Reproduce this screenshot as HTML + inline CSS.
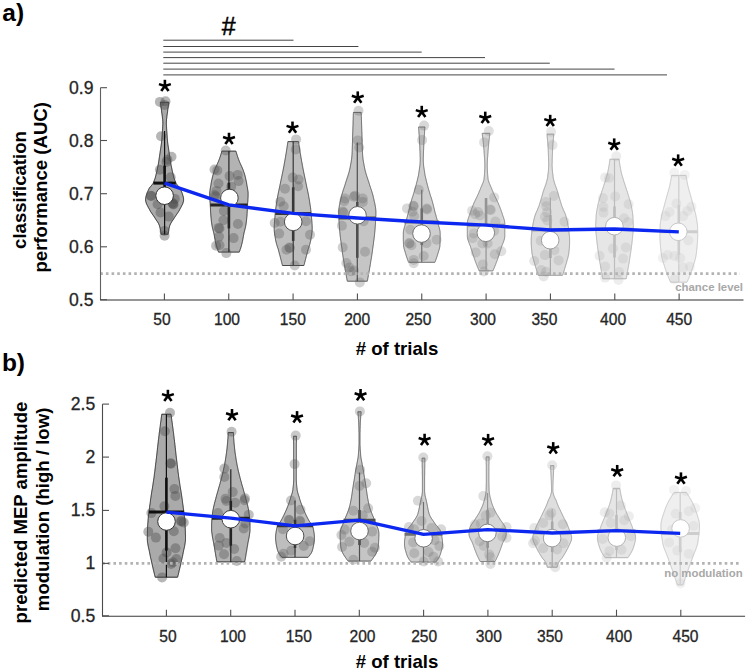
<!DOCTYPE html>
<html><head><meta charset="utf-8"><style>
html,body{margin:0;padding:0;background:#fff;width:749px;height:671px;overflow:hidden;}
svg text{font-family:"Liberation Sans", sans-serif;}
</style></head><body>
<svg width="749" height="671" viewBox="0 0 749 671" style="position:absolute;left:0;top:0">
<line x1="163.3" y1="40.2" x2="293.5" y2="40.2" stroke="#454545" stroke-width="1.0"/>
<line x1="163.3" y1="46.5" x2="358.4" y2="46.5" stroke="#454545" stroke-width="1.0"/>
<line x1="163.3" y1="52.1" x2="421.7" y2="52.1" stroke="#454545" stroke-width="1.0"/>
<line x1="163.3" y1="57.6" x2="485" y2="57.6" stroke="#454545" stroke-width="1.0"/>
<line x1="163.3" y1="63.2" x2="549.8" y2="63.2" stroke="#454545" stroke-width="1.0"/>
<line x1="163.3" y1="69.1" x2="614.5" y2="69.1" stroke="#454545" stroke-width="1.0"/>
<line x1="163.3" y1="74.9" x2="667" y2="74.9" stroke="#454545" stroke-width="1.0"/>
<text x="228.7" y="34.5" font-size="25" font-weight="normal" text-anchor="middle" fill="#000" stroke="#000" stroke-width="0.45">#</text>
<path d="M168.9,102.3 L168.8,103.0 L168.7,103.6 L168.6,104.3 L168.5,105.0 L168.4,105.6 L168.3,106.3 L168.2,107.0 L168.1,107.6 L168.0,108.3 L167.9,109.0 L167.8,109.6 L167.7,110.3 L167.6,111.0 L167.6,111.6 L167.5,112.3 L167.4,113.0 L167.3,113.6 L167.2,114.3 L167.1,115.0 L167.0,115.6 L166.9,116.3 L166.8,117.0 L166.8,117.6 L166.7,118.3 L166.6,119.0 L166.5,119.6 L166.5,120.3 L166.4,121.0 L166.4,121.6 L166.4,122.3 L166.4,123.0 L166.4,123.6 L166.4,124.3 L166.4,124.9 L166.5,125.6 L166.5,126.3 L166.5,126.9 L166.6,127.6 L166.6,128.3 L166.6,128.9 L166.7,129.6 L166.7,130.3 L166.8,130.9 L166.8,131.6 L166.9,132.3 L166.9,132.9 L167.0,133.6 L167.0,134.3 L167.1,134.9 L167.1,135.6 L167.2,136.3 L167.2,136.9 L167.2,137.6 L167.3,138.3 L167.3,138.9 L167.4,139.6 L167.5,140.3 L167.5,140.9 L167.6,141.6 L167.6,142.3 L167.7,142.9 L167.8,143.6 L167.9,144.3 L168.0,144.9 L168.1,145.6 L168.2,146.3 L168.3,146.9 L168.4,147.6 L168.5,148.3 L168.6,148.9 L168.7,149.6 L168.8,150.3 L168.9,150.9 L169.0,151.6 L169.1,152.3 L169.2,152.9 L169.3,153.6 L169.4,154.3 L169.5,154.9 L169.6,155.6 L169.7,156.3 L169.7,156.9 L169.9,157.6 L170.0,158.3 L170.1,158.9 L170.2,159.6 L170.3,160.3 L170.4,160.9 L170.5,161.6 L170.6,162.3 L170.7,162.9 L170.8,163.6 L170.9,164.3 L171.1,164.9 L171.2,165.6 L171.3,166.3 L171.5,166.9 L171.6,167.6 L171.7,168.2 L171.9,168.9 L172.0,169.6 L172.1,170.2 L172.3,170.9 L172.4,171.6 L172.6,172.2 L172.7,172.9 L172.9,173.6 L173.1,174.2 L173.2,174.9 L173.4,175.6 L173.6,176.2 L173.7,176.9 L173.9,177.6 L174.1,178.2 L174.3,178.9 L174.6,179.6 L174.8,180.2 L175.0,180.9 L175.3,181.6 L175.6,182.2 L175.8,182.9 L176.2,183.6 L176.7,184.2 L177.2,184.9 L177.8,185.6 L178.3,186.2 L178.9,186.9 L179.5,187.6 L179.9,188.2 L180.3,188.9 L180.6,189.6 L180.9,190.2 L181.2,190.9 L181.5,191.6 L181.8,192.2 L182.0,192.9 L182.3,193.6 L182.5,194.2 L182.7,194.9 L182.9,195.6 L183.1,196.2 L183.3,196.9 L183.4,197.6 L183.5,198.2 L183.6,198.9 L183.6,199.6 L183.6,200.2 L183.5,200.9 L183.4,201.6 L183.2,202.2 L183.0,202.9 L182.8,203.6 L182.5,204.2 L182.2,204.9 L181.8,205.6 L181.5,206.2 L181.1,206.9 L180.8,207.6 L180.4,208.2 L180.1,208.9 L179.7,209.6 L179.4,210.2 L179.0,210.9 L178.6,211.6 L178.2,212.2 L177.7,212.9 L177.3,213.5 L176.8,214.2 L176.3,214.9 L175.9,215.5 L175.4,216.2 L175.0,216.9 L174.6,217.5 L174.1,218.2 L173.7,218.9 L173.3,219.5 L172.8,220.2 L172.4,220.9 L171.9,221.5 L171.5,222.2 L171.1,222.9 L170.7,223.5 L170.4,224.2 L170.1,224.9 L169.8,225.5 L169.6,226.2 L169.5,226.9 L169.3,227.5 L169.1,228.2 L169.0,228.9 L168.8,229.5 L168.7,230.2 L168.6,230.9 L168.5,231.5 L168.4,232.2 L168.3,232.9 L168.2,233.5 L168.2,234.2 L161.0,234.2 L161.0,233.5 L160.9,232.9 L160.8,232.2 L160.7,231.5 L160.6,230.9 L160.5,230.2 L160.4,229.5 L160.2,228.9 L160.1,228.2 L159.9,227.5 L159.7,226.9 L159.6,226.2 L159.4,225.5 L159.1,224.9 L158.8,224.2 L158.5,223.5 L158.1,222.9 L157.7,222.2 L157.3,221.5 L156.8,220.9 L156.4,220.2 L155.9,219.5 L155.5,218.9 L155.1,218.2 L154.6,217.5 L154.2,216.9 L153.8,216.2 L153.3,215.5 L152.9,214.9 L152.4,214.2 L151.9,213.5 L151.5,212.9 L151.0,212.2 L150.6,211.6 L150.2,210.9 L149.8,210.2 L149.5,209.6 L149.1,208.9 L148.8,208.2 L148.4,207.6 L148.1,206.9 L147.7,206.2 L147.4,205.6 L147.0,204.9 L146.7,204.2 L146.4,203.6 L146.2,202.9 L146.0,202.2 L145.8,201.6 L145.7,200.9 L145.6,200.2 L145.6,199.6 L145.6,198.9 L145.7,198.2 L145.8,197.6 L145.9,196.9 L146.1,196.2 L146.3,195.6 L146.5,194.9 L146.7,194.2 L146.9,193.6 L147.2,192.9 L147.4,192.2 L147.7,191.6 L148.0,190.9 L148.3,190.2 L148.6,189.6 L148.9,188.9 L149.3,188.2 L149.7,187.6 L150.3,186.9 L150.9,186.2 L151.4,185.6 L152.0,184.9 L152.5,184.2 L153.0,183.6 L153.4,182.9 L153.6,182.2 L153.9,181.6 L154.2,180.9 L154.4,180.2 L154.6,179.6 L154.9,178.9 L155.1,178.2 L155.3,177.6 L155.5,176.9 L155.6,176.2 L155.8,175.6 L156.0,174.9 L156.1,174.2 L156.3,173.6 L156.5,172.9 L156.6,172.2 L156.8,171.6 L156.9,170.9 L157.1,170.2 L157.2,169.6 L157.3,168.9 L157.5,168.2 L157.6,167.6 L157.7,166.9 L157.9,166.3 L158.0,165.6 L158.1,164.9 L158.3,164.3 L158.4,163.6 L158.5,162.9 L158.6,162.3 L158.7,161.6 L158.8,160.9 L158.9,160.3 L159.0,159.6 L159.1,158.9 L159.2,158.3 L159.3,157.6 L159.5,156.9 L159.5,156.3 L159.6,155.6 L159.7,154.9 L159.8,154.3 L159.9,153.6 L160.0,152.9 L160.1,152.3 L160.2,151.6 L160.3,150.9 L160.4,150.3 L160.5,149.6 L160.6,148.9 L160.7,148.3 L160.8,147.6 L160.9,146.9 L161.0,146.3 L161.1,145.6 L161.2,144.9 L161.3,144.3 L161.4,143.6 L161.5,142.9 L161.6,142.3 L161.6,141.6 L161.7,140.9 L161.7,140.3 L161.8,139.6 L161.9,138.9 L161.9,138.3 L162.0,137.6 L162.0,136.9 L162.0,136.3 L162.1,135.6 L162.1,134.9 L162.2,134.3 L162.2,133.6 L162.3,132.9 L162.3,132.3 L162.4,131.6 L162.4,130.9 L162.5,130.3 L162.5,129.6 L162.6,128.9 L162.6,128.3 L162.6,127.6 L162.7,126.9 L162.7,126.3 L162.7,125.6 L162.8,124.9 L162.8,124.3 L162.8,123.6 L162.8,123.0 L162.8,122.3 L162.8,121.6 L162.8,121.0 L162.7,120.3 L162.7,119.6 L162.6,119.0 L162.5,118.3 L162.4,117.6 L162.4,117.0 L162.3,116.3 L162.2,115.6 L162.1,115.0 L162.0,114.3 L161.9,113.6 L161.8,113.0 L161.7,112.3 L161.6,111.6 L161.6,111.0 L161.5,110.3 L161.4,109.6 L161.3,109.0 L161.2,108.3 L161.1,107.6 L161.0,107.0 L160.9,106.3 L160.8,105.6 L160.7,105.0 L160.6,104.3 L160.5,103.6 L160.4,103.0 L160.3,102.3 Z" fill="rgb(170,170,170)" stroke="rgb(40,40,40)" stroke-width="1.0" stroke-linejoin="round"/>
<circle cx="159.9" cy="101.9" r="5.0" fill="rgb(78,78,78)" fill-opacity="0.41"/>
<circle cx="165.5" cy="101.2" r="5.0" fill="rgb(78,78,78)" fill-opacity="0.41"/>
<circle cx="164.5" cy="105" r="5.0" fill="rgb(78,78,78)" fill-opacity="0.41"/>
<circle cx="161" cy="136.2" r="5.0" fill="rgb(78,78,78)" fill-opacity="0.41"/>
<circle cx="171.5" cy="156.8" r="5.0" fill="rgb(78,78,78)" fill-opacity="0.41"/>
<circle cx="167.4" cy="159.7" r="5.0" fill="rgb(78,78,78)" fill-opacity="0.41"/>
<circle cx="166.5" cy="162" r="5.0" fill="rgb(78,78,78)" fill-opacity="0.41"/>
<circle cx="159.9" cy="169.8" r="5.0" fill="rgb(78,78,78)" fill-opacity="0.41"/>
<circle cx="170.7" cy="177.3" r="5.0" fill="rgb(78,78,78)" fill-opacity="0.41"/>
<circle cx="150.7" cy="195.7" r="5.0" fill="rgb(78,78,78)" fill-opacity="0.41"/>
<circle cx="151.5" cy="196" r="5.0" fill="rgb(78,78,78)" fill-opacity="0.41"/>
<circle cx="174.8" cy="198.9" r="5.0" fill="rgb(78,78,78)" fill-opacity="0.41"/>
<circle cx="173.2" cy="203.9" r="5.0" fill="rgb(78,78,78)" fill-opacity="0.41"/>
<circle cx="173.5" cy="204.5" r="5.0" fill="rgb(78,78,78)" fill-opacity="0.41"/>
<circle cx="172.5" cy="203" r="5.0" fill="rgb(78,78,78)" fill-opacity="0.41"/>
<circle cx="157.6" cy="204.3" r="5.0" fill="rgb(78,78,78)" fill-opacity="0.41"/>
<circle cx="160.5" cy="212.5" r="5.0" fill="rgb(78,78,78)" fill-opacity="0.41"/>
<circle cx="168.7" cy="216.6" r="5.0" fill="rgb(78,78,78)" fill-opacity="0.41"/>
<circle cx="164.5" cy="230.9" r="5.0" fill="rgb(78,78,78)" fill-opacity="0.41"/>
<circle cx="164.6" cy="235.8" r="5.0" fill="rgb(78,78,78)" fill-opacity="0.41"/>
<line x1="164.6" y1="131" x2="164.6" y2="234.2" stroke="rgb(15,15,15)" stroke-width="1.2"/>
<line x1="164.6" y1="165.7" x2="164.6" y2="200" stroke="rgb(15,15,15)" stroke-width="2.6"/>
<line x1="153.4" y1="183.1" x2="175.79999999999998" y2="183.1" stroke="rgb(15,15,15)" stroke-width="3.0"/>
<circle cx="164.6" cy="195.7" r="8.8" fill="#fff" stroke="rgb(50,50,50)" stroke-width="1.0"/>
<path d="M235.9,151.1 L236.1,151.8 L236.3,152.4 L236.5,153.1 L236.7,153.8 L236.9,154.4 L237.1,155.1 L237.3,155.8 L237.5,156.4 L237.8,157.1 L238.0,157.7 L238.2,158.4 L238.5,159.1 L238.7,159.7 L239.0,160.4 L239.2,161.1 L239.5,161.7 L239.8,162.4 L240.0,163.1 L240.4,163.7 L240.7,164.4 L241.0,165.1 L241.3,165.7 L241.6,166.4 L241.9,167.0 L242.2,167.7 L242.5,168.4 L242.8,169.0 L243.0,169.7 L243.3,170.4 L243.5,171.0 L243.7,171.7 L244.0,172.4 L244.2,173.0 L244.4,173.7 L244.6,174.4 L244.8,175.0 L245.0,175.7 L245.1,176.3 L245.3,177.0 L245.5,177.7 L245.6,178.3 L245.8,179.0 L245.9,179.7 L246.1,180.3 L246.2,181.0 L246.3,181.7 L246.5,182.3 L246.6,183.0 L246.7,183.7 L246.8,184.3 L246.9,185.0 L247.0,185.7 L247.1,186.3 L247.3,187.0 L247.4,187.6 L247.5,188.3 L247.6,189.0 L247.7,189.6 L247.8,190.3 L247.9,191.0 L248.0,191.6 L248.1,192.3 L248.1,193.0 L248.1,193.6 L248.1,194.3 L248.1,195.0 L248.1,195.6 L248.1,196.3 L248.1,196.9 L248.0,197.6 L248.0,198.3 L248.0,198.9 L247.9,199.6 L247.9,200.3 L247.8,200.9 L247.8,201.6 L247.7,202.3 L247.7,202.9 L247.6,203.6 L247.6,204.3 L247.5,204.9 L247.5,205.6 L247.5,206.3 L247.4,206.9 L247.4,207.6 L247.4,208.2 L247.3,208.9 L247.3,209.6 L247.3,210.2 L247.3,210.9 L247.2,211.6 L247.2,212.2 L247.1,212.9 L247.1,213.6 L247.1,214.2 L247.0,214.9 L247.0,215.6 L246.9,216.2 L246.9,216.9 L246.8,217.5 L246.7,218.2 L246.7,218.9 L246.6,219.5 L246.5,220.2 L246.5,220.9 L246.4,221.5 L246.3,222.2 L246.2,222.9 L246.1,223.5 L246.0,224.2 L245.9,224.9 L245.8,225.5 L245.7,226.2 L245.5,226.8 L245.4,227.5 L245.2,228.2 L245.1,228.8 L244.9,229.5 L244.7,230.2 L244.6,230.8 L244.4,231.5 L244.2,232.2 L244.1,232.8 L243.9,233.5 L243.8,234.2 L243.7,234.8 L243.5,235.5 L243.4,236.2 L243.3,236.8 L243.2,237.5 L243.1,238.1 L242.9,238.8 L242.8,239.5 L242.7,240.1 L242.6,240.8 L242.4,241.5 L242.3,242.1 L242.1,242.8 L242.0,243.5 L241.8,244.1 L241.6,244.8 L241.5,245.5 L241.3,246.1 L241.1,246.8 L240.9,247.4 L240.7,248.1 L240.5,248.8 L240.2,249.4 L240.0,250.1 L239.8,250.8 L239.5,251.4 L239.3,252.1 L218.5,252.1 L218.3,251.4 L218.0,250.8 L217.8,250.1 L217.6,249.4 L217.3,248.8 L217.1,248.1 L216.9,247.4 L216.7,246.8 L216.5,246.1 L216.3,245.5 L216.2,244.8 L216.0,244.1 L215.8,243.5 L215.7,242.8 L215.5,242.1 L215.4,241.5 L215.2,240.8 L215.1,240.1 L215.0,239.5 L214.9,238.8 L214.7,238.1 L214.6,237.5 L214.5,236.8 L214.4,236.2 L214.3,235.5 L214.1,234.8 L214.0,234.2 L213.9,233.5 L213.7,232.8 L213.6,232.2 L213.4,231.5 L213.2,230.8 L213.1,230.2 L212.9,229.5 L212.7,228.8 L212.6,228.2 L212.4,227.5 L212.3,226.8 L212.1,226.2 L212.0,225.5 L211.9,224.9 L211.8,224.2 L211.7,223.5 L211.6,222.9 L211.5,222.2 L211.4,221.5 L211.3,220.9 L211.3,220.2 L211.2,219.5 L211.1,218.9 L211.1,218.2 L211.0,217.5 L210.9,216.9 L210.9,216.2 L210.8,215.6 L210.8,214.9 L210.7,214.2 L210.7,213.6 L210.7,212.9 L210.6,212.2 L210.6,211.6 L210.5,210.9 L210.5,210.2 L210.5,209.6 L210.5,208.9 L210.4,208.2 L210.4,207.6 L210.4,206.9 L210.3,206.3 L210.3,205.6 L210.3,204.9 L210.2,204.3 L210.2,203.6 L210.1,202.9 L210.1,202.3 L210.0,201.6 L210.0,200.9 L209.9,200.3 L209.9,199.6 L209.8,198.9 L209.8,198.3 L209.8,197.6 L209.7,196.9 L209.7,196.3 L209.7,195.6 L209.7,195.0 L209.7,194.3 L209.7,193.6 L209.7,193.0 L209.7,192.3 L209.8,191.6 L209.9,191.0 L210.0,190.3 L210.1,189.6 L210.2,189.0 L210.3,188.3 L210.4,187.6 L210.5,187.0 L210.7,186.3 L210.8,185.7 L210.9,185.0 L211.0,184.3 L211.1,183.7 L211.2,183.0 L211.3,182.3 L211.5,181.7 L211.6,181.0 L211.7,180.3 L211.9,179.7 L212.0,179.0 L212.2,178.3 L212.3,177.7 L212.5,177.0 L212.7,176.3 L212.8,175.7 L213.0,175.0 L213.2,174.4 L213.4,173.7 L213.6,173.0 L213.8,172.4 L214.1,171.7 L214.3,171.0 L214.5,170.4 L214.8,169.7 L215.0,169.0 L215.3,168.4 L215.6,167.7 L215.9,167.0 L216.2,166.4 L216.5,165.7 L216.8,165.1 L217.1,164.4 L217.4,163.7 L217.8,163.1 L218.0,162.4 L218.3,161.7 L218.6,161.1 L218.8,160.4 L219.1,159.7 L219.3,159.1 L219.6,158.4 L219.8,157.7 L220.0,157.1 L220.3,156.4 L220.5,155.8 L220.7,155.1 L220.9,154.4 L221.1,153.8 L221.3,153.1 L221.5,152.4 L221.7,151.8 L221.9,151.1 Z" fill="rgb(179,179,179)" stroke="rgb(55,55,55)" stroke-width="1.0" stroke-linejoin="round"/>
<circle cx="225.7" cy="150.5" r="5.0" fill="rgb(82,82,82)" fill-opacity="0.37"/>
<circle cx="217.3" cy="170.4" r="5.0" fill="rgb(82,82,82)" fill-opacity="0.37"/>
<circle cx="214.5" cy="169.5" r="5.0" fill="rgb(82,82,82)" fill-opacity="0.37"/>
<circle cx="229.6" cy="176.1" r="5.0" fill="rgb(82,82,82)" fill-opacity="0.37"/>
<circle cx="237.8" cy="174.9" r="5.0" fill="rgb(82,82,82)" fill-opacity="0.37"/>
<circle cx="238.6" cy="181.1" r="5.0" fill="rgb(82,82,82)" fill-opacity="0.37"/>
<circle cx="218.5" cy="183.5" r="5.0" fill="rgb(82,82,82)" fill-opacity="0.37"/>
<circle cx="231.2" cy="186.8" r="5.0" fill="rgb(82,82,82)" fill-opacity="0.37"/>
<circle cx="216.5" cy="190.9" r="5.0" fill="rgb(82,82,82)" fill-opacity="0.37"/>
<circle cx="214.8" cy="195" r="5.0" fill="rgb(82,82,82)" fill-opacity="0.37"/>
<circle cx="215.6" cy="196.5" r="5.0" fill="rgb(82,82,82)" fill-opacity="0.37"/>
<circle cx="223.9" cy="211" r="5.0" fill="rgb(82,82,82)" fill-opacity="0.37"/>
<circle cx="223.4" cy="220.2" r="5.0" fill="rgb(82,82,82)" fill-opacity="0.37"/>
<circle cx="218.6" cy="227.9" r="5.0" fill="rgb(82,82,82)" fill-opacity="0.37"/>
<circle cx="219.5" cy="228.5" r="5.0" fill="rgb(82,82,82)" fill-opacity="0.37"/>
<circle cx="237.9" cy="224" r="5.0" fill="rgb(82,82,82)" fill-opacity="0.37"/>
<circle cx="219" cy="236.6" r="5.0" fill="rgb(82,82,82)" fill-opacity="0.37"/>
<circle cx="233.6" cy="238.1" r="5.0" fill="rgb(82,82,82)" fill-opacity="0.37"/>
<circle cx="219.5" cy="245.3" r="5.0" fill="rgb(82,82,82)" fill-opacity="0.37"/>
<circle cx="216.1" cy="245.8" r="5.0" fill="rgb(82,82,82)" fill-opacity="0.37"/>
<circle cx="226.3" cy="253.1" r="5.0" fill="rgb(82,82,82)" fill-opacity="0.37"/>
<line x1="228.9" y1="151.1" x2="228.9" y2="252.1" stroke="rgb(35,35,35)" stroke-width="1.2"/>
<line x1="228.9" y1="182.7" x2="228.9" y2="228.4" stroke="rgb(35,35,35)" stroke-width="2.6"/>
<line x1="210.25" y1="204.9" x2="247.55" y2="204.9" stroke="rgb(35,35,35)" stroke-width="3.0"/>
<circle cx="229.4" cy="198.0" r="8.8" fill="#fff" stroke="rgb(65,65,65)" stroke-width="1.0"/>
<path d="M298.5,141.6 L298.6,142.3 L298.7,142.9 L298.8,143.6 L298.9,144.3 L299.0,144.9 L299.1,145.6 L299.2,146.3 L299.3,146.9 L299.4,147.6 L299.5,148.3 L299.6,148.9 L299.7,149.6 L299.8,150.3 L299.9,150.9 L300.0,151.6 L300.1,152.3 L300.2,152.9 L300.3,153.6 L300.5,154.3 L300.6,154.9 L300.7,155.6 L300.8,156.3 L300.9,156.9 L301.0,157.6 L301.1,158.3 L301.3,158.9 L301.4,159.6 L301.5,160.3 L301.6,160.9 L301.7,161.6 L301.8,162.2 L302.0,162.9 L302.1,163.6 L302.2,164.2 L302.3,164.9 L302.4,165.6 L302.6,166.2 L302.7,166.9 L302.8,167.6 L302.9,168.2 L303.1,168.9 L303.2,169.6 L303.3,170.2 L303.5,170.9 L303.6,171.6 L303.7,172.2 L303.9,172.9 L304.0,173.6 L304.2,174.2 L304.3,174.9 L304.4,175.6 L304.6,176.2 L304.7,176.9 L304.8,177.6 L305.0,178.2 L305.1,178.9 L305.3,179.6 L305.4,180.2 L305.5,180.9 L305.7,181.6 L305.8,182.2 L305.9,182.9 L306.1,183.6 L306.2,184.2 L306.4,184.9 L306.5,185.6 L306.6,186.2 L306.8,186.9 L306.9,187.6 L307.1,188.2 L307.2,188.9 L307.4,189.6 L307.5,190.2 L307.6,190.9 L307.8,191.6 L307.9,192.2 L308.1,192.9 L308.2,193.6 L308.3,194.2 L308.5,194.9 L308.6,195.6 L308.7,196.2 L308.8,196.9 L308.9,197.6 L309.1,198.2 L309.2,198.9 L309.3,199.6 L309.4,200.2 L309.5,200.9 L309.6,201.6 L309.7,202.2 L309.8,202.9 L309.9,203.6 L310.0,204.2 L310.1,204.9 L310.2,205.5 L310.3,206.2 L310.4,206.9 L310.5,207.5 L310.6,208.2 L310.7,208.9 L310.7,209.5 L310.8,210.2 L310.9,210.9 L311.0,211.5 L311.0,212.2 L311.1,212.9 L311.2,213.5 L311.2,214.2 L311.3,214.9 L311.4,215.5 L311.4,216.2 L311.5,216.9 L311.5,217.5 L311.6,218.2 L311.7,218.9 L311.7,219.5 L311.8,220.2 L311.8,220.9 L311.9,221.5 L311.9,222.2 L312.0,222.9 L312.0,223.5 L312.1,224.2 L312.1,224.9 L312.1,225.5 L312.2,226.2 L312.2,226.9 L312.2,227.5 L312.2,228.2 L312.2,228.9 L312.2,229.5 L312.2,230.2 L312.1,230.9 L312.1,231.5 L312.0,232.2 L311.9,232.9 L311.8,233.5 L311.8,234.2 L311.7,234.9 L311.6,235.5 L311.4,236.2 L311.3,236.9 L311.2,237.5 L311.1,238.2 L311.0,238.9 L310.9,239.5 L310.8,240.2 L310.6,240.9 L310.5,241.5 L310.3,242.2 L310.1,242.9 L310.0,243.5 L309.8,244.2 L309.6,244.8 L309.4,245.5 L309.2,246.2 L309.0,246.8 L308.8,247.5 L308.5,248.2 L308.3,248.8 L308.1,249.5 L307.9,250.2 L307.8,250.8 L307.6,251.5 L307.4,252.2 L307.2,252.8 L307.1,253.5 L306.9,254.2 L306.7,254.8 L306.5,255.5 L306.3,256.2 L306.2,256.8 L306.0,257.5 L305.8,258.2 L305.7,258.8 L305.5,259.5 L305.3,260.2 L305.1,260.8 L305.0,261.5 L304.8,262.2 L304.6,262.8 L304.5,263.5 L304.3,264.2 L304.1,264.8 L303.9,265.5 L282.4,265.5 L282.3,264.8 L282.1,264.2 L281.9,263.5 L281.8,262.8 L281.6,262.2 L281.4,261.5 L281.3,260.8 L281.1,260.2 L280.9,259.5 L280.7,258.8 L280.6,258.2 L280.4,257.5 L280.2,256.8 L280.1,256.2 L279.9,255.5 L279.7,254.8 L279.5,254.2 L279.3,253.5 L279.2,252.8 L279.0,252.2 L278.8,251.5 L278.6,250.8 L278.5,250.2 L278.3,249.5 L278.1,248.8 L277.9,248.2 L277.6,247.5 L277.4,246.8 L277.2,246.2 L277.0,245.5 L276.8,244.8 L276.6,244.2 L276.4,243.5 L276.3,242.9 L276.1,242.2 L275.9,241.5 L275.8,240.9 L275.6,240.2 L275.5,239.5 L275.4,238.9 L275.3,238.2 L275.2,237.5 L275.1,236.9 L275.0,236.2 L274.8,235.5 L274.7,234.9 L274.6,234.2 L274.6,233.5 L274.5,232.9 L274.4,232.2 L274.3,231.5 L274.3,230.9 L274.2,230.2 L274.2,229.5 L274.2,228.9 L274.2,228.2 L274.2,227.5 L274.2,226.9 L274.2,226.2 L274.3,225.5 L274.3,224.9 L274.3,224.2 L274.4,223.5 L274.4,222.9 L274.5,222.2 L274.5,221.5 L274.6,220.9 L274.6,220.2 L274.7,219.5 L274.7,218.9 L274.8,218.2 L274.9,217.5 L274.9,216.9 L275.0,216.2 L275.0,215.5 L275.1,214.9 L275.2,214.2 L275.2,213.5 L275.3,212.9 L275.4,212.2 L275.4,211.5 L275.5,210.9 L275.6,210.2 L275.7,209.5 L275.7,208.9 L275.8,208.2 L275.9,207.5 L276.0,206.9 L276.1,206.2 L276.2,205.5 L276.3,204.9 L276.4,204.2 L276.5,203.6 L276.6,202.9 L276.7,202.2 L276.8,201.6 L276.9,200.9 L277.0,200.2 L277.1,199.6 L277.2,198.9 L277.3,198.2 L277.5,197.6 L277.6,196.9 L277.7,196.2 L277.8,195.6 L277.9,194.9 L278.1,194.2 L278.2,193.6 L278.3,192.9 L278.5,192.2 L278.6,191.6 L278.8,190.9 L278.9,190.2 L279.0,189.6 L279.2,188.9 L279.3,188.2 L279.5,187.6 L279.6,186.9 L279.8,186.2 L279.9,185.6 L280.0,184.9 L280.2,184.2 L280.3,183.6 L280.5,182.9 L280.6,182.2 L280.7,181.6 L280.9,180.9 L281.0,180.2 L281.1,179.6 L281.3,178.9 L281.4,178.2 L281.6,177.6 L281.7,176.9 L281.8,176.2 L282.0,175.6 L282.1,174.9 L282.2,174.2 L282.4,173.6 L282.5,172.9 L282.7,172.2 L282.8,171.6 L282.9,170.9 L283.1,170.2 L283.2,169.6 L283.3,168.9 L283.5,168.2 L283.6,167.6 L283.7,166.9 L283.8,166.2 L284.0,165.6 L284.1,164.9 L284.2,164.2 L284.3,163.6 L284.4,162.9 L284.6,162.2 L284.7,161.6 L284.8,160.9 L284.9,160.3 L285.0,159.6 L285.1,158.9 L285.3,158.3 L285.4,157.6 L285.5,156.9 L285.6,156.3 L285.7,155.6 L285.8,154.9 L285.9,154.3 L286.1,153.6 L286.2,152.9 L286.3,152.3 L286.4,151.6 L286.5,150.9 L286.6,150.3 L286.7,149.6 L286.8,148.9 L286.9,148.3 L287.0,147.6 L287.1,146.9 L287.2,146.3 L287.3,145.6 L287.4,144.9 L287.5,144.3 L287.6,143.6 L287.7,142.9 L287.8,142.3 L287.9,141.6 Z" fill="rgb(190,190,190)" stroke="rgb(72,72,72)" stroke-width="1.0" stroke-linejoin="round"/>
<circle cx="296.1" cy="139.4" r="5.0" fill="rgb(88,88,88)" fill-opacity="0.32"/>
<circle cx="295.7" cy="149.5" r="5.0" fill="rgb(88,88,88)" fill-opacity="0.32"/>
<circle cx="292.7" cy="177.6" r="5.0" fill="rgb(88,88,88)" fill-opacity="0.32"/>
<circle cx="298.6" cy="179.5" r="5.0" fill="rgb(88,88,88)" fill-opacity="0.32"/>
<circle cx="298.1" cy="186.3" r="5.0" fill="rgb(88,88,88)" fill-opacity="0.32"/>
<circle cx="285" cy="188.7" r="5.0" fill="rgb(88,88,88)" fill-opacity="0.32"/>
<circle cx="283.7" cy="206.2" r="5.0" fill="rgb(88,88,88)" fill-opacity="0.32"/>
<circle cx="280.3" cy="201.7" r="5.0" fill="rgb(88,88,88)" fill-opacity="0.32"/>
<circle cx="274.7" cy="223" r="5.0" fill="rgb(88,88,88)" fill-opacity="0.32"/>
<circle cx="280.3" cy="221.8" r="5.0" fill="rgb(88,88,88)" fill-opacity="0.32"/>
<circle cx="306" cy="221.3" r="5.0" fill="rgb(88,88,88)" fill-opacity="0.32"/>
<circle cx="279.2" cy="233.6" r="5.0" fill="rgb(88,88,88)" fill-opacity="0.32"/>
<circle cx="310" cy="234.7" r="5.0" fill="rgb(88,88,88)" fill-opacity="0.32"/>
<circle cx="289.3" cy="247.6" r="5.0" fill="rgb(88,88,88)" fill-opacity="0.32"/>
<circle cx="290" cy="248" r="5.0" fill="rgb(88,88,88)" fill-opacity="0.32"/>
<circle cx="286.5" cy="249.8" r="5.0" fill="rgb(88,88,88)" fill-opacity="0.32"/>
<circle cx="306" cy="249.8" r="5.0" fill="rgb(88,88,88)" fill-opacity="0.32"/>
<circle cx="294.8" cy="265.5" r="5.0" fill="rgb(88,88,88)" fill-opacity="0.32"/>
<line x1="293.2" y1="141.6" x2="293.2" y2="265.5" stroke="rgb(55,55,55)" stroke-width="1.2"/>
<line x1="293.2" y1="187.3" x2="293.2" y2="240.9" stroke="rgb(55,55,55)" stroke-width="2.6"/>
<line x1="275.3" y1="213.4" x2="311.09999999999997" y2="213.4" stroke="rgb(55,55,55)" stroke-width="3.0"/>
<circle cx="293.2" cy="221.9" r="8.8" fill="#fff" stroke="rgb(80,80,80)" stroke-width="1.0"/>
<path d="M361.2,112.4 L361.2,113.1 L361.2,113.7 L361.3,114.4 L361.3,115.1 L361.3,115.7 L361.3,116.4 L361.4,117.1 L361.4,117.7 L361.4,118.4 L361.4,119.0 L361.4,119.7 L361.5,120.4 L361.5,121.0 L361.5,121.7 L361.5,122.4 L361.6,123.0 L361.6,123.7 L361.6,124.4 L361.6,125.0 L361.6,125.7 L361.7,126.4 L361.7,127.0 L361.7,127.7 L361.7,128.3 L361.8,129.0 L361.8,129.7 L361.8,130.3 L361.8,131.0 L361.8,131.7 L361.9,132.3 L361.9,133.0 L361.9,133.7 L361.9,134.3 L362.0,135.0 L362.0,135.7 L362.0,136.3 L362.0,137.0 L362.0,137.7 L362.0,138.3 L362.1,139.0 L362.1,139.6 L362.1,140.3 L362.1,141.0 L362.1,141.6 L362.1,142.3 L362.2,143.0 L362.2,143.6 L362.2,144.3 L362.2,145.0 L362.2,145.6 L362.3,146.3 L362.3,147.0 L362.3,147.6 L362.3,148.3 L362.3,149.0 L362.4,149.6 L362.4,150.3 L362.4,150.9 L362.4,151.6 L362.5,152.3 L362.5,152.9 L362.5,153.6 L362.6,154.3 L362.6,154.9 L362.7,155.6 L362.7,156.3 L362.8,156.9 L362.9,157.6 L362.9,158.3 L363.0,158.9 L363.1,159.6 L363.2,160.2 L363.3,160.9 L363.4,161.6 L363.5,162.2 L363.6,162.9 L363.8,163.6 L363.9,164.2 L364.0,164.9 L364.1,165.6 L364.3,166.2 L364.4,166.9 L364.5,167.6 L364.7,168.2 L364.8,168.9 L364.9,169.6 L365.1,170.2 L365.3,170.9 L365.4,171.5 L365.6,172.2 L365.8,172.9 L366.0,173.5 L366.2,174.2 L366.4,174.9 L366.6,175.5 L366.8,176.2 L367.0,176.9 L367.3,177.5 L367.5,178.2 L367.7,178.9 L367.9,179.5 L368.1,180.2 L368.4,180.9 L368.6,181.5 L368.8,182.2 L369.0,182.8 L369.2,183.5 L369.4,184.2 L369.6,184.8 L369.8,185.5 L370.0,186.2 L370.3,186.8 L370.5,187.5 L370.7,188.2 L370.9,188.8 L371.2,189.5 L371.4,190.2 L371.6,190.8 L371.8,191.5 L372.0,192.1 L372.2,192.8 L372.4,193.5 L372.6,194.1 L372.8,194.8 L373.0,195.5 L373.1,196.1 L373.3,196.8 L373.4,197.5 L373.6,198.1 L373.7,198.8 L373.9,199.5 L374.0,200.1 L374.2,200.8 L374.3,201.5 L374.5,202.1 L374.6,202.8 L374.8,203.4 L374.9,204.1 L375.0,204.8 L375.2,205.4 L375.3,206.1 L375.4,206.8 L375.5,207.4 L375.6,208.1 L375.7,208.8 L375.7,209.4 L375.8,210.1 L375.9,210.8 L375.9,211.4 L375.9,212.1 L375.9,212.7 L375.9,213.4 L375.9,214.1 L375.9,214.7 L375.9,215.4 L375.8,216.1 L375.8,216.7 L375.8,217.4 L375.8,218.1 L375.7,218.7 L375.7,219.4 L375.7,220.1 L375.6,220.7 L375.6,221.4 L375.5,222.1 L375.5,222.7 L375.5,223.4 L375.4,224.0 L375.4,224.7 L375.3,225.4 L375.3,226.0 L375.2,226.7 L375.2,227.4 L375.2,228.0 L375.1,228.7 L375.0,229.4 L375.0,230.0 L374.9,230.7 L374.9,231.4 L374.8,232.0 L374.7,232.7 L374.7,233.4 L374.6,234.0 L374.5,234.7 L374.5,235.3 L374.4,236.0 L374.3,236.7 L374.2,237.3 L374.1,238.0 L374.1,238.7 L374.0,239.3 L373.9,240.0 L373.8,240.7 L373.7,241.3 L373.6,242.0 L373.5,242.7 L373.5,243.3 L373.4,244.0 L373.3,244.6 L373.2,245.3 L373.1,246.0 L373.0,246.6 L372.9,247.3 L372.8,248.0 L372.7,248.6 L372.6,249.3 L372.6,250.0 L372.5,250.6 L372.4,251.3 L372.3,252.0 L372.2,252.6 L372.1,253.3 L372.0,254.0 L371.9,254.6 L371.8,255.3 L371.7,255.9 L371.6,256.6 L371.5,257.3 L371.4,257.9 L371.3,258.6 L371.2,259.3 L371.0,259.9 L370.9,260.6 L370.8,261.3 L370.7,261.9 L370.6,262.6 L370.5,263.3 L370.4,263.9 L370.3,264.6 L370.2,265.3 L370.1,265.9 L370.0,266.6 L369.8,267.2 L369.7,267.9 L369.6,268.6 L369.5,269.2 L369.4,269.9 L369.3,270.6 L369.1,271.2 L369.0,271.9 L368.9,272.6 L368.8,273.2 L368.7,273.9 L368.5,274.6 L368.4,275.2 L368.3,275.9 L368.2,276.5 L368.1,277.2 L367.9,277.9 L367.8,278.5 L367.7,279.2 L367.6,279.9 L367.4,280.5 L367.3,281.2 L347.3,281.2 L347.2,280.5 L347.0,279.9 L346.9,279.2 L346.8,278.5 L346.7,277.9 L346.5,277.2 L346.4,276.5 L346.3,275.9 L346.2,275.2 L346.1,274.6 L345.9,273.9 L345.8,273.2 L345.7,272.6 L345.6,271.9 L345.5,271.2 L345.3,270.6 L345.2,269.9 L345.1,269.2 L345.0,268.6 L344.9,267.9 L344.8,267.2 L344.6,266.6 L344.5,265.9 L344.4,265.3 L344.3,264.6 L344.2,263.9 L344.1,263.3 L344.0,262.6 L343.9,261.9 L343.8,261.3 L343.7,260.6 L343.6,259.9 L343.4,259.3 L343.3,258.6 L343.2,257.9 L343.1,257.3 L343.0,256.6 L342.9,255.9 L342.8,255.3 L342.7,254.6 L342.6,254.0 L342.5,253.3 L342.4,252.6 L342.3,252.0 L342.2,251.3 L342.1,250.6 L342.0,250.0 L342.0,249.3 L341.9,248.6 L341.8,248.0 L341.7,247.3 L341.6,246.6 L341.5,246.0 L341.4,245.3 L341.3,244.6 L341.2,244.0 L341.1,243.3 L341.1,242.7 L341.0,242.0 L340.9,241.3 L340.8,240.7 L340.7,240.0 L340.6,239.3 L340.5,238.7 L340.5,238.0 L340.4,237.3 L340.3,236.7 L340.2,236.0 L340.1,235.3 L340.1,234.7 L340.0,234.0 L339.9,233.4 L339.9,232.7 L339.8,232.0 L339.7,231.4 L339.7,230.7 L339.6,230.0 L339.6,229.4 L339.5,228.7 L339.4,228.0 L339.4,227.4 L339.4,226.7 L339.3,226.0 L339.3,225.4 L339.2,224.7 L339.2,224.0 L339.1,223.4 L339.1,222.7 L339.1,222.1 L339.0,221.4 L339.0,220.7 L338.9,220.1 L338.9,219.4 L338.9,218.7 L338.8,218.1 L338.8,217.4 L338.8,216.7 L338.8,216.1 L338.7,215.4 L338.7,214.7 L338.7,214.1 L338.7,213.4 L338.7,212.7 L338.7,212.1 L338.7,211.4 L338.7,210.8 L338.8,210.1 L338.9,209.4 L338.9,208.8 L339.0,208.1 L339.1,207.4 L339.2,206.8 L339.3,206.1 L339.4,205.4 L339.6,204.8 L339.7,204.1 L339.8,203.4 L340.0,202.8 L340.1,202.1 L340.3,201.5 L340.4,200.8 L340.6,200.1 L340.7,199.5 L340.9,198.8 L341.0,198.1 L341.2,197.5 L341.3,196.8 L341.5,196.1 L341.6,195.5 L341.8,194.8 L342.0,194.1 L342.2,193.5 L342.4,192.8 L342.6,192.1 L342.8,191.5 L343.0,190.8 L343.2,190.2 L343.4,189.5 L343.7,188.8 L343.9,188.2 L344.1,187.5 L344.3,186.8 L344.6,186.2 L344.8,185.5 L345.0,184.8 L345.2,184.2 L345.4,183.5 L345.6,182.8 L345.8,182.2 L346.0,181.5 L346.2,180.9 L346.5,180.2 L346.7,179.5 L346.9,178.9 L347.1,178.2 L347.3,177.5 L347.6,176.9 L347.8,176.2 L348.0,175.5 L348.2,174.9 L348.4,174.2 L348.6,173.5 L348.8,172.9 L349.0,172.2 L349.2,171.5 L349.3,170.9 L349.5,170.2 L349.7,169.6 L349.8,168.9 L349.9,168.2 L350.1,167.6 L350.2,166.9 L350.3,166.2 L350.5,165.6 L350.6,164.9 L350.7,164.2 L350.8,163.6 L351.0,162.9 L351.1,162.2 L351.2,161.6 L351.3,160.9 L351.4,160.2 L351.5,159.6 L351.6,158.9 L351.7,158.3 L351.7,157.6 L351.8,156.9 L351.9,156.3 L351.9,155.6 L352.0,154.9 L352.0,154.3 L352.1,153.6 L352.1,152.9 L352.1,152.3 L352.2,151.6 L352.2,150.9 L352.2,150.3 L352.2,149.6 L352.3,149.0 L352.3,148.3 L352.3,147.6 L352.3,147.0 L352.3,146.3 L352.4,145.6 L352.4,145.0 L352.4,144.3 L352.4,143.6 L352.4,143.0 L352.5,142.3 L352.5,141.6 L352.5,141.0 L352.5,140.3 L352.5,139.6 L352.5,139.0 L352.6,138.3 L352.6,137.7 L352.6,137.0 L352.6,136.3 L352.6,135.7 L352.6,135.0 L352.7,134.3 L352.7,133.7 L352.7,133.0 L352.7,132.3 L352.8,131.7 L352.8,131.0 L352.8,130.3 L352.8,129.7 L352.8,129.0 L352.9,128.3 L352.9,127.7 L352.9,127.0 L352.9,126.4 L353.0,125.7 L353.0,125.0 L353.0,124.4 L353.0,123.7 L353.0,123.0 L353.1,122.4 L353.1,121.7 L353.1,121.0 L353.1,120.4 L353.2,119.7 L353.2,119.0 L353.2,118.4 L353.2,117.7 L353.2,117.1 L353.3,116.4 L353.3,115.7 L353.3,115.1 L353.3,114.4 L353.4,113.7 L353.4,113.1 L353.4,112.4 Z" fill="rgb(197,197,197)" stroke="rgb(92,92,92)" stroke-width="1.0" stroke-linejoin="round"/>
<circle cx="358.5" cy="110.7" r="5.0" fill="rgb(96,96,96)" fill-opacity="0.29"/>
<circle cx="357.8" cy="140.4" r="5.0" fill="rgb(96,96,96)" fill-opacity="0.29"/>
<circle cx="359.2" cy="147.5" r="5.0" fill="rgb(96,96,96)" fill-opacity="0.29"/>
<circle cx="355" cy="195.7" r="5.0" fill="rgb(96,96,96)" fill-opacity="0.29"/>
<circle cx="345" cy="198.5" r="5.0" fill="rgb(96,96,96)" fill-opacity="0.29"/>
<circle cx="362.7" cy="198.5" r="5.0" fill="rgb(96,96,96)" fill-opacity="0.29"/>
<circle cx="353.9" cy="196.7" r="5.0" fill="rgb(96,96,96)" fill-opacity="0.29"/>
<circle cx="344.2" cy="201.2" r="5.0" fill="rgb(96,96,96)" fill-opacity="0.29"/>
<circle cx="362.8" cy="201.9" r="5.0" fill="rgb(96,96,96)" fill-opacity="0.29"/>
<circle cx="342.7" cy="211.6" r="5.0" fill="rgb(96,96,96)" fill-opacity="0.29"/>
<circle cx="343.5" cy="212.5" r="5.0" fill="rgb(96,96,96)" fill-opacity="0.29"/>
<circle cx="341.9" cy="225.8" r="5.0" fill="rgb(96,96,96)" fill-opacity="0.29"/>
<circle cx="363.6" cy="221.3" r="5.0" fill="rgb(96,96,96)" fill-opacity="0.29"/>
<circle cx="342.7" cy="247.4" r="5.0" fill="rgb(96,96,96)" fill-opacity="0.29"/>
<circle cx="365" cy="251.8" r="5.0" fill="rgb(96,96,96)" fill-opacity="0.29"/>
<circle cx="346.4" cy="263" r="5.0" fill="rgb(96,96,96)" fill-opacity="0.29"/>
<circle cx="349.4" cy="267.5" r="5.0" fill="rgb(96,96,96)" fill-opacity="0.29"/>
<circle cx="353.9" cy="270.5" r="5.0" fill="rgb(96,96,96)" fill-opacity="0.29"/>
<circle cx="350.9" cy="271.2" r="5.0" fill="rgb(96,96,96)" fill-opacity="0.29"/>
<circle cx="359.8" cy="282.4" r="5.0" fill="rgb(96,96,96)" fill-opacity="0.29"/>
<line x1="357.3" y1="142.5" x2="357.3" y2="281.2" stroke="rgb(78,78,78)" stroke-width="1.2"/>
<line x1="357.3" y1="201.9" x2="357.3" y2="257.8" stroke="rgb(78,78,78)" stroke-width="2.6"/>
<line x1="338.7" y1="218.0" x2="375.90000000000003" y2="218.0" stroke="rgb(78,78,78)" stroke-width="3.0"/>
<circle cx="357.5" cy="215.3" r="8.8" fill="#fff" stroke="rgb(100,100,100)" stroke-width="1.0"/>
<path d="M425.0,127.0 L424.9,127.7 L424.8,128.3 L424.8,129.0 L424.7,129.7 L424.7,130.3 L424.6,131.0 L424.6,131.7 L424.6,132.3 L424.5,133.0 L424.5,133.7 L424.4,134.3 L424.4,135.0 L424.3,135.7 L424.3,136.3 L424.2,137.0 L424.2,137.7 L424.2,138.3 L424.1,139.0 L424.1,139.7 L424.0,140.3 L424.0,141.0 L424.0,141.7 L423.9,142.3 L423.9,143.0 L423.9,143.7 L423.8,144.3 L423.8,145.0 L423.8,145.7 L423.7,146.3 L423.7,147.0 L423.7,147.7 L423.7,148.3 L423.6,149.0 L423.6,149.7 L423.6,150.3 L423.5,151.0 L423.5,151.7 L423.5,152.3 L423.5,153.0 L423.4,153.7 L423.4,154.3 L423.4,155.0 L423.4,155.7 L423.4,156.3 L423.3,157.0 L423.3,157.7 L423.3,158.3 L423.3,159.0 L423.3,159.7 L423.3,160.3 L423.3,161.0 L423.3,161.7 L423.4,162.3 L423.4,163.0 L423.4,163.7 L423.5,164.3 L423.6,165.0 L423.6,165.7 L423.7,166.3 L423.8,167.0 L423.9,167.7 L424.0,168.3 L424.1,169.0 L424.2,169.7 L424.3,170.3 L424.4,171.0 L424.5,171.7 L424.6,172.3 L424.7,173.0 L424.8,173.7 L424.9,174.3 L425.0,175.0 L425.1,175.7 L425.3,176.3 L425.4,177.0 L425.6,177.7 L425.8,178.3 L425.9,179.0 L426.1,179.7 L426.2,180.3 L426.4,181.0 L426.6,181.7 L426.7,182.3 L426.9,183.0 L427.1,183.7 L427.2,184.3 L427.4,185.0 L427.6,185.7 L427.8,186.3 L427.9,187.0 L428.1,187.7 L428.3,188.3 L428.5,189.0 L428.7,189.7 L428.9,190.3 L429.1,191.0 L429.3,191.7 L429.5,192.3 L429.7,193.0 L429.9,193.7 L430.1,194.3 L430.3,195.0 L430.5,195.6 L430.7,196.3 L430.9,197.0 L431.2,197.6 L431.4,198.3 L431.6,199.0 L431.8,199.6 L432.0,200.3 L432.2,201.0 L432.4,201.6 L432.6,202.3 L432.7,203.0 L432.9,203.6 L433.1,204.3 L433.3,205.0 L433.4,205.6 L433.6,206.3 L433.7,207.0 L433.9,207.6 L434.1,208.3 L434.2,209.0 L434.4,209.6 L434.5,210.3 L434.7,211.0 L434.9,211.6 L435.0,212.3 L435.2,213.0 L435.4,213.6 L435.6,214.3 L435.8,215.0 L436.0,215.6 L436.1,216.3 L436.3,217.0 L436.5,217.6 L436.7,218.3 L436.9,219.0 L437.1,219.6 L437.3,220.3 L437.4,221.0 L437.6,221.6 L437.8,222.3 L437.9,223.0 L438.1,223.6 L438.3,224.3 L438.5,225.0 L438.6,225.6 L438.8,226.3 L439.0,227.0 L439.2,227.6 L439.4,228.3 L439.5,229.0 L439.7,229.6 L439.8,230.3 L440.0,231.0 L440.1,231.6 L440.1,232.3 L440.2,233.0 L440.2,233.6 L440.2,234.3 L440.2,235.0 L440.2,235.6 L440.2,236.3 L440.2,237.0 L440.2,237.6 L440.2,238.3 L440.2,239.0 L440.2,239.6 L440.2,240.3 L440.1,241.0 L440.1,241.6 L440.1,242.3 L440.1,243.0 L440.0,243.6 L440.0,244.3 L440.0,245.0 L439.9,245.6 L439.9,246.3 L439.8,247.0 L439.6,247.6 L439.5,248.3 L439.3,249.0 L439.1,249.6 L438.9,250.3 L438.7,251.0 L438.5,251.6 L438.3,252.3 L438.1,253.0 L437.9,253.6 L437.7,254.3 L437.5,255.0 L437.3,255.6 L437.1,256.3 L436.9,257.0 L436.6,257.6 L436.4,258.3 L436.2,259.0 L435.9,259.6 L435.7,260.3 L435.4,261.0 L435.2,261.6 L434.9,262.3 L408.6,262.3 L408.3,261.6 L408.1,261.0 L407.8,260.3 L407.6,259.6 L407.3,259.0 L407.1,258.3 L406.9,257.6 L406.6,257.0 L406.4,256.3 L406.2,255.6 L406.0,255.0 L405.8,254.3 L405.6,253.6 L405.4,253.0 L405.2,252.3 L405.0,251.6 L404.8,251.0 L404.6,250.3 L404.4,249.6 L404.2,249.0 L404.0,248.3 L403.9,247.6 L403.7,247.0 L403.6,246.3 L403.6,245.6 L403.5,245.0 L403.5,244.3 L403.5,243.6 L403.4,243.0 L403.4,242.3 L403.4,241.6 L403.4,241.0 L403.3,240.3 L403.3,239.6 L403.3,239.0 L403.3,238.3 L403.3,237.6 L403.3,237.0 L403.3,236.3 L403.3,235.6 L403.3,235.0 L403.3,234.3 L403.3,233.6 L403.3,233.0 L403.4,232.3 L403.4,231.6 L403.5,231.0 L403.7,230.3 L403.8,229.6 L404.0,229.0 L404.1,228.3 L404.3,227.6 L404.5,227.0 L404.7,226.3 L404.9,225.6 L405.0,225.0 L405.2,224.3 L405.4,223.6 L405.6,223.0 L405.7,222.3 L405.9,221.6 L406.1,221.0 L406.2,220.3 L406.4,219.6 L406.6,219.0 L406.8,218.3 L407.0,217.6 L407.2,217.0 L407.4,216.3 L407.5,215.6 L407.7,215.0 L407.9,214.3 L408.1,213.6 L408.3,213.0 L408.5,212.3 L408.6,211.6 L408.8,211.0 L409.0,210.3 L409.1,209.6 L409.3,209.0 L409.4,208.3 L409.6,207.6 L409.8,207.0 L409.9,206.3 L410.1,205.6 L410.2,205.0 L410.4,204.3 L410.6,203.6 L410.8,203.0 L410.9,202.3 L411.1,201.6 L411.3,201.0 L411.5,200.3 L411.7,199.6 L411.9,199.0 L412.1,198.3 L412.3,197.6 L412.6,197.0 L412.8,196.3 L413.0,195.6 L413.2,195.0 L413.4,194.3 L413.6,193.7 L413.8,193.0 L414.0,192.3 L414.2,191.7 L414.4,191.0 L414.6,190.3 L414.8,189.7 L415.0,189.0 L415.2,188.3 L415.4,187.7 L415.6,187.0 L415.7,186.3 L415.9,185.7 L416.1,185.0 L416.3,184.3 L416.4,183.7 L416.6,183.0 L416.8,182.3 L416.9,181.7 L417.1,181.0 L417.3,180.3 L417.4,179.7 L417.6,179.0 L417.7,178.3 L417.9,177.7 L418.1,177.0 L418.2,176.3 L418.4,175.7 L418.5,175.0 L418.6,174.3 L418.7,173.7 L418.8,173.0 L418.9,172.3 L419.0,171.7 L419.1,171.0 L419.2,170.3 L419.3,169.7 L419.4,169.0 L419.5,168.3 L419.6,167.7 L419.7,167.0 L419.8,166.3 L419.9,165.7 L419.9,165.0 L420.0,164.3 L420.1,163.7 L420.1,163.0 L420.1,162.3 L420.2,161.7 L420.2,161.0 L420.2,160.3 L420.2,159.7 L420.2,159.0 L420.2,158.3 L420.2,157.7 L420.2,157.0 L420.1,156.3 L420.1,155.7 L420.1,155.0 L420.1,154.3 L420.1,153.7 L420.0,153.0 L420.0,152.3 L420.0,151.7 L420.0,151.0 L419.9,150.3 L419.9,149.7 L419.9,149.0 L419.8,148.3 L419.8,147.7 L419.8,147.0 L419.8,146.3 L419.7,145.7 L419.7,145.0 L419.7,144.3 L419.6,143.7 L419.6,143.0 L419.6,142.3 L419.5,141.7 L419.5,141.0 L419.5,140.3 L419.4,139.7 L419.4,139.0 L419.3,138.3 L419.3,137.7 L419.3,137.0 L419.2,136.3 L419.2,135.7 L419.1,135.0 L419.1,134.3 L419.0,133.7 L419.0,133.0 L418.9,132.3 L418.9,131.7 L418.9,131.0 L418.8,130.3 L418.8,129.7 L418.7,129.0 L418.7,128.3 L418.6,127.7 L418.5,127.0 Z" fill="rgb(207,207,207)" stroke="rgb(112,112,112)" stroke-width="1.0" stroke-linejoin="round"/>
<circle cx="424.1" cy="125.6" r="5.0" fill="rgb(105,105,105)" fill-opacity="0.26"/>
<circle cx="422.1" cy="140.1" r="5.0" fill="rgb(105,105,105)" fill-opacity="0.26"/>
<circle cx="418.8" cy="189.7" r="5.0" fill="rgb(105,105,105)" fill-opacity="0.26"/>
<circle cx="413.4" cy="205.8" r="5.0" fill="rgb(105,105,105)" fill-opacity="0.26"/>
<circle cx="426.8" cy="208.5" r="5.0" fill="rgb(105,105,105)" fill-opacity="0.26"/>
<circle cx="407" cy="208.4" r="5.0" fill="rgb(105,105,105)" fill-opacity="0.26"/>
<circle cx="413.7" cy="206.2" r="5.0" fill="rgb(105,105,105)" fill-opacity="0.26"/>
<circle cx="412.5" cy="211.8" r="5.0" fill="rgb(105,105,105)" fill-opacity="0.26"/>
<circle cx="414.2" cy="216.3" r="5.0" fill="rgb(105,105,105)" fill-opacity="0.26"/>
<circle cx="427.1" cy="209.5" r="5.0" fill="rgb(105,105,105)" fill-opacity="0.26"/>
<circle cx="410.3" cy="229.7" r="5.0" fill="rgb(105,105,105)" fill-opacity="0.26"/>
<circle cx="409.2" cy="243.1" r="5.0" fill="rgb(105,105,105)" fill-opacity="0.26"/>
<circle cx="409.5" cy="243.5" r="5.0" fill="rgb(105,105,105)" fill-opacity="0.26"/>
<circle cx="411.4" cy="245.3" r="5.0" fill="rgb(105,105,105)" fill-opacity="0.26"/>
<circle cx="436.6" cy="239.7" r="5.0" fill="rgb(105,105,105)" fill-opacity="0.26"/>
<circle cx="426.5" cy="243.1" r="5.0" fill="rgb(105,105,105)" fill-opacity="0.26"/>
<circle cx="423.7" cy="256" r="5.0" fill="rgb(105,105,105)" fill-opacity="0.26"/>
<circle cx="413.7" cy="259.9" r="5.0" fill="rgb(105,105,105)" fill-opacity="0.26"/>
<circle cx="413.7" cy="263.2" r="5.0" fill="rgb(105,105,105)" fill-opacity="0.26"/>
<line x1="421.75" y1="189.7" x2="421.75" y2="262.3" stroke="rgb(110,110,110)" stroke-width="1.2"/>
<line x1="421.75" y1="208.4" x2="421.75" y2="245" stroke="rgb(110,110,110)" stroke-width="2.6"/>
<line x1="404.25" y1="222.0" x2="439.25" y2="222.0" stroke="rgb(110,110,110)" stroke-width="3.0"/>
<circle cx="421.5" cy="233.6" r="8.8" fill="#fff" stroke="rgb(115,115,115)" stroke-width="1.0"/>
<path d="M489.9,133.3 L489.8,134.0 L489.8,134.6 L489.7,135.3 L489.6,136.0 L489.5,136.6 L489.4,137.3 L489.4,138.0 L489.3,138.6 L489.2,139.3 L489.1,139.9 L489.1,140.6 L489.0,141.3 L488.9,141.9 L488.8,142.6 L488.8,143.3 L488.7,143.9 L488.6,144.6 L488.6,145.3 L488.5,145.9 L488.5,146.6 L488.4,147.3 L488.3,147.9 L488.3,148.6 L488.2,149.3 L488.2,149.9 L488.1,150.6 L488.1,151.2 L488.0,151.9 L488.0,152.6 L487.9,153.2 L487.9,153.9 L487.8,154.6 L487.8,155.2 L487.7,155.9 L487.7,156.6 L487.6,157.2 L487.6,157.9 L487.5,158.6 L487.5,159.2 L487.4,159.9 L487.4,160.6 L487.4,161.2 L487.4,161.9 L487.3,162.5 L487.3,163.2 L487.3,163.9 L487.3,164.5 L487.3,165.2 L487.3,165.9 L487.3,166.5 L487.3,167.2 L487.3,167.9 L487.3,168.5 L487.4,169.2 L487.4,169.9 L487.4,170.5 L487.4,171.2 L487.5,171.9 L487.5,172.5 L487.6,173.2 L487.6,173.8 L487.6,174.5 L487.7,175.2 L487.8,175.8 L487.8,176.5 L487.9,177.2 L488.0,177.8 L488.0,178.5 L488.1,179.2 L488.2,179.8 L488.4,180.5 L488.6,181.2 L488.8,181.8 L489.0,182.5 L489.3,183.2 L489.6,183.8 L489.9,184.5 L490.1,185.1 L490.4,185.8 L490.7,186.5 L491.0,187.1 L491.3,187.8 L491.6,188.5 L491.8,189.1 L492.1,189.8 L492.4,190.5 L492.7,191.1 L493.0,191.8 L493.2,192.5 L493.5,193.1 L493.8,193.8 L494.1,194.5 L494.4,195.1 L494.7,195.8 L495.0,196.4 L495.3,197.1 L495.6,197.8 L496.0,198.4 L496.3,199.1 L496.6,199.8 L496.9,200.4 L497.2,201.1 L497.6,201.8 L497.9,202.4 L498.2,203.1 L498.5,203.8 L498.7,204.4 L499.0,205.1 L499.3,205.8 L499.6,206.4 L499.8,207.1 L500.1,207.8 L500.3,208.4 L500.6,209.1 L500.8,209.7 L501.1,210.4 L501.3,211.1 L501.5,211.7 L501.8,212.4 L502.0,213.1 L502.2,213.7 L502.4,214.4 L502.6,215.1 L502.9,215.7 L503.1,216.4 L503.3,217.1 L503.6,217.7 L503.8,218.4 L504.0,219.1 L504.2,219.7 L504.4,220.4 L504.5,221.0 L504.6,221.7 L504.7,222.4 L504.8,223.0 L504.8,223.7 L504.8,224.4 L504.8,225.0 L504.8,225.7 L504.8,226.4 L504.8,227.0 L504.8,227.7 L504.8,228.4 L504.8,229.0 L504.8,229.7 L504.8,230.4 L504.8,231.0 L504.8,231.7 L504.8,232.3 L504.8,233.0 L504.8,233.7 L504.8,234.3 L504.8,235.0 L504.8,235.7 L504.8,236.3 L504.7,237.0 L504.6,237.7 L504.5,238.3 L504.4,239.0 L504.2,239.7 L504.0,240.3 L503.8,241.0 L503.5,241.7 L503.3,242.3 L503.0,243.0 L502.8,243.6 L502.5,244.3 L502.2,245.0 L502.0,245.6 L501.7,246.3 L501.5,247.0 L501.3,247.6 L501.1,248.3 L500.9,249.0 L500.7,249.6 L500.4,250.3 L500.2,251.0 L500.0,251.6 L499.8,252.3 L499.6,253.0 L499.4,253.6 L499.2,254.3 L499.0,254.9 L498.8,255.6 L498.5,256.3 L498.3,256.9 L498.1,257.6 L497.9,258.3 L497.6,258.9 L497.4,259.6 L497.2,260.3 L496.9,260.9 L496.7,261.6 L496.4,262.3 L496.2,262.9 L495.9,263.6 L495.7,264.3 L495.4,264.9 L495.1,265.6 L494.9,266.2 L494.6,266.9 L494.3,267.6 L494.0,268.2 L493.8,268.9 L493.5,269.6 L493.2,270.2 L492.9,270.9 L479.2,270.9 L478.9,270.2 L478.6,269.6 L478.3,268.9 L478.1,268.2 L477.8,267.6 L477.5,266.9 L477.2,266.2 L477.0,265.6 L476.7,264.9 L476.4,264.3 L476.2,263.6 L475.9,262.9 L475.7,262.3 L475.4,261.6 L475.2,260.9 L474.9,260.3 L474.7,259.6 L474.5,258.9 L474.2,258.3 L474.0,257.6 L473.8,256.9 L473.6,256.3 L473.3,255.6 L473.1,254.9 L472.9,254.3 L472.7,253.6 L472.5,253.0 L472.3,252.3 L472.1,251.6 L471.9,251.0 L471.7,250.3 L471.4,249.6 L471.2,249.0 L471.0,248.3 L470.8,247.6 L470.6,247.0 L470.4,246.3 L470.1,245.6 L469.9,245.0 L469.6,244.3 L469.3,243.6 L469.1,243.0 L468.8,242.3 L468.6,241.7 L468.3,241.0 L468.1,240.3 L467.9,239.7 L467.7,239.0 L467.6,238.3 L467.5,237.7 L467.4,237.0 L467.3,236.3 L467.3,235.7 L467.3,235.0 L467.3,234.3 L467.3,233.7 L467.3,233.0 L467.3,232.3 L467.3,231.7 L467.3,231.0 L467.3,230.4 L467.3,229.7 L467.3,229.0 L467.3,228.4 L467.3,227.7 L467.3,227.0 L467.3,226.4 L467.3,225.7 L467.3,225.0 L467.3,224.4 L467.3,223.7 L467.3,223.0 L467.4,222.4 L467.5,221.7 L467.6,221.0 L467.7,220.4 L467.9,219.7 L468.1,219.1 L468.3,218.4 L468.5,217.7 L468.8,217.1 L469.0,216.4 L469.2,215.7 L469.5,215.1 L469.7,214.4 L469.9,213.7 L470.1,213.1 L470.3,212.4 L470.6,211.7 L470.8,211.1 L471.0,210.4 L471.3,209.7 L471.5,209.1 L471.8,208.4 L472.0,207.8 L472.3,207.1 L472.5,206.4 L472.8,205.8 L473.1,205.1 L473.4,204.4 L473.6,203.8 L473.9,203.1 L474.2,202.4 L474.5,201.8 L474.9,201.1 L475.2,200.4 L475.5,199.8 L475.8,199.1 L476.1,198.4 L476.5,197.8 L476.8,197.1 L477.1,196.4 L477.4,195.8 L477.7,195.1 L478.0,194.5 L478.3,193.8 L478.6,193.1 L478.9,192.5 L479.1,191.8 L479.4,191.1 L479.7,190.5 L480.0,189.8 L480.3,189.1 L480.5,188.5 L480.8,187.8 L481.1,187.1 L481.4,186.5 L481.7,185.8 L482.0,185.1 L482.2,184.5 L482.5,183.8 L482.8,183.2 L483.1,182.5 L483.3,181.8 L483.5,181.2 L483.7,180.5 L483.9,179.8 L484.0,179.2 L484.1,178.5 L484.1,177.8 L484.2,177.2 L484.3,176.5 L484.3,175.8 L484.4,175.2 L484.5,174.5 L484.5,173.8 L484.5,173.2 L484.6,172.5 L484.6,171.9 L484.7,171.2 L484.7,170.5 L484.7,169.9 L484.7,169.2 L484.8,168.5 L484.8,167.9 L484.8,167.2 L484.8,166.5 L484.8,165.9 L484.8,165.2 L484.8,164.5 L484.8,163.9 L484.8,163.2 L484.8,162.5 L484.7,161.9 L484.7,161.2 L484.7,160.6 L484.7,159.9 L484.6,159.2 L484.6,158.6 L484.5,157.9 L484.5,157.2 L484.4,156.6 L484.4,155.9 L484.3,155.2 L484.3,154.6 L484.2,153.9 L484.2,153.2 L484.1,152.6 L484.1,151.9 L484.0,151.2 L484.0,150.6 L483.9,149.9 L483.9,149.3 L483.8,148.6 L483.8,147.9 L483.7,147.3 L483.6,146.6 L483.6,145.9 L483.5,145.3 L483.5,144.6 L483.4,143.9 L483.3,143.3 L483.3,142.6 L483.2,141.9 L483.1,141.3 L483.0,140.6 L483.0,139.9 L482.9,139.3 L482.8,138.6 L482.7,138.0 L482.7,137.3 L482.6,136.6 L482.5,136.0 L482.4,135.3 L482.3,134.6 L482.3,134.0 L482.2,133.3 Z" fill="rgb(214,214,214)" stroke="rgb(135,135,135)" stroke-width="1.0" stroke-linejoin="round"/>
<circle cx="488.8" cy="131" r="5.0" fill="rgb(120,120,120)" fill-opacity="0.24"/>
<circle cx="484.1" cy="142.4" r="5.0" fill="rgb(120,120,120)" fill-opacity="0.24"/>
<circle cx="494.2" cy="197.4" r="5.0" fill="rgb(120,120,120)" fill-opacity="0.24"/>
<circle cx="490.8" cy="210.1" r="5.0" fill="rgb(120,120,120)" fill-opacity="0.24"/>
<circle cx="478.1" cy="212.1" r="5.0" fill="rgb(120,120,120)" fill-opacity="0.24"/>
<circle cx="472.1" cy="210.8" r="5.0" fill="rgb(120,120,120)" fill-opacity="0.24"/>
<circle cx="475.1" cy="214.3" r="5.0" fill="rgb(120,120,120)" fill-opacity="0.24"/>
<circle cx="479.9" cy="215.5" r="5.0" fill="rgb(120,120,120)" fill-opacity="0.24"/>
<circle cx="490" cy="209.5" r="5.0" fill="rgb(120,120,120)" fill-opacity="0.24"/>
<circle cx="495.4" cy="221.5" r="5.0" fill="rgb(120,120,120)" fill-opacity="0.24"/>
<circle cx="473.9" cy="233.4" r="5.0" fill="rgb(120,120,120)" fill-opacity="0.24"/>
<circle cx="472.7" cy="238.1" r="5.0" fill="rgb(120,120,120)" fill-opacity="0.24"/>
<circle cx="494.2" cy="231" r="5.0" fill="rgb(120,120,120)" fill-opacity="0.24"/>
<circle cx="482.3" cy="243.5" r="5.0" fill="rgb(120,120,120)" fill-opacity="0.24"/>
<circle cx="487.6" cy="243.5" r="5.0" fill="rgb(120,120,120)" fill-opacity="0.24"/>
<circle cx="475.7" cy="252.4" r="5.0" fill="rgb(120,120,120)" fill-opacity="0.24"/>
<circle cx="494.8" cy="254.2" r="5.0" fill="rgb(120,120,120)" fill-opacity="0.24"/>
<circle cx="501.3" cy="251.3" r="5.0" fill="rgb(120,120,120)" fill-opacity="0.24"/>
<circle cx="482.9" cy="264.4" r="5.0" fill="rgb(120,120,120)" fill-opacity="0.24"/>
<circle cx="484" cy="271.5" r="5.0" fill="rgb(120,120,120)" fill-opacity="0.24"/>
<line x1="486.05" y1="198.1" x2="486.05" y2="270.9" stroke="rgb(148,148,148)" stroke-width="1.2"/>
<line x1="486.05" y1="198.1" x2="486.05" y2="246.5" stroke="rgb(148,148,148)" stroke-width="2.6"/>
<line x1="467.35" y1="225.2" x2="504.75" y2="225.2" stroke="rgb(148,148,148)" stroke-width="3.0"/>
<circle cx="485.8" cy="232.8" r="8.8" fill="#fff" stroke="rgb(135,135,135)" stroke-width="1.0"/>
<path d="M553.8,134.1 L553.8,134.8 L553.7,135.4 L553.6,136.1 L553.6,136.8 L553.5,137.4 L553.5,138.1 L553.4,138.8 L553.3,139.4 L553.3,140.1 L553.2,140.8 L553.2,141.4 L553.1,142.1 L553.0,142.8 L553.0,143.4 L552.9,144.1 L552.9,144.8 L552.9,145.4 L552.8,146.1 L552.8,146.8 L552.7,147.4 L552.7,148.1 L552.6,148.8 L552.6,149.4 L552.6,150.1 L552.5,150.8 L552.5,151.4 L552.5,152.1 L552.5,152.7 L552.4,153.4 L552.4,154.1 L552.4,154.7 L552.4,155.4 L552.3,156.1 L552.3,156.7 L552.3,157.4 L552.3,158.1 L552.2,158.7 L552.2,159.4 L552.2,160.1 L552.2,160.7 L552.2,161.4 L552.2,162.1 L552.2,162.7 L552.1,163.4 L552.1,164.1 L552.1,164.7 L552.1,165.4 L552.1,166.1 L552.2,166.7 L552.2,167.4 L552.2,168.1 L552.3,168.7 L552.3,169.4 L552.3,170.1 L552.4,170.7 L552.5,171.4 L552.5,172.1 L552.6,172.7 L552.7,173.4 L552.8,174.1 L552.9,174.7 L553.0,175.4 L553.0,176.1 L553.1,176.7 L553.2,177.4 L553.3,178.1 L553.4,178.7 L553.6,179.4 L553.7,180.1 L553.9,180.7 L554.1,181.4 L554.3,182.1 L554.5,182.7 L554.7,183.4 L554.9,184.1 L555.1,184.7 L555.4,185.4 L555.6,186.1 L555.8,186.7 L556.1,187.4 L556.3,188.0 L556.6,188.7 L556.8,189.4 L557.0,190.0 L557.2,190.7 L557.5,191.4 L557.7,192.0 L557.9,192.7 L558.1,193.4 L558.3,194.0 L558.4,194.7 L558.6,195.4 L558.8,196.0 L559.0,196.7 L559.2,197.4 L559.4,198.0 L559.6,198.7 L559.8,199.4 L560.0,200.0 L560.2,200.7 L560.4,201.4 L560.6,202.0 L560.8,202.7 L561.0,203.4 L561.2,204.0 L561.4,204.7 L561.6,205.4 L561.9,206.0 L562.1,206.7 L562.4,207.4 L562.7,208.0 L563.0,208.7 L563.2,209.4 L563.5,210.0 L563.8,210.7 L564.1,211.4 L564.4,212.0 L564.7,212.7 L565.0,213.4 L565.2,214.0 L565.5,214.7 L565.7,215.4 L565.9,216.0 L566.1,216.7 L566.3,217.4 L566.5,218.0 L566.7,218.7 L566.8,219.4 L567.0,220.0 L567.1,220.7 L567.3,221.4 L567.4,222.0 L567.5,222.7 L567.7,223.3 L567.8,224.0 L567.9,224.7 L568.0,225.3 L568.2,226.0 L568.3,226.7 L568.4,227.3 L568.4,228.0 L568.5,228.7 L568.6,229.3 L568.7,230.0 L568.8,230.7 L568.9,231.3 L569.0,232.0 L569.0,232.7 L569.1,233.3 L569.2,234.0 L569.3,234.7 L569.3,235.3 L569.4,236.0 L569.5,236.7 L569.5,237.3 L569.6,238.0 L569.6,238.7 L569.6,239.3 L569.6,240.0 L569.6,240.7 L569.6,241.3 L569.6,242.0 L569.6,242.7 L569.6,243.3 L569.6,244.0 L569.5,244.7 L569.5,245.3 L569.5,246.0 L569.4,246.7 L569.4,247.3 L569.3,248.0 L569.3,248.7 L569.2,249.3 L569.1,250.0 L569.1,250.7 L569.0,251.3 L568.9,252.0 L568.9,252.7 L568.8,253.3 L568.7,254.0 L568.6,254.7 L568.4,255.3 L568.3,256.0 L568.1,256.7 L568.0,257.3 L567.8,258.0 L567.6,258.6 L567.4,259.3 L567.2,260.0 L567.0,260.6 L566.9,261.3 L566.7,262.0 L566.5,262.6 L566.3,263.3 L566.1,264.0 L565.9,264.6 L565.7,265.3 L565.5,266.0 L565.3,266.6 L565.1,267.3 L564.9,268.0 L564.7,268.6 L564.5,269.3 L564.3,270.0 L564.1,270.6 L563.9,271.3 L563.7,272.0 L563.5,272.6 L563.3,273.3 L563.1,274.0 L562.9,274.6 L562.6,275.3 L538.1,275.3 L537.9,274.6 L537.7,274.0 L537.5,273.3 L537.3,272.6 L537.1,272.0 L536.9,271.3 L536.7,270.6 L536.5,270.0 L536.3,269.3 L536.1,268.6 L535.9,268.0 L535.7,267.3 L535.5,266.6 L535.3,266.0 L535.1,265.3 L534.9,264.6 L534.7,264.0 L534.5,263.3 L534.3,262.6 L534.1,262.0 L533.9,261.3 L533.8,260.6 L533.6,260.0 L533.4,259.3 L533.2,258.6 L533.0,258.0 L532.8,257.3 L532.7,256.7 L532.5,256.0 L532.4,255.3 L532.2,254.7 L532.1,254.0 L532.0,253.3 L531.9,252.7 L531.9,252.0 L531.8,251.3 L531.7,250.7 L531.7,250.0 L531.6,249.3 L531.5,248.7 L531.5,248.0 L531.4,247.3 L531.4,246.7 L531.3,246.0 L531.3,245.3 L531.3,244.7 L531.2,244.0 L531.2,243.3 L531.2,242.7 L531.2,242.0 L531.2,241.3 L531.2,240.7 L531.2,240.0 L531.2,239.3 L531.2,238.7 L531.2,238.0 L531.3,237.3 L531.3,236.7 L531.4,236.0 L531.5,235.3 L531.5,234.7 L531.6,234.0 L531.7,233.3 L531.8,232.7 L531.8,232.0 L531.9,231.3 L532.0,230.7 L532.1,230.0 L532.2,229.3 L532.3,228.7 L532.4,228.0 L532.4,227.3 L532.5,226.7 L532.6,226.0 L532.8,225.3 L532.9,224.7 L533.0,224.0 L533.1,223.3 L533.3,222.7 L533.4,222.0 L533.5,221.4 L533.7,220.7 L533.8,220.0 L534.0,219.4 L534.1,218.7 L534.3,218.0 L534.5,217.4 L534.7,216.7 L534.9,216.0 L535.1,215.4 L535.3,214.7 L535.6,214.0 L535.8,213.4 L536.1,212.7 L536.4,212.0 L536.7,211.4 L537.0,210.7 L537.3,210.0 L537.6,209.4 L537.8,208.7 L538.1,208.0 L538.4,207.4 L538.7,206.7 L538.9,206.0 L539.2,205.4 L539.4,204.7 L539.6,204.0 L539.8,203.4 L540.0,202.7 L540.2,202.0 L540.4,201.4 L540.6,200.7 L540.8,200.0 L541.0,199.4 L541.2,198.7 L541.4,198.0 L541.6,197.4 L541.8,196.7 L542.0,196.0 L542.2,195.4 L542.4,194.7 L542.5,194.0 L542.7,193.4 L542.9,192.7 L543.1,192.0 L543.3,191.4 L543.6,190.7 L543.8,190.0 L544.0,189.4 L544.2,188.7 L544.5,188.0 L544.7,187.4 L545.0,186.7 L545.2,186.1 L545.4,185.4 L545.7,184.7 L545.9,184.1 L546.1,183.4 L546.3,182.7 L546.5,182.1 L546.7,181.4 L546.9,180.7 L547.1,180.1 L547.2,179.4 L547.4,178.7 L547.5,178.1 L547.6,177.4 L547.7,176.7 L547.8,176.1 L547.8,175.4 L547.9,174.7 L548.0,174.1 L548.1,173.4 L548.2,172.7 L548.3,172.1 L548.3,171.4 L548.4,170.7 L548.5,170.1 L548.5,169.4 L548.5,168.7 L548.6,168.1 L548.6,167.4 L548.6,166.7 L548.7,166.1 L548.7,165.4 L548.7,164.7 L548.7,164.1 L548.7,163.4 L548.6,162.7 L548.6,162.1 L548.6,161.4 L548.6,160.7 L548.6,160.1 L548.6,159.4 L548.6,158.7 L548.5,158.1 L548.5,157.4 L548.5,156.7 L548.5,156.1 L548.4,155.4 L548.4,154.7 L548.4,154.1 L548.4,153.4 L548.3,152.7 L548.3,152.1 L548.3,151.4 L548.3,150.8 L548.2,150.1 L548.2,149.4 L548.2,148.8 L548.1,148.1 L548.1,147.4 L548.0,146.8 L548.0,146.1 L547.9,145.4 L547.9,144.8 L547.9,144.1 L547.8,143.4 L547.8,142.8 L547.7,142.1 L547.6,141.4 L547.6,140.8 L547.5,140.1 L547.5,139.4 L547.4,138.8 L547.3,138.1 L547.3,137.4 L547.2,136.8 L547.2,136.1 L547.1,135.4 L547.0,134.8 L547.0,134.1 Z" fill="rgb(222,222,222)" stroke="rgb(158,158,158)" stroke-width="1.0" stroke-linejoin="round"/>
<circle cx="551.1" cy="131.7" r="5.0" fill="rgb(138,138,138)" fill-opacity="0.21"/>
<circle cx="552.5" cy="145.1" r="5.0" fill="rgb(138,138,138)" fill-opacity="0.21"/>
<circle cx="553.8" cy="196" r="5.0" fill="rgb(138,138,138)" fill-opacity="0.21"/>
<circle cx="545.8" cy="202.1" r="5.0" fill="rgb(138,138,138)" fill-opacity="0.21"/>
<circle cx="547.1" cy="212.1" r="5.0" fill="rgb(138,138,138)" fill-opacity="0.21"/>
<circle cx="546.1" cy="206.2" r="5.0" fill="rgb(138,138,138)" fill-opacity="0.21"/>
<circle cx="544.9" cy="216.9" r="5.0" fill="rgb(138,138,138)" fill-opacity="0.21"/>
<circle cx="547.3" cy="220.5" r="5.0" fill="rgb(138,138,138)" fill-opacity="0.21"/>
<circle cx="564.5" cy="221.7" r="5.0" fill="rgb(138,138,138)" fill-opacity="0.21"/>
<circle cx="540.7" cy="240.8" r="5.0" fill="rgb(138,138,138)" fill-opacity="0.21"/>
<circle cx="554.4" cy="250.3" r="5.0" fill="rgb(138,138,138)" fill-opacity="0.21"/>
<circle cx="544.9" cy="255.1" r="5.0" fill="rgb(138,138,138)" fill-opacity="0.21"/>
<circle cx="558.6" cy="260.4" r="5.0" fill="rgb(138,138,138)" fill-opacity="0.21"/>
<circle cx="534.2" cy="261" r="5.0" fill="rgb(138,138,138)" fill-opacity="0.21"/>
<circle cx="541.3" cy="270" r="5.0" fill="rgb(138,138,138)" fill-opacity="0.21"/>
<circle cx="546.1" cy="271.7" r="5.0" fill="rgb(138,138,138)" fill-opacity="0.21"/>
<circle cx="543.7" cy="276.5" r="5.0" fill="rgb(138,138,138)" fill-opacity="0.21"/>
<line x1="550.4" y1="197.4" x2="550.4" y2="275.3" stroke="rgb(168,168,168)" stroke-width="1.2"/>
<line x1="550.4" y1="215" x2="550.4" y2="258" stroke="rgb(168,168,168)" stroke-width="2.6"/>
<line x1="531.4" y1="230.0" x2="569.4" y2="230.0" stroke="rgb(168,168,168)" stroke-width="3.0"/>
<circle cx="550.2" cy="240.2" r="8.8" fill="#fff" stroke="rgb(158,158,158)" stroke-width="1.0"/>
<path d="M619.1,159.2 L619.2,159.9 L619.2,160.5 L619.3,161.2 L619.4,161.9 L619.5,162.5 L619.6,163.2 L619.7,163.9 L619.8,164.5 L619.9,165.2 L620.0,165.8 L620.1,166.5 L620.3,167.2 L620.4,167.8 L620.5,168.5 L620.6,169.2 L620.8,169.8 L620.9,170.5 L621.0,171.2 L621.2,171.8 L621.3,172.5 L621.5,173.2 L621.6,173.8 L621.8,174.5 L622.0,175.1 L622.2,175.8 L622.4,176.5 L622.6,177.1 L622.8,177.8 L623.0,178.5 L623.2,179.1 L623.4,179.8 L623.6,180.5 L623.8,181.1 L624.0,181.8 L624.2,182.5 L624.5,183.1 L624.7,183.8 L624.9,184.4 L625.1,185.1 L625.3,185.8 L625.5,186.4 L625.7,187.1 L626.0,187.8 L626.2,188.4 L626.4,189.1 L626.6,189.8 L626.8,190.4 L627.1,191.1 L627.3,191.8 L627.5,192.4 L627.7,193.1 L627.9,193.8 L628.1,194.4 L628.3,195.1 L628.5,195.7 L628.7,196.4 L628.9,197.1 L629.1,197.7 L629.3,198.4 L629.5,199.1 L629.7,199.7 L629.9,200.4 L630.1,201.1 L630.3,201.7 L630.5,202.4 L630.7,203.1 L630.8,203.7 L631.0,204.4 L631.1,205.0 L631.3,205.7 L631.4,206.4 L631.5,207.0 L631.6,207.7 L631.8,208.4 L631.9,209.0 L632.0,209.7 L632.1,210.4 L632.2,211.0 L632.4,211.7 L632.5,212.4 L632.5,213.0 L632.6,213.7 L632.7,214.3 L632.8,215.0 L632.9,215.7 L632.9,216.3 L632.9,217.0 L633.0,217.7 L633.0,218.3 L633.0,219.0 L633.1,219.7 L633.1,220.3 L633.1,221.0 L633.2,221.7 L633.2,222.3 L633.2,223.0 L633.2,223.7 L633.3,224.3 L633.3,225.0 L633.3,225.6 L633.3,226.3 L633.3,227.0 L633.3,227.6 L633.3,228.3 L633.3,229.0 L633.3,229.6 L633.2,230.3 L633.2,231.0 L633.1,231.6 L633.1,232.3 L633.0,233.0 L632.9,233.6 L632.9,234.3 L632.8,234.9 L632.7,235.6 L632.7,236.3 L632.6,236.9 L632.5,237.6 L632.5,238.3 L632.4,238.9 L632.3,239.6 L632.3,240.3 L632.2,240.9 L632.1,241.6 L632.0,242.3 L632.0,242.9 L631.9,243.6 L631.8,244.2 L631.7,244.9 L631.6,245.6 L631.5,246.2 L631.4,246.9 L631.4,247.6 L631.3,248.2 L631.2,248.9 L631.1,249.6 L631.0,250.2 L630.9,250.9 L630.8,251.6 L630.7,252.2 L630.6,252.9 L630.5,253.6 L630.4,254.2 L630.3,254.9 L630.2,255.5 L630.1,256.2 L630.0,256.9 L629.9,257.5 L629.8,258.2 L629.7,258.9 L629.6,259.5 L629.5,260.2 L629.4,260.9 L629.3,261.5 L629.2,262.2 L629.1,262.9 L629.0,263.5 L628.8,264.2 L628.7,264.8 L628.6,265.5 L628.5,266.2 L628.4,266.8 L628.3,267.5 L628.2,268.2 L628.0,268.8 L627.9,269.5 L627.8,270.2 L627.7,270.8 L627.6,271.5 L627.5,272.2 L627.3,272.8 L627.2,273.5 L627.1,274.1 L627.0,274.8 L626.9,275.5 L626.7,276.1 L626.6,276.8 L626.5,277.5 L626.4,278.1 L626.2,278.8 L602.8,278.8 L602.6,278.1 L602.5,277.5 L602.4,276.8 L602.3,276.1 L602.1,275.5 L602.0,274.8 L601.9,274.1 L601.8,273.5 L601.7,272.8 L601.5,272.2 L601.4,271.5 L601.3,270.8 L601.2,270.2 L601.1,269.5 L601.0,268.8 L600.8,268.2 L600.7,267.5 L600.6,266.8 L600.5,266.2 L600.4,265.5 L600.3,264.8 L600.2,264.2 L600.0,263.5 L599.9,262.9 L599.8,262.2 L599.7,261.5 L599.6,260.9 L599.5,260.2 L599.4,259.5 L599.3,258.9 L599.2,258.2 L599.1,257.5 L599.0,256.9 L598.9,256.2 L598.8,255.5 L598.7,254.9 L598.6,254.2 L598.5,253.6 L598.4,252.9 L598.3,252.2 L598.2,251.6 L598.1,250.9 L598.0,250.2 L597.9,249.6 L597.8,248.9 L597.7,248.2 L597.6,247.6 L597.6,246.9 L597.5,246.2 L597.4,245.6 L597.3,244.9 L597.2,244.2 L597.1,243.6 L597.0,242.9 L597.0,242.3 L596.9,241.6 L596.8,240.9 L596.7,240.3 L596.7,239.6 L596.6,238.9 L596.5,238.3 L596.5,237.6 L596.4,236.9 L596.3,236.3 L596.3,235.6 L596.2,234.9 L596.1,234.3 L596.1,233.6 L596.0,233.0 L595.9,232.3 L595.9,231.6 L595.8,231.0 L595.8,230.3 L595.7,229.6 L595.7,229.0 L595.7,228.3 L595.7,227.6 L595.7,227.0 L595.7,226.3 L595.7,225.6 L595.7,225.0 L595.7,224.3 L595.8,223.7 L595.8,223.0 L595.8,222.3 L595.8,221.7 L595.9,221.0 L595.9,220.3 L595.9,219.7 L596.0,219.0 L596.0,218.3 L596.0,217.7 L596.1,217.0 L596.1,216.3 L596.1,215.7 L596.2,215.0 L596.3,214.3 L596.4,213.7 L596.5,213.0 L596.5,212.4 L596.6,211.7 L596.8,211.0 L596.9,210.4 L597.0,209.7 L597.1,209.0 L597.2,208.4 L597.4,207.7 L597.5,207.0 L597.6,206.4 L597.7,205.7 L597.9,205.0 L598.0,204.4 L598.2,203.7 L598.3,203.1 L598.5,202.4 L598.7,201.7 L598.9,201.1 L599.1,200.4 L599.3,199.7 L599.5,199.1 L599.7,198.4 L599.9,197.7 L600.1,197.1 L600.3,196.4 L600.5,195.7 L600.7,195.1 L600.9,194.4 L601.1,193.8 L601.3,193.1 L601.5,192.4 L601.7,191.8 L601.9,191.1 L602.2,190.4 L602.4,189.8 L602.6,189.1 L602.8,188.4 L603.0,187.8 L603.3,187.1 L603.5,186.4 L603.7,185.8 L603.9,185.1 L604.1,184.4 L604.3,183.8 L604.5,183.1 L604.8,182.5 L605.0,181.8 L605.2,181.1 L605.4,180.5 L605.6,179.8 L605.8,179.1 L606.0,178.5 L606.2,177.8 L606.4,177.1 L606.6,176.5 L606.8,175.8 L607.0,175.1 L607.2,174.5 L607.4,173.8 L607.5,173.2 L607.7,172.5 L607.8,171.8 L608.0,171.2 L608.1,170.5 L608.2,169.8 L608.4,169.2 L608.5,168.5 L608.6,167.8 L608.7,167.2 L608.9,166.5 L609.0,165.8 L609.1,165.2 L609.2,164.5 L609.3,163.9 L609.4,163.2 L609.5,162.5 L609.6,161.9 L609.7,161.2 L609.8,160.5 L609.8,159.9 L609.9,159.2 Z" fill="rgb(230,230,230)" stroke="rgb(180,180,180)" stroke-width="1.0" stroke-linejoin="round"/>
<circle cx="616.3" cy="156.2" r="5.0" fill="rgb(158,158,158)" fill-opacity="0.19"/>
<circle cx="609" cy="178" r="5.0" fill="rgb(158,158,158)" fill-opacity="0.19"/>
<circle cx="605.1" cy="177.4" r="5.0" fill="rgb(158,158,158)" fill-opacity="0.19"/>
<circle cx="615.2" cy="196.4" r="5.0" fill="rgb(158,158,158)" fill-opacity="0.19"/>
<circle cx="602.9" cy="198.1" r="5.0" fill="rgb(158,158,158)" fill-opacity="0.19"/>
<circle cx="628.6" cy="204.3" r="5.0" fill="rgb(158,158,158)" fill-opacity="0.19"/>
<circle cx="603.4" cy="207" r="5.0" fill="rgb(158,158,158)" fill-opacity="0.19"/>
<circle cx="603.4" cy="212.6" r="5.0" fill="rgb(158,158,158)" fill-opacity="0.19"/>
<circle cx="624.1" cy="218.2" r="5.0" fill="rgb(158,158,158)" fill-opacity="0.19"/>
<circle cx="612.9" cy="248.6" r="5.0" fill="rgb(158,158,158)" fill-opacity="0.19"/>
<circle cx="625.8" cy="247.4" r="5.0" fill="rgb(158,158,158)" fill-opacity="0.19"/>
<circle cx="599.5" cy="255.8" r="5.0" fill="rgb(158,158,158)" fill-opacity="0.19"/>
<circle cx="623" cy="258.6" r="5.0" fill="rgb(158,158,158)" fill-opacity="0.19"/>
<circle cx="605.1" cy="266.5" r="5.0" fill="rgb(158,158,158)" fill-opacity="0.19"/>
<circle cx="619.1" cy="272" r="5.0" fill="rgb(158,158,158)" fill-opacity="0.19"/>
<circle cx="605.1" cy="277.6" r="5.0" fill="rgb(158,158,158)" fill-opacity="0.19"/>
<circle cx="618.5" cy="279.9" r="5.0" fill="rgb(158,158,158)" fill-opacity="0.19"/>
<circle cx="628" cy="222" r="5.0" fill="rgb(158,158,158)" fill-opacity="0.19"/>
<line x1="614.5" y1="159.2" x2="614.5" y2="278.8" stroke="rgb(188,188,188)" stroke-width="1.2"/>
<line x1="614.5" y1="206.5" x2="614.5" y2="257.5" stroke="rgb(188,188,188)" stroke-width="2.6"/>
<line x1="595.7" y1="229.0" x2="633.3" y2="229.0" stroke="rgb(188,188,188)" stroke-width="3.0"/>
<circle cx="614.4" cy="226.2" r="8.8" fill="#fff" stroke="rgb(180,180,180)" stroke-width="1.0"/>
<path d="M686.0,175.4 L686.1,176.1 L686.2,176.7 L686.3,177.4 L686.4,178.1 L686.5,178.7 L686.6,179.4 L686.8,180.0 L686.9,180.7 L687.0,181.4 L687.1,182.0 L687.3,182.7 L687.4,183.4 L687.5,184.0 L687.7,184.7 L687.8,185.4 L688.0,186.0 L688.1,186.7 L688.3,187.3 L688.5,188.0 L688.6,188.7 L688.8,189.3 L689.0,190.0 L689.2,190.7 L689.4,191.3 L689.6,192.0 L689.8,192.6 L690.0,193.3 L690.1,194.0 L690.3,194.6 L690.5,195.3 L690.7,196.0 L690.9,196.6 L691.1,197.3 L691.3,198.0 L691.4,198.6 L691.6,199.3 L691.8,199.9 L692.0,200.6 L692.2,201.3 L692.3,201.9 L692.5,202.6 L692.7,203.3 L692.9,203.9 L693.1,204.6 L693.2,205.3 L693.4,205.9 L693.6,206.6 L693.8,207.2 L693.9,207.9 L694.1,208.6 L694.3,209.2 L694.5,209.9 L694.7,210.6 L694.9,211.2 L695.0,211.9 L695.2,212.5 L695.4,213.2 L695.5,213.9 L695.7,214.5 L695.9,215.2 L696.0,215.9 L696.1,216.5 L696.2,217.2 L696.4,217.9 L696.5,218.5 L696.6,219.2 L696.7,219.8 L696.8,220.5 L696.9,221.2 L697.0,221.8 L697.1,222.5 L697.2,223.2 L697.3,223.8 L697.4,224.5 L697.5,225.2 L697.5,225.8 L697.6,226.5 L697.6,227.1 L697.6,227.8 L697.6,228.5 L697.6,229.1 L697.6,229.8 L697.7,230.5 L697.7,231.1 L697.7,231.8 L697.7,232.4 L697.7,233.1 L697.7,233.8 L697.7,234.4 L697.7,235.1 L697.7,235.8 L697.7,236.4 L697.7,237.1 L697.7,237.8 L697.6,238.4 L697.6,239.1 L697.6,239.7 L697.5,240.4 L697.5,241.1 L697.5,241.7 L697.4,242.4 L697.4,243.1 L697.3,243.7 L697.3,244.4 L697.2,245.1 L697.2,245.7 L697.1,246.4 L697.0,247.0 L697.0,247.7 L696.9,248.4 L696.8,249.0 L696.8,249.7 L696.7,250.4 L696.6,251.0 L696.5,251.7 L696.5,252.3 L696.4,253.0 L696.3,253.7 L696.2,254.3 L696.1,255.0 L696.0,255.7 L695.9,256.3 L695.8,257.0 L695.6,257.7 L695.5,258.3 L695.3,259.0 L695.1,259.6 L695.0,260.3 L694.8,261.0 L694.6,261.6 L694.4,262.3 L694.2,263.0 L694.0,263.6 L693.7,264.3 L693.5,265.0 L693.3,265.6 L693.1,266.3 L692.9,266.9 L692.7,267.6 L692.5,268.3 L692.2,268.9 L692.0,269.6 L691.8,270.3 L691.6,270.9 L691.3,271.6 L691.1,272.2 L690.9,272.9 L690.6,273.6 L690.4,274.2 L690.1,274.9 L689.9,275.6 L689.6,276.2 L689.3,276.9 L689.1,277.6 L688.8,278.2 L688.5,278.9 L688.2,279.5 L687.9,280.2 L687.6,280.9 L687.3,281.5 L687.0,282.2 L670.5,282.2 L670.3,281.5 L670.0,280.9 L669.7,280.2 L669.4,279.5 L669.1,278.9 L668.8,278.2 L668.5,277.6 L668.3,276.9 L668.0,276.2 L667.7,275.6 L667.5,274.9 L667.2,274.2 L667.0,273.6 L666.7,272.9 L666.5,272.2 L666.3,271.6 L666.0,270.9 L665.8,270.3 L665.6,269.6 L665.4,268.9 L665.1,268.3 L664.9,267.6 L664.7,266.9 L664.5,266.3 L664.3,265.6 L664.1,265.0 L663.9,264.3 L663.6,263.6 L663.4,263.0 L663.2,262.3 L663.0,261.6 L662.8,261.0 L662.6,260.3 L662.5,259.6 L662.3,259.0 L662.1,258.3 L662.0,257.7 L661.8,257.0 L661.7,256.3 L661.6,255.7 L661.5,255.0 L661.4,254.3 L661.3,253.7 L661.2,253.0 L661.1,252.3 L661.1,251.7 L661.0,251.0 L660.9,250.4 L660.8,249.7 L660.8,249.0 L660.7,248.4 L660.6,247.7 L660.6,247.0 L660.5,246.4 L660.4,245.7 L660.4,245.1 L660.3,244.4 L660.3,243.7 L660.2,243.1 L660.2,242.4 L660.1,241.7 L660.1,241.1 L660.1,240.4 L660.0,239.7 L660.0,239.1 L660.0,238.4 L659.9,237.8 L659.9,237.1 L659.9,236.4 L659.9,235.8 L659.9,235.1 L659.9,234.4 L659.9,233.8 L659.9,233.1 L659.9,232.4 L659.9,231.8 L659.9,231.1 L659.9,230.5 L660.0,229.8 L660.0,229.1 L660.0,228.5 L660.0,227.8 L660.0,227.1 L660.0,226.5 L660.1,225.8 L660.1,225.2 L660.2,224.5 L660.3,223.8 L660.4,223.2 L660.5,222.5 L660.6,221.8 L660.7,221.2 L660.8,220.5 L660.9,219.8 L661.0,219.2 L661.1,218.5 L661.2,217.9 L661.4,217.2 L661.5,216.5 L661.6,215.9 L661.7,215.2 L661.9,214.5 L662.1,213.9 L662.2,213.2 L662.4,212.5 L662.6,211.9 L662.7,211.2 L662.9,210.6 L663.1,209.9 L663.3,209.2 L663.5,208.6 L663.7,207.9 L663.8,207.2 L664.0,206.6 L664.2,205.9 L664.4,205.3 L664.5,204.6 L664.7,203.9 L664.9,203.3 L665.1,202.6 L665.3,201.9 L665.4,201.3 L665.6,200.6 L665.8,199.9 L666.0,199.3 L666.2,198.6 L666.3,198.0 L666.5,197.3 L666.7,196.6 L666.9,196.0 L667.1,195.3 L667.3,194.6 L667.5,194.0 L667.6,193.3 L667.8,192.6 L668.0,192.0 L668.2,191.3 L668.4,190.7 L668.6,190.0 L668.8,189.3 L669.0,188.7 L669.1,188.0 L669.3,187.3 L669.5,186.7 L669.6,186.0 L669.8,185.4 L669.9,184.7 L670.1,184.0 L670.2,183.4 L670.3,182.7 L670.5,182.0 L670.6,181.4 L670.7,180.7 L670.8,180.0 L671.0,179.4 L671.1,178.7 L671.2,178.1 L671.3,177.4 L671.4,176.7 L671.5,176.1 L671.6,175.4 Z" fill="rgb(239,239,239)" stroke="rgb(200,200,200)" stroke-width="1.0" stroke-linejoin="round"/>
<circle cx="674.3" cy="172.8" r="5.0" fill="rgb(180,180,180)" fill-opacity="0.17"/>
<circle cx="684.7" cy="174.9" r="5.0" fill="rgb(180,180,180)" fill-opacity="0.17"/>
<circle cx="676.4" cy="203.6" r="5.0" fill="rgb(180,180,180)" fill-opacity="0.17"/>
<circle cx="669.6" cy="212" r="5.0" fill="rgb(180,180,180)" fill-opacity="0.17"/>
<circle cx="687.4" cy="210.9" r="5.0" fill="rgb(180,180,180)" fill-opacity="0.17"/>
<circle cx="691.5" cy="206.8" r="5.0" fill="rgb(180,180,180)" fill-opacity="0.17"/>
<circle cx="683.2" cy="216.1" r="5.0" fill="rgb(180,180,180)" fill-opacity="0.17"/>
<circle cx="665.4" cy="216.1" r="5.0" fill="rgb(180,180,180)" fill-opacity="0.17"/>
<circle cx="667.6" cy="255" r="5.0" fill="rgb(180,180,180)" fill-opacity="0.17"/>
<circle cx="662.8" cy="258" r="5.0" fill="rgb(180,180,180)" fill-opacity="0.17"/>
<circle cx="674.4" cy="256" r="5.0" fill="rgb(180,180,180)" fill-opacity="0.17"/>
<circle cx="680.2" cy="258" r="5.0" fill="rgb(180,180,180)" fill-opacity="0.17"/>
<circle cx="688.4" cy="240.5" r="5.0" fill="rgb(180,180,180)" fill-opacity="0.17"/>
<circle cx="689.9" cy="266.7" r="5.0" fill="rgb(180,180,180)" fill-opacity="0.17"/>
<circle cx="674.4" cy="279.3" r="5.0" fill="rgb(180,180,180)" fill-opacity="0.17"/>
<circle cx="683.1" cy="267.6" r="5.0" fill="rgb(180,180,180)" fill-opacity="0.17"/>
<line x1="678.8" y1="175.4" x2="678.8" y2="282.2" stroke="rgb(205,205,205)" stroke-width="1.2"/>
<line x1="678.8" y1="205" x2="678.8" y2="255" stroke="rgb(205,205,205)" stroke-width="2.6"/>
<line x1="660.0" y1="231.8" x2="697.5999999999999" y2="231.8" stroke="rgb(205,205,205)" stroke-width="3.0"/>
<circle cx="678.3" cy="231.8" r="8.8" fill="#fff" stroke="rgb(200,200,200)" stroke-width="1.0"/>
<polyline points="164.6,183.1 228.9,204.9 293.2,213.4 357.3,218.0 421.75,222.0 486.05,225.2 550.4,230.0 614.5,229.0 678.8,231.8" fill="none" stroke="#0c28f0" stroke-width="3.3" stroke-linejoin="round"/>
<line x1="100.24" y1="273.6" x2="740" y2="273.6" stroke="#b3b3b3" stroke-width="2.6" stroke-dasharray="2.6,3.06"/>
<text x="743" y="290.6" font-size="11.4" font-weight="bold" text-anchor="end" fill="#a8a8a8" >chance level</text>
<line x1="164.90" y1="86.05" x2="164.90" y2="79.80" stroke="#000" stroke-width="2.6" stroke-linecap="butt"/>
<line x1="164.90" y1="86.05" x2="170.84" y2="84.12" stroke="#000" stroke-width="2.6" stroke-linecap="butt"/>
<line x1="164.90" y1="86.05" x2="168.57" y2="91.11" stroke="#000" stroke-width="2.6" stroke-linecap="butt"/>
<line x1="164.90" y1="86.05" x2="161.23" y2="91.11" stroke="#000" stroke-width="2.6" stroke-linecap="butt"/>
<line x1="164.90" y1="86.05" x2="158.96" y2="84.12" stroke="#000" stroke-width="2.6" stroke-linecap="butt"/>
<circle cx="164.90" cy="86.05" r="1.95" fill="#000"/>
<line x1="229.00" y1="139.00" x2="229.00" y2="132.75" stroke="#000" stroke-width="2.6" stroke-linecap="butt"/>
<line x1="229.00" y1="139.00" x2="234.94" y2="137.07" stroke="#000" stroke-width="2.6" stroke-linecap="butt"/>
<line x1="229.00" y1="139.00" x2="232.67" y2="144.06" stroke="#000" stroke-width="2.6" stroke-linecap="butt"/>
<line x1="229.00" y1="139.00" x2="225.33" y2="144.06" stroke="#000" stroke-width="2.6" stroke-linecap="butt"/>
<line x1="229.00" y1="139.00" x2="223.06" y2="137.07" stroke="#000" stroke-width="2.6" stroke-linecap="butt"/>
<circle cx="229.00" cy="139.00" r="1.95" fill="#000"/>
<line x1="292.50" y1="127.80" x2="292.50" y2="121.55" stroke="#000" stroke-width="2.6" stroke-linecap="butt"/>
<line x1="292.50" y1="127.80" x2="298.44" y2="125.87" stroke="#000" stroke-width="2.6" stroke-linecap="butt"/>
<line x1="292.50" y1="127.80" x2="296.17" y2="132.86" stroke="#000" stroke-width="2.6" stroke-linecap="butt"/>
<line x1="292.50" y1="127.80" x2="288.83" y2="132.86" stroke="#000" stroke-width="2.6" stroke-linecap="butt"/>
<line x1="292.50" y1="127.80" x2="286.56" y2="125.87" stroke="#000" stroke-width="2.6" stroke-linecap="butt"/>
<circle cx="292.50" cy="127.80" r="1.95" fill="#000"/>
<line x1="357.75" y1="97.65" x2="357.75" y2="91.40" stroke="#000" stroke-width="2.6" stroke-linecap="butt"/>
<line x1="357.75" y1="97.65" x2="363.69" y2="95.72" stroke="#000" stroke-width="2.6" stroke-linecap="butt"/>
<line x1="357.75" y1="97.65" x2="361.42" y2="102.71" stroke="#000" stroke-width="2.6" stroke-linecap="butt"/>
<line x1="357.75" y1="97.65" x2="354.08" y2="102.71" stroke="#000" stroke-width="2.6" stroke-linecap="butt"/>
<line x1="357.75" y1="97.65" x2="351.81" y2="95.72" stroke="#000" stroke-width="2.6" stroke-linecap="butt"/>
<circle cx="357.75" cy="97.65" r="1.95" fill="#000"/>
<line x1="421.75" y1="112.05" x2="421.75" y2="105.80" stroke="#000" stroke-width="2.6" stroke-linecap="butt"/>
<line x1="421.75" y1="112.05" x2="427.69" y2="110.12" stroke="#000" stroke-width="2.6" stroke-linecap="butt"/>
<line x1="421.75" y1="112.05" x2="425.42" y2="117.11" stroke="#000" stroke-width="2.6" stroke-linecap="butt"/>
<line x1="421.75" y1="112.05" x2="418.08" y2="117.11" stroke="#000" stroke-width="2.6" stroke-linecap="butt"/>
<line x1="421.75" y1="112.05" x2="415.81" y2="110.12" stroke="#000" stroke-width="2.6" stroke-linecap="butt"/>
<circle cx="421.75" cy="112.05" r="1.95" fill="#000"/>
<line x1="485.25" y1="117.90" x2="485.25" y2="111.65" stroke="#000" stroke-width="2.6" stroke-linecap="butt"/>
<line x1="485.25" y1="117.90" x2="491.19" y2="115.97" stroke="#000" stroke-width="2.6" stroke-linecap="butt"/>
<line x1="485.25" y1="117.90" x2="488.92" y2="122.96" stroke="#000" stroke-width="2.6" stroke-linecap="butt"/>
<line x1="485.25" y1="117.90" x2="481.58" y2="122.96" stroke="#000" stroke-width="2.6" stroke-linecap="butt"/>
<line x1="485.25" y1="117.90" x2="479.31" y2="115.97" stroke="#000" stroke-width="2.6" stroke-linecap="butt"/>
<circle cx="485.25" cy="117.90" r="1.95" fill="#000"/>
<line x1="550.20" y1="121.05" x2="550.20" y2="114.80" stroke="#000" stroke-width="2.6" stroke-linecap="butt"/>
<line x1="550.20" y1="121.05" x2="556.14" y2="119.12" stroke="#000" stroke-width="2.6" stroke-linecap="butt"/>
<line x1="550.20" y1="121.05" x2="553.87" y2="126.11" stroke="#000" stroke-width="2.6" stroke-linecap="butt"/>
<line x1="550.20" y1="121.05" x2="546.53" y2="126.11" stroke="#000" stroke-width="2.6" stroke-linecap="butt"/>
<line x1="550.20" y1="121.05" x2="544.26" y2="119.12" stroke="#000" stroke-width="2.6" stroke-linecap="butt"/>
<circle cx="550.20" cy="121.05" r="1.95" fill="#000"/>
<line x1="614.20" y1="144.65" x2="614.20" y2="138.40" stroke="#000" stroke-width="2.6" stroke-linecap="butt"/>
<line x1="614.20" y1="144.65" x2="620.14" y2="142.72" stroke="#000" stroke-width="2.6" stroke-linecap="butt"/>
<line x1="614.20" y1="144.65" x2="617.87" y2="149.71" stroke="#000" stroke-width="2.6" stroke-linecap="butt"/>
<line x1="614.20" y1="144.65" x2="610.53" y2="149.71" stroke="#000" stroke-width="2.6" stroke-linecap="butt"/>
<line x1="614.20" y1="144.65" x2="608.26" y2="142.72" stroke="#000" stroke-width="2.6" stroke-linecap="butt"/>
<circle cx="614.20" cy="144.65" r="1.95" fill="#000"/>
<line x1="678.15" y1="160.65" x2="678.15" y2="154.40" stroke="#000" stroke-width="2.6" stroke-linecap="butt"/>
<line x1="678.15" y1="160.65" x2="684.09" y2="158.72" stroke="#000" stroke-width="2.6" stroke-linecap="butt"/>
<line x1="678.15" y1="160.65" x2="681.82" y2="165.71" stroke="#000" stroke-width="2.6" stroke-linecap="butt"/>
<line x1="678.15" y1="160.65" x2="674.48" y2="165.71" stroke="#000" stroke-width="2.6" stroke-linecap="butt"/>
<line x1="678.15" y1="160.65" x2="672.21" y2="158.72" stroke="#000" stroke-width="2.6" stroke-linecap="butt"/>
<circle cx="678.15" cy="160.65" r="1.95" fill="#000"/>
<line x1="100.5" y1="87.7" x2="100.5" y2="300.0" stroke="#606060" stroke-width="1.1"/>
<line x1="100.0" y1="300.0" x2="743.5" y2="300.0" stroke="#2e2e2e" stroke-width="1.1"/>
<line x1="100.5" y1="299.7" x2="107.0" y2="299.7" stroke="#505050" stroke-width="1.1"/>
<text x="93.5" y="305.7" font-size="17.6" font-weight="normal" text-anchor="end" fill="#262626" stroke="#262626" stroke-width="0.3">0.5</text>
<line x1="100.5" y1="246.8" x2="107.0" y2="246.8" stroke="#505050" stroke-width="1.1"/>
<text x="93.5" y="252.8" font-size="17.6" font-weight="normal" text-anchor="end" fill="#262626" stroke="#262626" stroke-width="0.3">0.6</text>
<line x1="100.5" y1="193.7" x2="107.0" y2="193.7" stroke="#505050" stroke-width="1.1"/>
<text x="93.5" y="199.7" font-size="17.6" font-weight="normal" text-anchor="end" fill="#262626" stroke="#262626" stroke-width="0.3">0.7</text>
<line x1="100.5" y1="140.5" x2="107.0" y2="140.5" stroke="#505050" stroke-width="1.1"/>
<text x="93.5" y="146.5" font-size="17.6" font-weight="normal" text-anchor="end" fill="#262626" stroke="#262626" stroke-width="0.3">0.8</text>
<line x1="100.5" y1="87.7" x2="107.0" y2="87.7" stroke="#505050" stroke-width="1.1"/>
<text x="93.5" y="93.7" font-size="17.6" font-weight="normal" text-anchor="end" fill="#262626" stroke="#262626" stroke-width="0.3">0.9</text>
<line x1="164.4" y1="300.0" x2="164.4" y2="293.5" stroke="#505050" stroke-width="1.1"/>
<text x="162" y="324.8" font-size="15.6" font-weight="normal" text-anchor="middle" fill="#262626" stroke="#262626" stroke-width="0.3">50</text>
<line x1="228.74" y1="300.0" x2="228.74" y2="293.5" stroke="#505050" stroke-width="1.1"/>
<text x="227" y="324.8" font-size="15.6" font-weight="normal" text-anchor="middle" fill="#262626" stroke="#262626" stroke-width="0.3">100</text>
<line x1="293.08000000000004" y1="300.0" x2="293.08000000000004" y2="293.5" stroke="#505050" stroke-width="1.1"/>
<text x="292.85" y="324.8" font-size="15.6" font-weight="normal" text-anchor="middle" fill="#262626" stroke="#262626" stroke-width="0.3">150</text>
<line x1="357.42" y1="300.0" x2="357.42" y2="293.5" stroke="#505050" stroke-width="1.1"/>
<text x="357.15" y="324.8" font-size="15.6" font-weight="normal" text-anchor="middle" fill="#262626" stroke="#262626" stroke-width="0.3">200</text>
<line x1="421.76" y1="300.0" x2="421.76" y2="293.5" stroke="#505050" stroke-width="1.1"/>
<text x="418.45" y="324.8" font-size="15.6" font-weight="normal" text-anchor="middle" fill="#262626" stroke="#262626" stroke-width="0.3">250</text>
<line x1="486.1" y1="300.0" x2="486.1" y2="293.5" stroke="#505050" stroke-width="1.1"/>
<text x="483" y="324.8" font-size="15.6" font-weight="normal" text-anchor="middle" fill="#262626" stroke="#262626" stroke-width="0.3">300</text>
<line x1="550.44" y1="300.0" x2="550.44" y2="293.5" stroke="#505050" stroke-width="1.1"/>
<text x="544.4" y="324.8" font-size="15.6" font-weight="normal" text-anchor="middle" fill="#262626" stroke="#262626" stroke-width="0.3">350</text>
<line x1="614.78" y1="300.0" x2="614.78" y2="293.5" stroke="#505050" stroke-width="1.1"/>
<text x="613.1" y="324.8" font-size="15.6" font-weight="normal" text-anchor="middle" fill="#262626" stroke="#262626" stroke-width="0.3">400</text>
<line x1="679.12" y1="300.0" x2="679.12" y2="293.5" stroke="#505050" stroke-width="1.1"/>
<text x="679.2" y="324.8" font-size="15.6" font-weight="normal" text-anchor="middle" fill="#262626" stroke="#262626" stroke-width="0.3">450</text>
<text x="397" y="354.9" font-size="18.6" font-weight="bold" text-anchor="middle" fill="#000" ># of trials</text>
<text transform="translate(25.8,190.0) rotate(-90)" x="0" y="0" font-size="18.6" font-weight="bold" text-anchor="middle" fill="#000">classification</text>
<text transform="translate(47.1,187.3) rotate(-90)" x="0" y="0" font-size="18.6" font-weight="bold" text-anchor="middle" fill="#000">performance (AUC)</text>
<text x="2.3" y="21" font-size="24.5" font-weight="bold" text-anchor="start" fill="#000" >a)</text>
<path d="M171.0,414.2 L171.1,414.9 L171.2,415.5 L171.3,416.2 L171.4,416.9 L171.5,417.5 L171.6,418.2 L171.6,418.9 L171.7,419.5 L171.8,420.2 L171.9,420.9 L172.0,421.5 L172.1,422.2 L172.2,422.8 L172.3,423.5 L172.4,424.2 L172.4,424.8 L172.5,425.5 L172.6,426.2 L172.7,426.8 L172.8,427.5 L172.9,428.2 L173.0,428.8 L173.1,429.5 L173.1,430.2 L173.2,430.8 L173.3,431.5 L173.4,432.2 L173.5,432.8 L173.6,433.5 L173.7,434.2 L173.7,434.8 L173.8,435.5 L173.9,436.2 L174.0,436.8 L174.1,437.5 L174.1,438.2 L174.2,438.8 L174.3,439.5 L174.4,440.1 L174.5,440.8 L174.5,441.5 L174.6,442.1 L174.7,442.8 L174.8,443.5 L174.9,444.1 L174.9,444.8 L175.0,445.5 L175.1,446.1 L175.2,446.8 L175.2,447.5 L175.3,448.1 L175.4,448.8 L175.4,449.5 L175.5,450.1 L175.6,450.8 L175.7,451.5 L175.7,452.1 L175.8,452.8 L175.9,453.5 L176.0,454.1 L176.0,454.8 L176.1,455.4 L176.2,456.1 L176.3,456.8 L176.3,457.4 L176.4,458.1 L176.5,458.8 L176.6,459.4 L176.7,460.1 L176.7,460.8 L176.8,461.4 L176.9,462.1 L177.0,462.8 L177.1,463.4 L177.1,464.1 L177.2,464.8 L177.3,465.4 L177.4,466.1 L177.5,466.8 L177.5,467.4 L177.6,468.1 L177.7,468.8 L177.8,469.4 L177.9,470.1 L177.9,470.8 L178.0,471.4 L178.1,472.1 L178.2,472.7 L178.3,473.4 L178.4,474.1 L178.5,474.7 L178.5,475.4 L178.6,476.1 L178.7,476.7 L178.8,477.4 L178.9,478.1 L179.0,478.7 L179.1,479.4 L179.2,480.1 L179.3,480.7 L179.4,481.4 L179.5,482.1 L179.6,482.7 L179.7,483.4 L179.8,484.1 L179.9,484.7 L180.0,485.4 L180.1,486.1 L180.2,486.7 L180.3,487.4 L180.4,488.0 L180.5,488.7 L180.6,489.4 L180.8,490.0 L180.9,490.7 L181.0,491.4 L181.1,492.0 L181.2,492.7 L181.3,493.4 L181.4,494.0 L181.5,494.7 L181.6,495.4 L181.7,496.0 L181.8,496.7 L181.9,497.4 L182.0,498.0 L182.1,498.7 L182.2,499.4 L182.3,500.0 L182.4,500.7 L182.4,501.4 L182.5,502.0 L182.6,502.7 L182.7,503.4 L182.8,504.0 L182.9,504.7 L183.0,505.3 L183.1,506.0 L183.2,506.7 L183.2,507.3 L183.3,508.0 L183.4,508.7 L183.5,509.3 L183.6,510.0 L183.7,510.7 L183.8,511.3 L183.9,512.0 L184.0,512.7 L184.0,513.3 L184.1,514.0 L184.2,514.7 L184.3,515.3 L184.3,516.0 L184.4,516.7 L184.5,517.3 L184.5,518.0 L184.6,518.7 L184.7,519.3 L184.7,520.0 L184.8,520.6 L184.8,521.3 L184.9,522.0 L184.9,522.6 L185.0,523.3 L185.0,524.0 L185.1,524.6 L185.1,525.3 L185.1,526.0 L185.2,526.6 L185.2,527.3 L185.2,528.0 L185.3,528.6 L185.3,529.3 L185.3,530.0 L185.3,530.6 L185.4,531.3 L185.4,532.0 L185.4,532.6 L185.4,533.3 L185.4,534.0 L185.4,534.6 L185.5,535.3 L185.5,536.0 L185.5,536.6 L185.5,537.3 L185.5,537.9 L185.5,538.6 L185.5,539.3 L185.5,539.9 L185.4,540.6 L185.4,541.3 L185.3,541.9 L185.2,542.6 L185.1,543.3 L185.0,543.9 L184.9,544.6 L184.8,545.3 L184.6,545.9 L184.5,546.6 L184.4,547.3 L184.2,547.9 L184.1,548.6 L183.9,549.3 L183.8,549.9 L183.6,550.6 L183.5,551.3 L183.3,551.9 L183.2,552.6 L183.1,553.2 L183.0,553.9 L182.8,554.6 L182.7,555.2 L182.6,555.9 L182.4,556.6 L182.3,557.2 L182.1,557.9 L182.0,558.6 L181.8,559.2 L181.7,559.9 L181.5,560.6 L181.4,561.2 L181.2,561.9 L181.1,562.6 L180.9,563.2 L180.8,563.9 L180.6,564.6 L180.5,565.2 L180.3,565.9 L180.2,566.6 L180.0,567.2 L179.9,567.9 L179.7,568.6 L179.6,569.2 L179.4,569.9 L179.2,570.5 L179.1,571.2 L178.9,571.9 L178.8,572.5 L178.6,573.2 L178.4,573.9 L178.3,574.5 L178.1,575.2 L177.9,575.9 L177.8,576.5 L177.6,577.2 L155.2,577.2 L155.0,576.5 L154.9,575.9 L154.7,575.2 L154.5,574.5 L154.4,573.9 L154.2,573.2 L154.0,572.5 L153.9,571.9 L153.7,571.2 L153.6,570.5 L153.4,569.9 L153.2,569.2 L153.1,568.6 L152.9,567.9 L152.8,567.2 L152.6,566.6 L152.5,565.9 L152.3,565.2 L152.2,564.6 L152.0,563.9 L151.9,563.2 L151.7,562.6 L151.6,561.9 L151.4,561.2 L151.3,560.6 L151.1,559.9 L151.0,559.2 L150.8,558.6 L150.7,557.9 L150.5,557.2 L150.4,556.6 L150.2,555.9 L150.1,555.2 L150.0,554.6 L149.8,553.9 L149.7,553.2 L149.6,552.6 L149.5,551.9 L149.3,551.3 L149.2,550.6 L149.0,549.9 L148.9,549.3 L148.7,548.6 L148.6,547.9 L148.4,547.3 L148.3,546.6 L148.2,545.9 L148.0,545.3 L147.9,544.6 L147.8,543.9 L147.7,543.3 L147.6,542.6 L147.5,541.9 L147.4,541.3 L147.4,540.6 L147.3,539.9 L147.3,539.3 L147.3,538.6 L147.3,537.9 L147.3,537.3 L147.3,536.6 L147.3,536.0 L147.3,535.3 L147.4,534.6 L147.4,534.0 L147.4,533.3 L147.4,532.6 L147.4,532.0 L147.4,531.3 L147.5,530.6 L147.5,530.0 L147.5,529.3 L147.5,528.6 L147.6,528.0 L147.6,527.3 L147.6,526.6 L147.7,526.0 L147.7,525.3 L147.7,524.6 L147.8,524.0 L147.8,523.3 L147.9,522.6 L147.9,522.0 L148.0,521.3 L148.0,520.6 L148.1,520.0 L148.1,519.3 L148.2,518.7 L148.3,518.0 L148.3,517.3 L148.4,516.7 L148.5,516.0 L148.5,515.3 L148.6,514.7 L148.7,514.0 L148.8,513.3 L148.8,512.7 L148.9,512.0 L149.0,511.3 L149.1,510.7 L149.2,510.0 L149.3,509.3 L149.4,508.7 L149.5,508.0 L149.6,507.3 L149.6,506.7 L149.7,506.0 L149.8,505.3 L149.9,504.7 L150.0,504.0 L150.1,503.4 L150.2,502.7 L150.3,502.0 L150.4,501.4 L150.4,500.7 L150.5,500.0 L150.6,499.4 L150.7,498.7 L150.8,498.0 L150.9,497.4 L151.0,496.7 L151.1,496.0 L151.2,495.4 L151.3,494.7 L151.4,494.0 L151.5,493.4 L151.6,492.7 L151.7,492.0 L151.8,491.4 L151.9,490.7 L152.0,490.0 L152.2,489.4 L152.3,488.7 L152.4,488.0 L152.5,487.4 L152.6,486.7 L152.7,486.1 L152.8,485.4 L152.9,484.7 L153.0,484.1 L153.1,483.4 L153.2,482.7 L153.3,482.1 L153.4,481.4 L153.5,480.7 L153.6,480.1 L153.7,479.4 L153.8,478.7 L153.9,478.1 L154.0,477.4 L154.1,476.7 L154.2,476.1 L154.3,475.4 L154.3,474.7 L154.4,474.1 L154.5,473.4 L154.6,472.7 L154.7,472.1 L154.8,471.4 L154.9,470.8 L154.9,470.1 L155.0,469.4 L155.1,468.8 L155.2,468.1 L155.3,467.4 L155.3,466.8 L155.4,466.1 L155.5,465.4 L155.6,464.8 L155.7,464.1 L155.7,463.4 L155.8,462.8 L155.9,462.1 L156.0,461.4 L156.1,460.8 L156.1,460.1 L156.2,459.4 L156.3,458.8 L156.4,458.1 L156.5,457.4 L156.5,456.8 L156.6,456.1 L156.7,455.4 L156.8,454.8 L156.8,454.1 L156.9,453.5 L157.0,452.8 L157.1,452.1 L157.1,451.5 L157.2,450.8 L157.3,450.1 L157.4,449.5 L157.4,448.8 L157.5,448.1 L157.6,447.5 L157.6,446.8 L157.7,446.1 L157.8,445.5 L157.9,444.8 L157.9,444.1 L158.0,443.5 L158.1,442.8 L158.2,442.1 L158.3,441.5 L158.3,440.8 L158.4,440.1 L158.5,439.5 L158.6,438.8 L158.7,438.2 L158.7,437.5 L158.8,436.8 L158.9,436.2 L159.0,435.5 L159.1,434.8 L159.1,434.2 L159.2,433.5 L159.3,432.8 L159.4,432.2 L159.5,431.5 L159.6,430.8 L159.7,430.2 L159.7,429.5 L159.8,428.8 L159.9,428.2 L160.0,427.5 L160.1,426.8 L160.2,426.2 L160.3,425.5 L160.4,424.8 L160.4,424.2 L160.5,423.5 L160.6,422.8 L160.7,422.2 L160.8,421.5 L160.9,420.9 L161.0,420.2 L161.1,419.5 L161.2,418.9 L161.2,418.2 L161.3,417.5 L161.4,416.9 L161.5,416.2 L161.6,415.5 L161.7,414.9 L161.8,414.2 Z" fill="rgb(170,170,170)" stroke="rgb(40,40,40)" stroke-width="1.0" stroke-linejoin="round"/>
<circle cx="170" cy="412.8" r="5.0" fill="rgb(78,78,78)" fill-opacity="0.41"/>
<circle cx="164.9" cy="431.3" r="5.0" fill="rgb(78,78,78)" fill-opacity="0.41"/>
<circle cx="170.5" cy="463.2" r="5.0" fill="rgb(78,78,78)" fill-opacity="0.41"/>
<circle cx="171" cy="463.8" r="5.0" fill="rgb(78,78,78)" fill-opacity="0.41"/>
<circle cx="174.4" cy="489.1" r="5.0" fill="rgb(78,78,78)" fill-opacity="0.41"/>
<circle cx="175.4" cy="495.9" r="5.0" fill="rgb(78,78,78)" fill-opacity="0.41"/>
<circle cx="164.4" cy="506.3" r="5.0" fill="rgb(78,78,78)" fill-opacity="0.41"/>
<circle cx="151.4" cy="513.1" r="5.0" fill="rgb(78,78,78)" fill-opacity="0.41"/>
<circle cx="181.1" cy="520.9" r="5.0" fill="rgb(78,78,78)" fill-opacity="0.41"/>
<circle cx="181.5" cy="521.5" r="5.0" fill="rgb(78,78,78)" fill-opacity="0.41"/>
<circle cx="183.8" cy="522.5" r="5.0" fill="rgb(78,78,78)" fill-opacity="0.41"/>
<circle cx="148.3" cy="531.8" r="5.0" fill="rgb(78,78,78)" fill-opacity="0.41"/>
<circle cx="155.9" cy="537.6" r="5.0" fill="rgb(78,78,78)" fill-opacity="0.41"/>
<circle cx="173.8" cy="531.3" r="5.0" fill="rgb(78,78,78)" fill-opacity="0.41"/>
<circle cx="175.5" cy="548.3" r="5.0" fill="rgb(78,78,78)" fill-opacity="0.41"/>
<circle cx="166.6" cy="552.4" r="5.0" fill="rgb(78,78,78)" fill-opacity="0.41"/>
<circle cx="163.5" cy="558.6" r="5.0" fill="rgb(78,78,78)" fill-opacity="0.41"/>
<circle cx="176.4" cy="559.1" r="5.0" fill="rgb(78,78,78)" fill-opacity="0.41"/>
<circle cx="171.1" cy="564" r="5.0" fill="rgb(78,78,78)" fill-opacity="0.41"/>
<circle cx="172.9" cy="562.2" r="5.0" fill="rgb(78,78,78)" fill-opacity="0.41"/>
<circle cx="162.1" cy="577.4" r="5.0" fill="rgb(78,78,78)" fill-opacity="0.41"/>
<line x1="166.4" y1="414.2" x2="166.4" y2="577.2" stroke="rgb(15,15,15)" stroke-width="1.2"/>
<line x1="166.4" y1="477.7" x2="166.4" y2="550.6" stroke="rgb(15,15,15)" stroke-width="2.6"/>
<line x1="148.9" y1="512.1" x2="183.9" y2="512.1" stroke="rgb(15,15,15)" stroke-width="3.0"/>
<circle cx="166.5" cy="521.5" r="8.8" fill="#fff" stroke="rgb(50,50,50)" stroke-width="1.0"/>
<path d="M233.5,432.6 L233.5,433.3 L233.5,433.9 L233.5,434.6 L233.5,435.3 L233.6,435.9 L233.6,436.6 L233.6,437.3 L233.7,437.9 L233.7,438.6 L233.8,439.3 L233.8,439.9 L233.9,440.6 L233.9,441.3 L234.0,441.9 L234.0,442.6 L234.1,443.3 L234.2,443.9 L234.2,444.6 L234.3,445.3 L234.3,445.9 L234.4,446.6 L234.5,447.3 L234.5,447.9 L234.6,448.6 L234.7,449.3 L234.8,449.9 L234.9,450.6 L234.9,451.3 L235.0,451.9 L235.1,452.6 L235.2,453.3 L235.3,453.9 L235.4,454.6 L235.5,455.3 L235.6,455.9 L235.7,456.6 L235.8,457.3 L235.9,457.9 L236.0,458.6 L236.1,459.3 L236.2,459.9 L236.3,460.6 L236.4,461.3 L236.6,461.9 L236.7,462.6 L236.8,463.3 L236.9,463.9 L237.0,464.6 L237.2,465.3 L237.3,465.9 L237.4,466.6 L237.6,467.3 L237.7,467.9 L237.9,468.6 L238.0,469.3 L238.1,469.9 L238.3,470.6 L238.4,471.3 L238.6,471.9 L238.8,472.6 L238.9,473.3 L239.1,473.9 L239.3,474.6 L239.4,475.3 L239.6,475.9 L239.8,476.6 L239.9,477.3 L240.1,477.9 L240.3,478.6 L240.5,479.3 L240.6,479.9 L240.8,480.6 L241.0,481.3 L241.2,481.9 L241.4,482.6 L241.5,483.3 L241.7,483.9 L241.9,484.6 L242.1,485.3 L242.3,485.9 L242.5,486.6 L242.7,487.3 L242.9,487.9 L243.1,488.6 L243.3,489.3 L243.4,489.9 L243.6,490.6 L243.8,491.3 L244.0,491.9 L244.2,492.6 L244.4,493.3 L244.6,493.9 L244.8,494.6 L245.0,495.3 L245.1,495.9 L245.3,496.6 L245.5,497.2 L245.7,497.9 L245.8,498.6 L246.0,499.2 L246.2,499.9 L246.4,500.6 L246.5,501.2 L246.7,501.9 L246.9,502.6 L247.1,503.2 L247.2,503.9 L247.4,504.6 L247.6,505.2 L247.7,505.9 L247.9,506.6 L248.0,507.2 L248.2,507.9 L248.3,508.6 L248.4,509.2 L248.6,509.9 L248.7,510.6 L248.8,511.2 L248.9,511.9 L249.0,512.6 L249.1,513.2 L249.1,513.9 L249.2,514.6 L249.3,515.2 L249.4,515.9 L249.5,516.6 L249.5,517.2 L249.6,517.9 L249.7,518.6 L249.7,519.2 L249.8,519.9 L249.8,520.6 L249.9,521.2 L249.9,521.9 L249.9,522.6 L249.9,523.2 L250.0,523.9 L250.0,524.6 L250.0,525.2 L250.0,525.9 L250.0,526.6 L250.0,527.2 L250.0,527.9 L250.0,528.6 L250.0,529.2 L250.0,529.9 L250.0,530.6 L249.9,531.2 L249.9,531.9 L249.8,532.6 L249.7,533.2 L249.6,533.9 L249.5,534.6 L249.4,535.2 L249.3,535.9 L249.2,536.6 L249.1,537.2 L249.0,537.9 L248.8,538.6 L248.7,539.2 L248.6,539.9 L248.4,540.6 L248.3,541.2 L248.2,541.9 L248.0,542.6 L247.9,543.2 L247.8,543.9 L247.7,544.6 L247.6,545.2 L247.5,545.9 L247.3,546.6 L247.2,547.2 L247.1,547.9 L247.0,548.6 L246.9,549.2 L246.8,549.9 L246.7,550.6 L246.6,551.2 L246.5,551.9 L246.3,552.6 L246.2,553.2 L246.1,553.9 L246.0,554.6 L245.9,555.2 L245.8,555.9 L245.7,556.6 L245.5,557.2 L245.4,557.9 L245.3,558.6 L245.2,559.2 L245.1,559.9 L244.9,560.6 L244.8,561.2 L244.7,561.9 L216.9,561.9 L216.8,561.2 L216.7,560.6 L216.5,559.9 L216.4,559.2 L216.3,558.6 L216.2,557.9 L216.1,557.2 L215.9,556.6 L215.8,555.9 L215.7,555.2 L215.6,554.6 L215.5,553.9 L215.4,553.2 L215.3,552.6 L215.1,551.9 L215.0,551.2 L214.9,550.6 L214.8,549.9 L214.7,549.2 L214.6,548.6 L214.5,547.9 L214.4,547.2 L214.3,546.6 L214.1,545.9 L214.0,545.2 L213.9,544.6 L213.8,543.9 L213.7,543.2 L213.6,542.6 L213.4,541.9 L213.3,541.2 L213.2,540.6 L213.0,539.9 L212.9,539.2 L212.8,538.6 L212.6,537.9 L212.5,537.2 L212.4,536.6 L212.3,535.9 L212.2,535.2 L212.1,534.6 L212.0,533.9 L211.9,533.2 L211.8,532.6 L211.7,531.9 L211.7,531.2 L211.6,530.6 L211.6,529.9 L211.6,529.2 L211.6,528.6 L211.6,527.9 L211.6,527.2 L211.6,526.6 L211.6,525.9 L211.6,525.2 L211.6,524.6 L211.6,523.9 L211.7,523.2 L211.7,522.6 L211.7,521.9 L211.7,521.2 L211.8,520.6 L211.8,519.9 L211.9,519.2 L211.9,518.6 L212.0,517.9 L212.1,517.2 L212.1,516.6 L212.2,515.9 L212.3,515.2 L212.4,514.6 L212.5,513.9 L212.5,513.2 L212.6,512.6 L212.7,511.9 L212.8,511.2 L212.9,510.6 L213.0,509.9 L213.2,509.2 L213.3,508.6 L213.4,507.9 L213.6,507.2 L213.7,506.6 L213.9,505.9 L214.0,505.2 L214.2,504.6 L214.4,503.9 L214.5,503.2 L214.7,502.6 L214.9,501.9 L215.1,501.2 L215.2,500.6 L215.4,499.9 L215.6,499.2 L215.8,498.6 L215.9,497.9 L216.1,497.2 L216.3,496.6 L216.5,495.9 L216.6,495.3 L216.8,494.6 L217.0,493.9 L217.2,493.3 L217.4,492.6 L217.6,491.9 L217.8,491.3 L218.0,490.6 L218.2,489.9 L218.3,489.3 L218.5,488.6 L218.7,487.9 L218.9,487.3 L219.1,486.6 L219.3,485.9 L219.5,485.3 L219.7,484.6 L219.9,483.9 L220.1,483.3 L220.2,482.6 L220.4,481.9 L220.6,481.3 L220.8,480.6 L221.0,479.9 L221.1,479.3 L221.3,478.6 L221.5,477.9 L221.7,477.3 L221.8,476.6 L222.0,475.9 L222.2,475.3 L222.3,474.6 L222.5,473.9 L222.7,473.3 L222.8,472.6 L223.0,471.9 L223.2,471.3 L223.3,470.6 L223.5,469.9 L223.6,469.3 L223.7,468.6 L223.9,467.9 L224.0,467.3 L224.2,466.6 L224.3,465.9 L224.4,465.3 L224.6,464.6 L224.7,463.9 L224.8,463.3 L224.9,462.6 L225.0,461.9 L225.2,461.3 L225.3,460.6 L225.4,459.9 L225.5,459.3 L225.6,458.6 L225.7,457.9 L225.8,457.3 L225.9,456.6 L226.0,455.9 L226.1,455.3 L226.2,454.6 L226.3,453.9 L226.4,453.3 L226.5,452.6 L226.6,451.9 L226.7,451.3 L226.7,450.6 L226.8,449.9 L226.9,449.3 L227.0,448.6 L227.1,447.9 L227.1,447.3 L227.2,446.6 L227.3,445.9 L227.3,445.3 L227.4,444.6 L227.4,443.9 L227.5,443.3 L227.6,442.6 L227.6,441.9 L227.7,441.3 L227.7,440.6 L227.8,439.9 L227.8,439.3 L227.9,438.6 L227.9,437.9 L228.0,437.3 L228.0,436.6 L228.0,435.9 L228.1,435.3 L228.1,434.6 L228.1,433.9 L228.1,433.3 L228.1,432.6 Z" fill="rgb(179,179,179)" stroke="rgb(55,55,55)" stroke-width="1.0" stroke-linejoin="round"/>
<circle cx="231.6" cy="431.7" r="5.0" fill="rgb(82,82,82)" fill-opacity="0.37"/>
<circle cx="224.3" cy="468.6" r="5.0" fill="rgb(82,82,82)" fill-opacity="0.37"/>
<circle cx="224.3" cy="477" r="5.0" fill="rgb(82,82,82)" fill-opacity="0.37"/>
<circle cx="232.7" cy="492.1" r="5.0" fill="rgb(82,82,82)" fill-opacity="0.37"/>
<circle cx="225.5" cy="498.8" r="5.0" fill="rgb(82,82,82)" fill-opacity="0.37"/>
<circle cx="245" cy="498.3" r="5.0" fill="rgb(82,82,82)" fill-opacity="0.37"/>
<circle cx="226.5" cy="501" r="5.0" fill="rgb(82,82,82)" fill-opacity="0.37"/>
<circle cx="235" cy="502.8" r="5.0" fill="rgb(82,82,82)" fill-opacity="0.37"/>
<circle cx="244.5" cy="500.2" r="5.0" fill="rgb(82,82,82)" fill-opacity="0.37"/>
<circle cx="218" cy="513" r="5.0" fill="rgb(82,82,82)" fill-opacity="0.37"/>
<circle cx="248.8" cy="514.8" r="5.0" fill="rgb(82,82,82)" fill-opacity="0.37"/>
<circle cx="245.4" cy="523.4" r="5.0" fill="rgb(82,82,82)" fill-opacity="0.37"/>
<circle cx="243.7" cy="528.5" r="5.0" fill="rgb(82,82,82)" fill-opacity="0.37"/>
<circle cx="219.7" cy="538" r="5.0" fill="rgb(82,82,82)" fill-opacity="0.37"/>
<circle cx="226.5" cy="543" r="5.0" fill="rgb(82,82,82)" fill-opacity="0.37"/>
<circle cx="218.8" cy="545.6" r="5.0" fill="rgb(82,82,82)" fill-opacity="0.37"/>
<circle cx="234.2" cy="549" r="5.0" fill="rgb(82,82,82)" fill-opacity="0.37"/>
<circle cx="224" cy="554.2" r="5.0" fill="rgb(82,82,82)" fill-opacity="0.37"/>
<circle cx="236.8" cy="561" r="5.0" fill="rgb(82,82,82)" fill-opacity="0.37"/>
<line x1="230.8" y1="469.2" x2="230.8" y2="561.9" stroke="rgb(35,35,35)" stroke-width="1.2"/>
<line x1="230.8" y1="501" x2="230.8" y2="545.6" stroke="rgb(35,35,35)" stroke-width="2.6"/>
<line x1="212.0" y1="518.2" x2="249.60000000000002" y2="518.2" stroke="rgb(35,35,35)" stroke-width="3.0"/>
<circle cx="230.8" cy="519.2" r="8.8" fill="#fff" stroke="rgb(65,65,65)" stroke-width="1.0"/>
<path d="M296.5,436.2 L296.5,436.9 L296.5,437.5 L296.5,438.2 L296.5,438.9 L296.5,439.5 L296.5,440.2 L296.5,440.9 L296.5,441.5 L296.5,442.2 L296.4,442.9 L296.4,443.5 L296.4,444.2 L296.4,444.8 L296.4,445.5 L296.4,446.2 L296.4,446.8 L296.4,447.5 L296.4,448.2 L296.4,448.8 L296.4,449.5 L296.4,450.2 L296.4,450.8 L296.4,451.5 L296.4,452.2 L296.4,452.8 L296.4,453.5 L296.4,454.2 L296.4,454.8 L296.4,455.5 L296.4,456.2 L296.4,456.8 L296.4,457.5 L296.4,458.2 L296.4,458.8 L296.4,459.5 L296.3,460.2 L296.3,460.8 L296.3,461.5 L296.3,462.1 L296.3,462.8 L296.3,463.5 L296.3,464.1 L296.3,464.8 L296.3,465.5 L296.3,466.1 L296.3,466.8 L296.3,467.5 L296.3,468.1 L296.3,468.8 L296.3,469.5 L296.3,470.1 L296.3,470.8 L296.3,471.5 L296.3,472.1 L296.3,472.8 L296.3,473.5 L296.3,474.1 L296.3,474.8 L296.3,475.5 L296.3,476.1 L296.3,476.8 L296.3,477.5 L296.3,478.1 L296.3,478.8 L296.3,479.4 L296.3,480.1 L296.4,480.8 L296.4,481.4 L296.4,482.1 L296.5,482.8 L296.5,483.4 L296.5,484.1 L296.6,484.8 L296.7,485.4 L296.7,486.1 L296.8,486.8 L296.9,487.4 L297.0,488.1 L297.1,488.8 L297.1,489.4 L297.2,490.1 L297.3,490.8 L297.5,491.4 L297.6,492.1 L297.8,492.8 L298.0,493.4 L298.2,494.1 L298.4,494.8 L298.6,495.4 L298.9,496.1 L299.1,496.8 L299.3,497.4 L299.4,498.1 L299.6,498.7 L299.8,499.4 L300.0,500.1 L300.3,500.7 L300.5,501.4 L300.7,502.1 L300.9,502.7 L301.2,503.4 L301.4,504.1 L301.7,504.7 L301.9,505.4 L302.2,506.1 L302.4,506.7 L302.7,507.4 L303.0,508.1 L303.2,508.7 L303.5,509.4 L303.8,510.1 L304.1,510.7 L304.4,511.4 L304.7,512.1 L305.0,512.7 L305.3,513.4 L305.6,514.0 L305.9,514.7 L306.2,515.4 L306.6,516.0 L306.9,516.7 L307.2,517.4 L307.6,518.0 L307.9,518.7 L308.3,519.4 L308.6,520.0 L309.0,520.7 L309.4,521.4 L309.9,522.0 L310.4,522.7 L310.9,523.4 L311.3,524.0 L311.8,524.7 L312.2,525.4 L312.6,526.0 L312.8,526.7 L313.0,527.4 L313.1,528.0 L313.3,528.7 L313.4,529.4 L313.6,530.0 L313.7,530.7 L313.8,531.3 L313.9,532.0 L314.0,532.7 L314.1,533.3 L314.2,534.0 L314.3,534.7 L314.3,535.3 L314.4,536.0 L314.4,536.7 L314.4,537.3 L314.4,538.0 L314.4,538.7 L314.4,539.3 L314.3,540.0 L314.3,540.7 L314.2,541.3 L314.1,542.0 L314.0,542.7 L314.0,543.3 L313.8,544.0 L313.7,544.7 L313.6,545.3 L313.5,546.0 L313.3,546.7 L313.2,547.3 L313.0,548.0 L312.9,548.6 L312.7,549.3 L312.5,550.0 L312.3,550.6 L312.1,551.3 L311.9,552.0 L311.5,552.6 L311.1,553.3 L310.7,554.0 L310.2,554.6 L309.7,555.3 L309.2,556.0 L308.6,556.6 L308.1,557.3 L281.9,557.3 L281.4,556.6 L280.8,556.0 L280.3,555.3 L279.8,554.6 L279.3,554.0 L278.9,553.3 L278.5,552.6 L278.1,552.0 L277.9,551.3 L277.7,550.6 L277.5,550.0 L277.3,549.3 L277.1,548.6 L277.0,548.0 L276.8,547.3 L276.7,546.7 L276.5,546.0 L276.4,545.3 L276.3,544.7 L276.2,544.0 L276.0,543.3 L276.0,542.7 L275.9,542.0 L275.8,541.3 L275.7,540.7 L275.7,540.0 L275.6,539.3 L275.6,538.7 L275.6,538.0 L275.6,537.3 L275.6,536.7 L275.6,536.0 L275.7,535.3 L275.7,534.7 L275.8,534.0 L275.9,533.3 L276.0,532.7 L276.1,532.0 L276.2,531.3 L276.3,530.7 L276.4,530.0 L276.6,529.4 L276.7,528.7 L276.9,528.0 L277.0,527.4 L277.2,526.7 L277.4,526.0 L277.8,525.4 L278.2,524.7 L278.7,524.0 L279.1,523.4 L279.6,522.7 L280.1,522.0 L280.6,521.4 L281.0,520.7 L281.4,520.0 L281.7,519.4 L282.1,518.7 L282.4,518.0 L282.8,517.4 L283.1,516.7 L283.4,516.0 L283.8,515.4 L284.1,514.7 L284.4,514.0 L284.7,513.4 L285.0,512.7 L285.3,512.1 L285.6,511.4 L285.9,510.7 L286.2,510.1 L286.5,509.4 L286.8,508.7 L287.0,508.1 L287.3,507.4 L287.6,506.7 L287.8,506.1 L288.1,505.4 L288.3,504.7 L288.6,504.1 L288.8,503.4 L289.1,502.7 L289.3,502.1 L289.5,501.4 L289.7,500.7 L290.0,500.1 L290.2,499.4 L290.4,498.7 L290.6,498.1 L290.7,497.4 L290.9,496.8 L291.1,496.1 L291.4,495.4 L291.6,494.8 L291.8,494.1 L292.0,493.4 L292.2,492.8 L292.4,492.1 L292.5,491.4 L292.7,490.8 L292.8,490.1 L292.9,489.4 L292.9,488.8 L293.0,488.1 L293.1,487.4 L293.2,486.8 L293.3,486.1 L293.3,485.4 L293.4,484.8 L293.5,484.1 L293.5,483.4 L293.5,482.8 L293.6,482.1 L293.6,481.4 L293.6,480.8 L293.7,480.1 L293.7,479.4 L293.7,478.8 L293.7,478.1 L293.7,477.5 L293.7,476.8 L293.7,476.1 L293.7,475.5 L293.7,474.8 L293.7,474.1 L293.7,473.5 L293.7,472.8 L293.7,472.1 L293.7,471.5 L293.7,470.8 L293.7,470.1 L293.7,469.5 L293.7,468.8 L293.7,468.1 L293.7,467.5 L293.7,466.8 L293.7,466.1 L293.7,465.5 L293.7,464.8 L293.7,464.1 L293.7,463.5 L293.7,462.8 L293.7,462.1 L293.7,461.5 L293.7,460.8 L293.7,460.2 L293.6,459.5 L293.6,458.8 L293.6,458.2 L293.6,457.5 L293.6,456.8 L293.6,456.2 L293.6,455.5 L293.6,454.8 L293.6,454.2 L293.6,453.5 L293.6,452.8 L293.6,452.2 L293.6,451.5 L293.6,450.8 L293.6,450.2 L293.6,449.5 L293.6,448.8 L293.6,448.2 L293.6,447.5 L293.6,446.8 L293.6,446.2 L293.6,445.5 L293.6,444.8 L293.6,444.2 L293.6,443.5 L293.6,442.9 L293.5,442.2 L293.5,441.5 L293.5,440.9 L293.5,440.2 L293.5,439.5 L293.5,438.9 L293.5,438.2 L293.5,437.5 L293.5,436.9 L293.5,436.2 Z" fill="rgb(190,190,190)" stroke="rgb(72,72,72)" stroke-width="1.0" stroke-linejoin="round"/>
<circle cx="295.7" cy="435.6" r="5.0" fill="rgb(88,88,88)" fill-opacity="0.32"/>
<circle cx="294.6" cy="464.1" r="5.0" fill="rgb(88,88,88)" fill-opacity="0.32"/>
<circle cx="291" cy="500.5" r="5.0" fill="rgb(88,88,88)" fill-opacity="0.32"/>
<circle cx="300.5" cy="509.8" r="5.0" fill="rgb(88,88,88)" fill-opacity="0.32"/>
<circle cx="288.8" cy="519.8" r="5.0" fill="rgb(88,88,88)" fill-opacity="0.32"/>
<circle cx="289.3" cy="520.3" r="5.0" fill="rgb(88,88,88)" fill-opacity="0.32"/>
<circle cx="299.7" cy="520.6" r="5.0" fill="rgb(88,88,88)" fill-opacity="0.32"/>
<circle cx="300.2" cy="521.6" r="5.0" fill="rgb(88,88,88)" fill-opacity="0.32"/>
<circle cx="282.9" cy="529.3" r="5.0" fill="rgb(88,88,88)" fill-opacity="0.32"/>
<circle cx="309.7" cy="541.3" r="5.0" fill="rgb(88,88,88)" fill-opacity="0.32"/>
<circle cx="303.8" cy="546" r="5.0" fill="rgb(88,88,88)" fill-opacity="0.32"/>
<circle cx="291.2" cy="550.8" r="5.0" fill="rgb(88,88,88)" fill-opacity="0.32"/>
<circle cx="283.5" cy="553.8" r="5.0" fill="rgb(88,88,88)" fill-opacity="0.32"/>
<circle cx="281.1" cy="556.7" r="5.0" fill="rgb(88,88,88)" fill-opacity="0.32"/>
<line x1="295.0" y1="500.5" x2="295.0" y2="557.3" stroke="rgb(55,55,55)" stroke-width="1.2"/>
<line x1="295.0" y1="519.8" x2="295.0" y2="548" stroke="rgb(55,55,55)" stroke-width="2.6"/>
<line x1="277.0" y1="525.8" x2="313.0" y2="525.8" stroke="rgb(55,55,55)" stroke-width="3.0"/>
<circle cx="295.1" cy="536" r="8.8" fill="#fff" stroke="rgb(80,80,80)" stroke-width="1.0"/>
<path d="M361.2,411.8 L361.1,412.5 L361.1,413.1 L361.0,413.8 L360.9,414.5 L360.9,415.1 L360.8,415.8 L360.7,416.5 L360.7,417.1 L360.6,417.8 L360.6,418.5 L360.5,419.1 L360.5,419.8 L360.4,420.5 L360.4,421.1 L360.4,421.8 L360.3,422.5 L360.3,423.1 L360.3,423.8 L360.3,424.5 L360.2,425.1 L360.2,425.8 L360.2,426.5 L360.2,427.1 L360.2,427.8 L360.1,428.5 L360.1,429.1 L360.1,429.8 L360.1,430.5 L360.1,431.1 L360.1,431.8 L360.0,432.5 L360.0,433.1 L360.0,433.8 L360.0,434.5 L360.0,435.1 L360.0,435.8 L360.0,436.5 L360.0,437.1 L360.0,437.8 L360.0,438.5 L360.0,439.1 L360.0,439.8 L360.0,440.5 L360.0,441.1 L360.0,441.8 L360.0,442.5 L360.0,443.1 L360.0,443.8 L360.0,444.5 L360.0,445.1 L360.1,445.8 L360.1,446.5 L360.1,447.1 L360.2,447.8 L360.2,448.5 L360.2,449.1 L360.3,449.8 L360.3,450.5 L360.4,451.1 L360.4,451.8 L360.5,452.5 L360.5,453.1 L360.6,453.8 L360.6,454.5 L360.7,455.1 L360.7,455.8 L360.8,456.5 L360.9,457.1 L361.0,457.8 L361.1,458.5 L361.2,459.1 L361.4,459.8 L361.5,460.5 L361.6,461.1 L361.7,461.8 L361.9,462.5 L362.0,463.1 L362.1,463.8 L362.2,464.5 L362.4,465.1 L362.5,465.8 L362.6,466.5 L362.7,467.1 L362.9,467.8 L363.0,468.5 L363.1,469.1 L363.2,469.8 L363.4,470.5 L363.5,471.1 L363.6,471.8 L363.7,472.5 L363.8,473.1 L363.9,473.8 L364.0,474.5 L364.1,475.1 L364.2,475.8 L364.3,476.5 L364.4,477.1 L364.5,477.8 L364.6,478.5 L364.7,479.1 L364.8,479.8 L364.9,480.5 L365.1,481.1 L365.2,481.8 L365.3,482.5 L365.4,483.1 L365.5,483.8 L365.6,484.5 L365.7,485.1 L365.8,485.8 L365.9,486.5 L366.0,487.1 L366.1,487.8 L366.2,488.4 L366.3,489.1 L366.4,489.8 L366.5,490.4 L366.6,491.1 L366.7,491.8 L366.8,492.4 L366.9,493.1 L367.0,493.8 L367.1,494.4 L367.2,495.1 L367.3,495.8 L367.4,496.4 L367.5,497.1 L367.6,497.8 L367.7,498.4 L367.9,499.1 L368.0,499.8 L368.1,500.4 L368.2,501.1 L368.4,501.8 L368.5,502.4 L368.6,503.1 L368.8,503.8 L368.9,504.4 L369.1,505.1 L369.2,505.8 L369.4,506.4 L369.6,507.1 L369.8,507.8 L370.0,508.4 L370.2,509.1 L370.4,509.8 L370.6,510.4 L370.9,511.1 L371.2,511.8 L371.4,512.4 L371.7,513.1 L372.0,513.8 L372.2,514.4 L372.5,515.1 L372.8,515.8 L373.1,516.4 L373.3,517.1 L373.6,517.8 L373.9,518.4 L374.1,519.1 L374.3,519.8 L374.6,520.4 L374.8,521.1 L375.1,521.8 L375.4,522.4 L375.7,523.1 L375.9,523.8 L376.2,524.4 L376.5,525.1 L376.8,525.8 L377.1,526.4 L377.4,527.1 L377.6,527.8 L377.9,528.4 L378.1,529.1 L378.3,529.8 L378.5,530.4 L378.6,531.1 L378.8,531.8 L378.8,532.4 L378.9,533.1 L378.9,533.8 L378.9,534.4 L378.9,535.1 L378.9,535.8 L378.9,536.4 L378.8,537.1 L378.8,537.8 L378.8,538.4 L378.8,539.1 L378.7,539.8 L378.7,540.4 L378.7,541.1 L378.6,541.8 L378.6,542.4 L378.5,543.1 L378.5,543.8 L378.4,544.4 L378.4,545.1 L378.3,545.8 L378.3,546.4 L378.2,547.1 L378.1,547.8 L378.0,548.4 L377.8,549.1 L377.6,549.8 L377.4,550.4 L377.2,551.1 L376.9,551.8 L376.6,552.4 L376.2,553.1 L375.9,553.8 L375.5,554.4 L375.1,555.1 L374.7,555.8 L374.3,556.4 L373.8,557.1 L373.3,557.8 L372.9,558.4 L372.4,559.1 L371.9,559.8 L371.4,560.4 L370.9,561.1 L348.1,561.1 L347.6,560.4 L347.1,559.8 L346.6,559.1 L346.1,558.4 L345.7,557.8 L345.2,557.1 L344.7,556.4 L344.3,555.8 L343.9,555.1 L343.5,554.4 L343.1,553.8 L342.8,553.1 L342.4,552.4 L342.1,551.8 L341.8,551.1 L341.6,550.4 L341.4,549.8 L341.2,549.1 L341.0,548.4 L340.9,547.8 L340.8,547.1 L340.7,546.4 L340.7,545.8 L340.6,545.1 L340.6,544.4 L340.5,543.8 L340.5,543.1 L340.4,542.4 L340.4,541.8 L340.3,541.1 L340.3,540.4 L340.3,539.8 L340.2,539.1 L340.2,538.4 L340.2,537.8 L340.2,537.1 L340.1,536.4 L340.1,535.8 L340.1,535.1 L340.1,534.4 L340.1,533.8 L340.1,533.1 L340.2,532.4 L340.2,531.8 L340.4,531.1 L340.5,530.4 L340.7,529.8 L340.9,529.1 L341.1,528.4 L341.4,527.8 L341.6,527.1 L341.9,526.4 L342.2,525.8 L342.5,525.1 L342.8,524.4 L343.1,523.8 L343.3,523.1 L343.6,522.4 L343.9,521.8 L344.2,521.1 L344.4,520.4 L344.7,519.8 L344.9,519.1 L345.1,518.4 L345.4,517.8 L345.7,517.1 L345.9,516.4 L346.2,515.8 L346.5,515.1 L346.8,514.4 L347.0,513.8 L347.3,513.1 L347.6,512.4 L347.8,511.8 L348.1,511.1 L348.4,510.4 L348.6,509.8 L348.8,509.1 L349.0,508.4 L349.2,507.8 L349.4,507.1 L349.6,506.4 L349.8,505.8 L349.9,505.1 L350.1,504.4 L350.2,503.8 L350.4,503.1 L350.5,502.4 L350.6,501.8 L350.8,501.1 L350.9,500.4 L351.0,499.8 L351.1,499.1 L351.3,498.4 L351.4,497.8 L351.5,497.1 L351.6,496.4 L351.7,495.8 L351.8,495.1 L351.9,494.4 L352.0,493.8 L352.1,493.1 L352.2,492.4 L352.3,491.8 L352.4,491.1 L352.5,490.4 L352.6,489.8 L352.7,489.1 L352.8,488.4 L352.9,487.8 L353.0,487.1 L353.1,486.5 L353.2,485.8 L353.3,485.1 L353.4,484.5 L353.5,483.8 L353.6,483.1 L353.7,482.5 L353.8,481.8 L353.9,481.1 L354.1,480.5 L354.2,479.8 L354.3,479.1 L354.4,478.5 L354.5,477.8 L354.6,477.1 L354.7,476.5 L354.8,475.8 L354.9,475.1 L355.0,474.5 L355.1,473.8 L355.2,473.1 L355.3,472.5 L355.4,471.8 L355.5,471.1 L355.6,470.5 L355.8,469.8 L355.9,469.1 L356.0,468.5 L356.1,467.8 L356.3,467.1 L356.4,466.5 L356.5,465.8 L356.6,465.1 L356.8,464.5 L356.9,463.8 L357.0,463.1 L357.1,462.5 L357.3,461.8 L357.4,461.1 L357.5,460.5 L357.6,459.8 L357.8,459.1 L357.9,458.5 L358.0,457.8 L358.1,457.1 L358.2,456.5 L358.3,455.8 L358.3,455.1 L358.4,454.5 L358.4,453.8 L358.5,453.1 L358.5,452.5 L358.6,451.8 L358.6,451.1 L358.7,450.5 L358.7,449.8 L358.8,449.1 L358.8,448.5 L358.8,447.8 L358.9,447.1 L358.9,446.5 L358.9,445.8 L359.0,445.1 L359.0,444.5 L359.0,443.8 L359.0,443.1 L359.0,442.5 L359.0,441.8 L359.0,441.1 L359.0,440.5 L359.0,439.8 L359.0,439.1 L359.0,438.5 L359.0,437.8 L359.0,437.1 L359.0,436.5 L359.0,435.8 L359.0,435.1 L359.0,434.5 L359.0,433.8 L359.0,433.1 L359.0,432.5 L358.9,431.8 L358.9,431.1 L358.9,430.5 L358.9,429.8 L358.9,429.1 L358.9,428.5 L358.8,427.8 L358.8,427.1 L358.8,426.5 L358.8,425.8 L358.8,425.1 L358.7,424.5 L358.7,423.8 L358.7,423.1 L358.7,422.5 L358.6,421.8 L358.6,421.1 L358.6,420.5 L358.5,419.8 L358.5,419.1 L358.4,418.5 L358.4,417.8 L358.3,417.1 L358.3,416.5 L358.2,415.8 L358.1,415.1 L358.1,414.5 L358.0,413.8 L357.9,413.1 L357.9,412.5 L357.8,411.8 Z" fill="rgb(197,197,197)" stroke="rgb(92,92,92)" stroke-width="1.0" stroke-linejoin="round"/>
<circle cx="359.9" cy="411.4" r="5.0" fill="rgb(96,96,96)" fill-opacity="0.29"/>
<circle cx="360.1" cy="469.8" r="5.0" fill="rgb(96,96,96)" fill-opacity="0.29"/>
<circle cx="366.2" cy="483.2" r="5.0" fill="rgb(96,96,96)" fill-opacity="0.29"/>
<circle cx="359.5" cy="485.9" r="5.0" fill="rgb(96,96,96)" fill-opacity="0.29"/>
<circle cx="353.4" cy="510.8" r="5.0" fill="rgb(96,96,96)" fill-opacity="0.29"/>
<circle cx="368.2" cy="508.2" r="5.0" fill="rgb(96,96,96)" fill-opacity="0.29"/>
<circle cx="362.8" cy="515.5" r="5.0" fill="rgb(96,96,96)" fill-opacity="0.29"/>
<circle cx="344.7" cy="529.6" r="5.0" fill="rgb(96,96,96)" fill-opacity="0.29"/>
<circle cx="372.2" cy="531.6" r="5.0" fill="rgb(96,96,96)" fill-opacity="0.29"/>
<circle cx="341.4" cy="535" r="5.0" fill="rgb(96,96,96)" fill-opacity="0.29"/>
<circle cx="349.4" cy="541.7" r="5.0" fill="rgb(96,96,96)" fill-opacity="0.29"/>
<circle cx="364.2" cy="543" r="5.0" fill="rgb(96,96,96)" fill-opacity="0.29"/>
<circle cx="342" cy="547" r="5.0" fill="rgb(96,96,96)" fill-opacity="0.29"/>
<circle cx="374.9" cy="547.7" r="5.0" fill="rgb(96,96,96)" fill-opacity="0.29"/>
<circle cx="372.2" cy="551.7" r="5.0" fill="rgb(96,96,96)" fill-opacity="0.29"/>
<circle cx="353.4" cy="559.8" r="5.0" fill="rgb(96,96,96)" fill-opacity="0.29"/>
<line x1="359.5" y1="472.5" x2="359.5" y2="561.1" stroke="rgb(78,78,78)" stroke-width="1.2"/>
<line x1="359.5" y1="510" x2="359.5" y2="545" stroke="rgb(78,78,78)" stroke-width="2.6"/>
<line x1="343.5" y1="520.2" x2="375.5" y2="520.2" stroke="rgb(78,78,78)" stroke-width="3.0"/>
<circle cx="359.5" cy="531" r="8.8" fill="#fff" stroke="rgb(100,100,100)" stroke-width="1.0"/>
<path d="M424.9,458.1 L424.9,458.8 L424.9,459.4 L424.9,460.1 L424.9,460.7 L424.9,461.4 L424.9,462.1 L424.8,462.7 L424.8,463.4 L424.8,464.1 L424.8,464.7 L424.8,465.4 L424.8,466.0 L424.8,466.7 L424.8,467.4 L424.7,468.0 L424.7,468.7 L424.7,469.4 L424.7,470.0 L424.7,470.7 L424.7,471.3 L424.7,472.0 L424.7,472.7 L424.7,473.3 L424.7,474.0 L424.7,474.7 L424.6,475.3 L424.6,476.0 L424.6,476.6 L424.6,477.3 L424.6,478.0 L424.6,478.6 L424.6,479.3 L424.6,480.0 L424.6,480.6 L424.6,481.3 L424.6,481.9 L424.6,482.6 L424.6,483.3 L424.6,483.9 L424.6,484.6 L424.6,485.3 L424.6,485.9 L424.6,486.6 L424.6,487.2 L424.6,487.9 L424.6,488.6 L424.6,489.2 L424.6,489.9 L424.6,490.6 L424.6,491.2 L424.6,491.9 L424.7,492.5 L424.8,493.2 L424.8,493.9 L424.9,494.5 L425.0,495.2 L425.2,495.9 L425.3,496.5 L425.5,497.2 L425.6,497.8 L425.8,498.5 L426.0,499.2 L426.1,499.8 L426.3,500.5 L426.4,501.2 L426.6,501.8 L426.7,502.5 L426.8,503.1 L427.0,503.8 L427.1,504.5 L427.2,505.1 L427.4,505.8 L427.5,506.5 L427.6,507.1 L427.7,507.8 L427.9,508.4 L428.0,509.1 L428.1,509.8 L428.3,510.4 L428.4,511.1 L428.6,511.8 L428.8,512.4 L428.9,513.1 L429.1,513.7 L429.4,514.4 L429.6,515.1 L429.9,515.7 L430.3,516.4 L430.6,517.1 L431.0,517.7 L431.4,518.4 L431.9,519.0 L432.3,519.7 L432.8,520.4 L433.2,521.0 L433.7,521.7 L434.2,522.4 L434.6,523.0 L435.0,523.7 L435.5,524.3 L436.0,525.0 L436.6,525.7 L437.2,526.3 L437.7,527.0 L438.3,527.7 L438.8,528.3 L439.3,529.0 L439.8,529.6 L440.2,530.3 L440.5,531.0 L440.7,531.6 L440.9,532.3 L441.1,533.0 L441.2,533.6 L441.4,534.3 L441.5,534.9 L441.7,535.6 L441.8,536.3 L441.9,536.9 L442.0,537.6 L442.1,538.3 L442.2,538.9 L442.3,539.6 L442.4,540.2 L442.4,540.9 L442.5,541.6 L442.5,542.2 L442.5,542.9 L442.5,543.6 L442.5,544.2 L442.5,544.9 L442.5,545.5 L442.4,546.2 L442.3,546.9 L442.2,547.5 L442.1,548.2 L441.9,548.9 L441.8,549.5 L441.6,550.2 L441.4,550.8 L441.2,551.5 L441.0,552.2 L440.8,552.8 L440.6,553.5 L440.4,554.2 L440.2,554.8 L439.9,555.5 L439.7,556.1 L439.4,556.8 L439.0,557.5 L438.7,558.1 L438.2,558.8 L437.8,559.5 L437.3,560.1 L436.8,560.8 L436.3,561.4 L435.8,562.1 L411.2,562.1 L410.7,561.4 L410.2,560.8 L409.7,560.1 L409.2,559.5 L408.8,558.8 L408.3,558.1 L408.0,557.5 L407.6,556.8 L407.3,556.1 L407.1,555.5 L406.8,554.8 L406.6,554.2 L406.4,553.5 L406.2,552.8 L406.0,552.2 L405.8,551.5 L405.6,550.8 L405.4,550.2 L405.2,549.5 L405.1,548.9 L404.9,548.2 L404.8,547.5 L404.7,546.9 L404.6,546.2 L404.5,545.5 L404.5,544.9 L404.5,544.2 L404.5,543.6 L404.5,542.9 L404.5,542.2 L404.5,541.6 L404.6,540.9 L404.6,540.2 L404.7,539.6 L404.8,538.9 L404.9,538.3 L405.0,537.6 L405.1,536.9 L405.2,536.3 L405.3,535.6 L405.5,534.9 L405.6,534.3 L405.8,533.6 L405.9,533.0 L406.1,532.3 L406.3,531.6 L406.5,531.0 L406.8,530.3 L407.2,529.6 L407.7,529.0 L408.2,528.3 L408.7,527.7 L409.3,527.0 L409.8,526.3 L410.4,525.7 L411.0,525.0 L411.5,524.3 L412.0,523.7 L412.4,523.0 L412.8,522.4 L413.3,521.7 L413.8,521.0 L414.2,520.4 L414.7,519.7 L415.1,519.0 L415.6,518.4 L416.0,517.7 L416.4,517.1 L416.7,516.4 L417.1,515.7 L417.4,515.1 L417.6,514.4 L417.9,513.7 L418.1,513.1 L418.2,512.4 L418.4,511.8 L418.6,511.1 L418.7,510.4 L418.9,509.8 L419.0,509.1 L419.1,508.4 L419.3,507.8 L419.4,507.1 L419.5,506.5 L419.6,505.8 L419.8,505.1 L419.9,504.5 L420.0,503.8 L420.2,503.1 L420.3,502.5 L420.4,501.8 L420.6,501.2 L420.7,500.5 L420.9,499.8 L421.0,499.2 L421.2,498.5 L421.4,497.8 L421.5,497.2 L421.7,496.5 L421.8,495.9 L422.0,495.2 L422.1,494.5 L422.2,493.9 L422.2,493.2 L422.3,492.5 L422.4,491.9 L422.4,491.2 L422.4,490.6 L422.4,489.9 L422.4,489.2 L422.4,488.6 L422.4,487.9 L422.4,487.2 L422.4,486.6 L422.4,485.9 L422.4,485.3 L422.4,484.6 L422.4,483.9 L422.4,483.3 L422.4,482.6 L422.4,481.9 L422.4,481.3 L422.4,480.6 L422.4,480.0 L422.4,479.3 L422.4,478.6 L422.4,478.0 L422.4,477.3 L422.4,476.6 L422.4,476.0 L422.4,475.3 L422.3,474.7 L422.3,474.0 L422.3,473.3 L422.3,472.7 L422.3,472.0 L422.3,471.3 L422.3,470.7 L422.3,470.0 L422.3,469.4 L422.3,468.7 L422.3,468.0 L422.2,467.4 L422.2,466.7 L422.2,466.0 L422.2,465.4 L422.2,464.7 L422.2,464.1 L422.2,463.4 L422.2,462.7 L422.1,462.1 L422.1,461.4 L422.1,460.7 L422.1,460.1 L422.1,459.4 L422.1,458.8 L422.1,458.1 Z" fill="rgb(207,207,207)" stroke="rgb(112,112,112)" stroke-width="1.0" stroke-linejoin="round"/>
<circle cx="423.3" cy="457.5" r="5.0" fill="rgb(105,105,105)" fill-opacity="0.26"/>
<circle cx="417.9" cy="500.7" r="5.0" fill="rgb(105,105,105)" fill-opacity="0.26"/>
<circle cx="421.5" cy="521" r="5.0" fill="rgb(105,105,105)" fill-opacity="0.26"/>
<circle cx="408.9" cy="527" r="5.0" fill="rgb(105,105,105)" fill-opacity="0.26"/>
<circle cx="414.3" cy="529.3" r="5.0" fill="rgb(105,105,105)" fill-opacity="0.26"/>
<circle cx="431.6" cy="528.1" r="5.0" fill="rgb(105,105,105)" fill-opacity="0.26"/>
<circle cx="441.1" cy="529.3" r="5.0" fill="rgb(105,105,105)" fill-opacity="0.26"/>
<circle cx="413.1" cy="542.4" r="5.0" fill="rgb(105,105,105)" fill-opacity="0.26"/>
<circle cx="434.6" cy="540.1" r="5.0" fill="rgb(105,105,105)" fill-opacity="0.26"/>
<circle cx="439.3" cy="546" r="5.0" fill="rgb(105,105,105)" fill-opacity="0.26"/>
<circle cx="414.3" cy="553.2" r="5.0" fill="rgb(105,105,105)" fill-opacity="0.26"/>
<circle cx="428.6" cy="552" r="5.0" fill="rgb(105,105,105)" fill-opacity="0.26"/>
<circle cx="433.4" cy="556.7" r="5.0" fill="rgb(105,105,105)" fill-opacity="0.26"/>
<circle cx="423.8" cy="561.5" r="5.0" fill="rgb(105,105,105)" fill-opacity="0.26"/>
<circle cx="438.1" cy="561.5" r="5.0" fill="rgb(105,105,105)" fill-opacity="0.26"/>
<line x1="423.5" y1="501.9" x2="423.5" y2="562.1" stroke="rgb(110,110,110)" stroke-width="1.2"/>
<line x1="423.5" y1="532" x2="423.5" y2="545" stroke="rgb(110,110,110)" stroke-width="2.6"/>
<line x1="404.5" y1="534.3" x2="442.5" y2="534.3" stroke="rgb(110,110,110)" stroke-width="3.0"/>
<circle cx="423.6" cy="538.3" r="8.8" fill="#fff" stroke="rgb(115,115,115)" stroke-width="1.0"/>
<path d="M489.2,456.9 L489.1,457.6 L489.1,458.2 L489.1,458.9 L489.1,459.6 L489.0,460.2 L489.0,460.9 L489.0,461.6 L489.0,462.2 L489.0,462.9 L489.0,463.6 L489.0,464.2 L488.9,464.9 L488.9,465.6 L488.9,466.2 L488.9,466.9 L488.9,467.6 L488.9,468.2 L488.9,468.9 L488.9,469.6 L488.9,470.2 L488.9,470.9 L488.9,471.6 L488.9,472.2 L488.9,472.9 L488.9,473.6 L488.9,474.2 L488.9,474.9 L488.9,475.6 L488.9,476.2 L488.9,476.9 L488.9,477.6 L488.9,478.2 L488.9,478.9 L488.9,479.6 L488.9,480.2 L488.9,480.9 L488.9,481.6 L488.9,482.2 L488.9,482.9 L488.9,483.5 L488.9,484.2 L489.0,484.9 L489.0,485.5 L489.0,486.2 L489.0,486.9 L489.0,487.5 L489.0,488.2 L489.1,488.9 L489.1,489.5 L489.1,490.2 L489.1,490.9 L489.2,491.5 L489.3,492.2 L489.3,492.9 L489.4,493.5 L489.5,494.2 L489.7,494.9 L489.8,495.5 L489.9,496.2 L490.1,496.9 L490.2,497.5 L490.4,498.2 L490.6,498.9 L490.8,499.5 L490.9,500.2 L491.1,500.9 L491.3,501.5 L491.5,502.2 L491.7,502.9 L491.9,503.5 L492.1,504.2 L492.4,504.9 L492.6,505.5 L492.9,506.2 L493.2,506.9 L493.5,507.5 L493.8,508.2 L494.1,508.9 L494.4,509.5 L494.7,510.2 L495.0,510.9 L495.4,511.5 L495.7,512.2 L496.1,512.9 L496.4,513.5 L496.8,514.2 L497.3,514.9 L497.7,515.5 L498.1,516.2 L498.5,516.9 L499.0,517.5 L499.4,518.2 L499.8,518.9 L500.2,519.5 L500.6,520.2 L501.1,520.9 L501.6,521.5 L502.1,522.2 L502.6,522.9 L503.0,523.5 L503.5,524.2 L504.0,524.9 L504.4,525.5 L504.7,526.2 L505.1,526.9 L505.3,527.5 L505.5,528.2 L505.6,528.9 L505.7,529.5 L505.8,530.2 L505.9,530.9 L506.0,531.5 L506.1,532.2 L506.2,532.9 L506.2,533.5 L506.2,534.2 L506.2,534.9 L506.0,535.5 L505.9,536.2 L505.7,536.8 L505.4,537.5 L505.1,538.2 L504.8,538.8 L504.5,539.5 L504.1,540.2 L503.8,540.8 L503.4,541.5 L503.1,542.2 L502.8,542.8 L502.5,543.5 L502.3,544.2 L502.0,544.8 L501.8,545.5 L501.6,546.2 L501.3,546.8 L501.1,547.5 L500.8,548.2 L500.6,548.8 L500.4,549.5 L500.1,550.2 L499.9,550.8 L499.6,551.5 L499.4,552.2 L499.1,552.8 L498.8,553.5 L498.5,554.2 L498.3,554.8 L498.0,555.5 L497.7,556.2 L497.3,556.8 L497.0,557.5 L496.7,558.2 L496.4,558.8 L496.1,559.5 L495.7,560.2 L495.4,560.8 L495.1,561.5 L480.2,561.5 L479.8,560.8 L479.5,560.2 L479.1,559.5 L478.8,558.8 L478.5,558.2 L478.2,557.5 L477.9,556.8 L477.5,556.2 L477.2,555.5 L476.9,554.8 L476.7,554.2 L476.4,553.5 L476.1,552.8 L475.8,552.2 L475.6,551.5 L475.3,550.8 L475.1,550.2 L474.8,549.5 L474.6,548.8 L474.4,548.2 L474.1,547.5 L473.9,546.8 L473.6,546.2 L473.4,545.5 L473.2,544.8 L472.9,544.2 L472.7,543.5 L472.4,542.8 L472.1,542.2 L471.8,541.5 L471.4,540.8 L471.1,540.2 L470.7,539.5 L470.4,538.8 L470.1,538.2 L469.8,537.5 L469.5,536.8 L469.3,536.2 L469.2,535.5 L469.0,534.9 L469.0,534.2 L469.0,533.5 L469.0,532.9 L469.1,532.2 L469.2,531.5 L469.3,530.9 L469.4,530.2 L469.5,529.5 L469.6,528.9 L469.7,528.2 L469.9,527.5 L470.1,526.9 L470.5,526.2 L470.8,525.5 L471.2,524.9 L471.7,524.2 L472.2,523.5 L472.6,522.9 L473.1,522.2 L473.6,521.5 L474.1,520.9 L474.6,520.2 L475.0,519.5 L475.4,518.9 L475.8,518.2 L476.2,517.5 L476.7,516.9 L477.1,516.2 L477.5,515.5 L477.9,514.9 L478.4,514.2 L478.8,513.5 L479.1,512.9 L479.5,512.2 L479.8,511.5 L480.2,510.9 L480.5,510.2 L480.8,509.5 L481.1,508.9 L481.4,508.2 L481.7,507.5 L482.0,506.9 L482.3,506.2 L482.6,505.5 L482.8,504.9 L483.1,504.2 L483.3,503.5 L483.5,502.9 L483.7,502.2 L483.9,501.5 L484.1,500.9 L484.3,500.2 L484.4,499.5 L484.6,498.9 L484.8,498.2 L485.0,497.5 L485.1,496.9 L485.3,496.2 L485.4,495.5 L485.5,494.9 L485.7,494.2 L485.8,493.5 L485.9,492.9 L485.9,492.2 L486.0,491.5 L486.1,490.9 L486.1,490.2 L486.1,489.5 L486.1,488.9 L486.2,488.2 L486.2,487.5 L486.2,486.9 L486.2,486.2 L486.2,485.5 L486.2,484.9 L486.3,484.2 L486.3,483.5 L486.3,482.9 L486.3,482.2 L486.3,481.6 L486.3,480.9 L486.3,480.2 L486.3,479.6 L486.3,478.9 L486.3,478.2 L486.3,477.6 L486.3,476.9 L486.3,476.2 L486.3,475.6 L486.3,474.9 L486.3,474.2 L486.3,473.6 L486.3,472.9 L486.3,472.2 L486.3,471.6 L486.3,470.9 L486.3,470.2 L486.3,469.6 L486.3,468.9 L486.3,468.2 L486.3,467.6 L486.3,466.9 L486.3,466.2 L486.3,465.6 L486.3,464.9 L486.2,464.2 L486.2,463.6 L486.2,462.9 L486.2,462.2 L486.2,461.6 L486.2,460.9 L486.2,460.2 L486.1,459.6 L486.1,458.9 L486.1,458.2 L486.1,457.6 L486.1,456.9 Z" fill="rgb(214,214,214)" stroke="rgb(135,135,135)" stroke-width="1.0" stroke-linejoin="round"/>
<circle cx="487.4" cy="456.3" r="5.0" fill="rgb(120,120,120)" fill-opacity="0.24"/>
<circle cx="483.3" cy="496" r="5.0" fill="rgb(120,120,120)" fill-opacity="0.24"/>
<circle cx="490.4" cy="512.6" r="5.0" fill="rgb(120,120,120)" fill-opacity="0.24"/>
<circle cx="485.6" cy="515.6" r="5.0" fill="rgb(120,120,120)" fill-opacity="0.24"/>
<circle cx="480.9" cy="523.4" r="5.0" fill="rgb(120,120,120)" fill-opacity="0.24"/>
<circle cx="474.9" cy="524.6" r="5.0" fill="rgb(120,120,120)" fill-opacity="0.24"/>
<circle cx="506.5" cy="527" r="5.0" fill="rgb(120,120,120)" fill-opacity="0.24"/>
<circle cx="502.3" cy="536.5" r="5.0" fill="rgb(120,120,120)" fill-opacity="0.24"/>
<circle cx="506.5" cy="537.7" r="5.0" fill="rgb(120,120,120)" fill-opacity="0.24"/>
<circle cx="479.7" cy="541.3" r="5.0" fill="rgb(120,120,120)" fill-opacity="0.24"/>
<circle cx="483.9" cy="546" r="5.0" fill="rgb(120,120,120)" fill-opacity="0.24"/>
<circle cx="489.2" cy="554.4" r="5.0" fill="rgb(120,120,120)" fill-opacity="0.24"/>
<circle cx="490.4" cy="557.3" r="5.0" fill="rgb(120,120,120)" fill-opacity="0.24"/>
<circle cx="490.4" cy="563.9" r="5.0" fill="rgb(120,120,120)" fill-opacity="0.24"/>
<line x1="487.6" y1="493" x2="487.6" y2="561.5" stroke="rgb(148,148,148)" stroke-width="1.2"/>
<line x1="487.6" y1="510" x2="487.6" y2="548" stroke="rgb(148,148,148)" stroke-width="2.6"/>
<line x1="469.0" y1="529.6" x2="506.20000000000005" y2="529.6" stroke="rgb(148,148,148)" stroke-width="3.0"/>
<circle cx="487.4" cy="532.9" r="8.8" fill="#fff" stroke="rgb(135,135,135)" stroke-width="1.0"/>
<path d="M554.0,465.7 L553.9,466.4 L553.9,467.0 L553.8,467.7 L553.8,468.4 L553.7,469.0 L553.7,469.7 L553.6,470.3 L553.6,471.0 L553.6,471.7 L553.5,472.3 L553.5,473.0 L553.5,473.7 L553.4,474.3 L553.4,475.0 L553.4,475.7 L553.3,476.3 L553.3,477.0 L553.3,477.6 L553.2,478.3 L553.2,479.0 L553.2,479.6 L553.1,480.3 L553.1,481.0 L553.1,481.6 L553.1,482.3 L553.0,482.9 L553.0,483.6 L553.0,484.3 L553.0,484.9 L552.9,485.6 L552.9,486.3 L552.9,486.9 L552.9,487.6 L552.9,488.3 L552.9,488.9 L552.9,489.6 L552.9,490.2 L552.9,490.9 L552.9,491.6 L553.0,492.2 L553.2,492.9 L553.3,493.6 L553.5,494.2 L553.6,494.9 L553.9,495.6 L554.1,496.2 L554.4,496.9 L554.7,497.5 L555.0,498.2 L555.3,498.9 L555.7,499.5 L556.0,500.2 L556.3,500.9 L556.5,501.5 L556.8,502.2 L557.0,502.9 L557.2,503.5 L557.5,504.2 L557.8,504.8 L558.0,505.5 L558.3,506.2 L558.6,506.8 L558.9,507.5 L559.2,508.2 L559.5,508.8 L559.9,509.5 L560.2,510.1 L560.5,510.8 L560.8,511.5 L561.1,512.1 L561.5,512.8 L561.8,513.5 L562.1,514.1 L562.4,514.8 L562.7,515.5 L563.0,516.1 L563.4,516.8 L563.7,517.4 L564.0,518.1 L564.3,518.8 L564.7,519.4 L565.0,520.1 L565.4,520.8 L565.7,521.4 L566.0,522.1 L566.4,522.8 L566.7,523.4 L567.0,524.1 L567.3,524.7 L567.6,525.4 L567.9,526.1 L568.2,526.7 L568.4,527.4 L568.7,528.1 L568.9,528.7 L569.2,529.4 L569.4,530.0 L569.7,530.7 L570.0,531.4 L570.2,532.0 L570.5,532.7 L570.7,533.4 L570.9,534.0 L571.1,534.7 L571.3,535.4 L571.4,536.0 L571.6,536.7 L571.6,537.3 L571.6,538.0 L571.6,538.7 L571.5,539.3 L571.4,540.0 L571.2,540.7 L571.0,541.3 L570.7,542.0 L570.4,542.7 L570.1,543.3 L569.8,544.0 L569.5,544.6 L569.2,545.3 L568.8,546.0 L568.5,546.6 L568.2,547.3 L567.9,548.0 L567.6,548.6 L567.2,549.3 L566.9,550.0 L566.5,550.6 L566.2,551.3 L565.8,551.9 L565.4,552.6 L565.0,553.3 L564.6,553.9 L564.2,554.6 L563.8,555.3 L563.4,555.9 L563.0,556.6 L562.6,557.2 L562.1,557.9 L561.6,558.6 L561.0,559.2 L560.5,559.9 L560.0,560.6 L559.4,561.2 L559.0,561.9 L558.6,562.6 L558.3,563.2 L558.0,563.9 L557.8,564.5 L557.6,565.2 L557.5,565.9 L557.3,566.5 L557.2,567.2 L547.2,567.2 L547.1,566.5 L546.9,565.9 L546.8,565.2 L546.6,564.5 L546.4,563.9 L546.1,563.2 L545.8,562.6 L545.4,561.9 L545.0,561.2 L544.4,560.6 L543.9,559.9 L543.4,559.2 L542.8,558.6 L542.3,557.9 L541.8,557.2 L541.4,556.6 L541.0,555.9 L540.6,555.3 L540.2,554.6 L539.8,553.9 L539.4,553.3 L539.0,552.6 L538.6,551.9 L538.2,551.3 L537.9,550.6 L537.5,550.0 L537.2,549.3 L536.8,548.6 L536.5,548.0 L536.2,547.3 L535.9,546.6 L535.6,546.0 L535.2,545.3 L534.9,544.6 L534.6,544.0 L534.3,543.3 L534.0,542.7 L533.7,542.0 L533.4,541.3 L533.2,540.7 L533.0,540.0 L532.9,539.3 L532.8,538.7 L532.8,538.0 L532.8,537.3 L532.8,536.7 L533.0,536.0 L533.1,535.4 L533.3,534.7 L533.5,534.0 L533.7,533.4 L533.9,532.7 L534.2,532.0 L534.4,531.4 L534.7,530.7 L535.0,530.0 L535.2,529.4 L535.5,528.7 L535.7,528.1 L536.0,527.4 L536.2,526.7 L536.5,526.1 L536.8,525.4 L537.1,524.7 L537.4,524.1 L537.7,523.4 L538.0,522.8 L538.4,522.1 L538.7,521.4 L539.0,520.8 L539.4,520.1 L539.7,519.4 L540.1,518.8 L540.4,518.1 L540.7,517.4 L541.0,516.8 L541.4,516.1 L541.7,515.5 L542.0,514.8 L542.3,514.1 L542.6,513.5 L542.9,512.8 L543.3,512.1 L543.6,511.5 L543.9,510.8 L544.2,510.1 L544.5,509.5 L544.9,508.8 L545.2,508.2 L545.5,507.5 L545.8,506.8 L546.1,506.2 L546.4,505.5 L546.6,504.8 L546.9,504.2 L547.2,503.5 L547.4,502.9 L547.6,502.2 L547.9,501.5 L548.1,500.9 L548.4,500.2 L548.7,499.5 L549.1,498.9 L549.4,498.2 L549.7,497.5 L550.0,496.9 L550.3,496.2 L550.5,495.6 L550.8,494.9 L550.9,494.2 L551.1,493.6 L551.2,492.9 L551.4,492.2 L551.5,491.6 L551.5,490.9 L551.5,490.2 L551.5,489.6 L551.5,488.9 L551.5,488.3 L551.5,487.6 L551.5,486.9 L551.5,486.3 L551.5,485.6 L551.4,484.9 L551.4,484.3 L551.4,483.6 L551.4,482.9 L551.3,482.3 L551.3,481.6 L551.3,481.0 L551.3,480.3 L551.2,479.6 L551.2,479.0 L551.2,478.3 L551.1,477.6 L551.1,477.0 L551.1,476.3 L551.0,475.7 L551.0,475.0 L551.0,474.3 L550.9,473.7 L550.9,473.0 L550.9,472.3 L550.8,471.7 L550.8,471.0 L550.8,470.3 L550.7,469.7 L550.7,469.0 L550.6,468.4 L550.6,467.7 L550.5,467.0 L550.5,466.4 L550.4,465.7 Z" fill="rgb(222,222,222)" stroke="rgb(158,158,158)" stroke-width="1.0" stroke-linejoin="round"/>
<circle cx="552.2" cy="465.3" r="5.0" fill="rgb(138,138,138)" fill-opacity="0.21"/>
<circle cx="551.4" cy="512.8" r="5.0" fill="rgb(138,138,138)" fill-opacity="0.21"/>
<circle cx="549.5" cy="515.3" r="5.0" fill="rgb(138,138,138)" fill-opacity="0.21"/>
<circle cx="562.8" cy="524.2" r="5.0" fill="rgb(138,138,138)" fill-opacity="0.21"/>
<circle cx="543.2" cy="522.9" r="5.0" fill="rgb(138,138,138)" fill-opacity="0.21"/>
<circle cx="534.3" cy="528" r="5.0" fill="rgb(138,138,138)" fill-opacity="0.21"/>
<circle cx="535" cy="540.6" r="5.0" fill="rgb(138,138,138)" fill-opacity="0.21"/>
<circle cx="533.1" cy="543.2" r="5.0" fill="rgb(138,138,138)" fill-opacity="0.21"/>
<circle cx="543.2" cy="548.2" r="5.0" fill="rgb(138,138,138)" fill-opacity="0.21"/>
<circle cx="557.1" cy="549.5" r="5.0" fill="rgb(138,138,138)" fill-opacity="0.21"/>
<circle cx="563.4" cy="543.2" r="5.0" fill="rgb(138,138,138)" fill-opacity="0.21"/>
<circle cx="555.2" cy="567.2" r="5.0" fill="rgb(138,138,138)" fill-opacity="0.21"/>
<line x1="552.2" y1="509" x2="552.2" y2="567.2" stroke="rgb(168,168,168)" stroke-width="1.2"/>
<line x1="552.2" y1="521.6" x2="552.2" y2="552" stroke="rgb(168,168,168)" stroke-width="2.6"/>
<line x1="533.2" y1="533.0" x2="571.2" y2="533.0" stroke="rgb(168,168,168)" stroke-width="3.0"/>
<circle cx="552.1" cy="538.1" r="8.8" fill="#fff" stroke="rgb(158,158,158)" stroke-width="1.0"/>
<path d="M619.8,488.3 L619.9,489.0 L620.0,489.6 L620.1,490.3 L620.2,490.9 L620.4,491.6 L620.5,492.3 L620.6,492.9 L620.7,493.6 L620.9,494.2 L621.0,494.9 L621.1,495.6 L621.3,496.2 L621.4,496.9 L621.6,497.6 L621.7,498.2 L621.9,498.9 L622.1,499.5 L622.2,500.2 L622.4,500.9 L622.6,501.5 L622.8,502.2 L623.0,502.8 L623.2,503.5 L623.4,504.2 L623.6,504.8 L623.9,505.5 L624.1,506.1 L624.3,506.8 L624.6,507.5 L624.8,508.1 L625.1,508.8 L625.3,509.5 L625.6,510.1 L625.9,510.8 L626.1,511.4 L626.4,512.1 L626.6,512.8 L626.9,513.4 L627.1,514.1 L627.4,514.7 L627.6,515.4 L627.9,516.1 L628.2,516.7 L628.4,517.4 L628.7,518.0 L629.0,518.7 L629.3,519.4 L629.5,520.0 L629.8,520.7 L630.1,521.3 L630.4,522.0 L630.6,522.7 L630.9,523.3 L631.2,524.0 L631.4,524.7 L631.7,525.3 L631.9,526.0 L632.2,526.6 L632.4,527.3 L632.6,528.0 L632.9,528.6 L633.2,529.3 L633.5,529.9 L633.7,530.6 L634.0,531.3 L634.3,531.9 L634.5,532.6 L634.8,533.2 L635.0,533.9 L635.2,534.6 L635.3,535.2 L635.5,535.9 L635.5,536.5 L635.6,537.2 L635.6,537.9 L635.6,538.5 L635.5,539.2 L635.4,539.9 L635.3,540.5 L635.2,541.2 L635.1,541.8 L634.9,542.5 L634.7,543.2 L634.6,543.8 L634.4,544.5 L634.2,545.1 L634.0,545.8 L633.8,546.5 L633.6,547.1 L633.3,547.8 L633.1,548.4 L632.8,549.1 L632.6,549.8 L632.3,550.4 L631.9,551.1 L631.6,551.8 L631.3,552.4 L630.9,553.1 L630.5,553.7 L630.1,554.4 L629.7,555.1 L629.2,555.7 L628.8,556.4 L628.4,557.0 L627.9,557.7 L605.1,557.7 L604.6,557.0 L604.2,556.4 L603.8,555.7 L603.3,555.1 L602.9,554.4 L602.5,553.7 L602.1,553.1 L601.7,552.4 L601.4,551.8 L601.1,551.1 L600.7,550.4 L600.4,549.8 L600.2,549.1 L599.9,548.4 L599.7,547.8 L599.4,547.1 L599.2,546.5 L599.0,545.8 L598.8,545.1 L598.6,544.5 L598.4,543.8 L598.3,543.2 L598.1,542.5 L597.9,541.8 L597.8,541.2 L597.7,540.5 L597.6,539.9 L597.5,539.2 L597.4,538.5 L597.4,537.9 L597.4,537.2 L597.5,536.5 L597.5,535.9 L597.7,535.2 L597.8,534.6 L598.0,533.9 L598.2,533.2 L598.5,532.6 L598.7,531.9 L599.0,531.3 L599.3,530.6 L599.5,529.9 L599.8,529.3 L600.1,528.6 L600.4,528.0 L600.6,527.3 L600.8,526.6 L601.1,526.0 L601.3,525.3 L601.6,524.7 L601.8,524.0 L602.1,523.3 L602.4,522.7 L602.6,522.0 L602.9,521.3 L603.2,520.7 L603.5,520.0 L603.7,519.4 L604.0,518.7 L604.3,518.0 L604.6,517.4 L604.8,516.7 L605.1,516.1 L605.4,515.4 L605.6,514.7 L605.9,514.1 L606.1,513.4 L606.4,512.8 L606.6,512.1 L606.9,511.4 L607.1,510.8 L607.4,510.1 L607.7,509.5 L607.9,508.8 L608.2,508.1 L608.4,507.5 L608.7,506.8 L608.9,506.1 L609.1,505.5 L609.4,504.8 L609.6,504.2 L609.8,503.5 L610.0,502.8 L610.2,502.2 L610.4,501.5 L610.6,500.9 L610.8,500.2 L610.9,499.5 L611.1,498.9 L611.3,498.2 L611.4,497.6 L611.6,496.9 L611.7,496.2 L611.9,495.6 L612.0,494.9 L612.1,494.2 L612.3,493.6 L612.4,492.9 L612.5,492.3 L612.6,491.6 L612.8,490.9 L612.9,490.3 L613.0,489.6 L613.1,489.0 L613.2,488.3 Z" fill="rgb(230,230,230)" stroke="rgb(180,180,180)" stroke-width="1.0" stroke-linejoin="round"/>
<circle cx="616.1" cy="485.4" r="5.0" fill="rgb(158,158,158)" fill-opacity="0.19"/>
<circle cx="604.7" cy="512.2" r="5.0" fill="rgb(158,158,158)" fill-opacity="0.19"/>
<circle cx="609.4" cy="513.5" r="5.0" fill="rgb(158,158,158)" fill-opacity="0.19"/>
<circle cx="620.8" cy="505.5" r="5.0" fill="rgb(158,158,158)" fill-opacity="0.19"/>
<circle cx="610.8" cy="522.9" r="5.0" fill="rgb(158,158,158)" fill-opacity="0.19"/>
<circle cx="624.2" cy="520.2" r="5.0" fill="rgb(158,158,158)" fill-opacity="0.19"/>
<circle cx="628.9" cy="516.2" r="5.0" fill="rgb(158,158,158)" fill-opacity="0.19"/>
<circle cx="602.7" cy="539" r="5.0" fill="rgb(158,158,158)" fill-opacity="0.19"/>
<circle cx="630.9" cy="536.3" r="5.0" fill="rgb(158,158,158)" fill-opacity="0.19"/>
<circle cx="609.4" cy="551" r="5.0" fill="rgb(158,158,158)" fill-opacity="0.19"/>
<circle cx="621.5" cy="549.7" r="5.0" fill="rgb(158,158,158)" fill-opacity="0.19"/>
<circle cx="606.7" cy="557.7" r="5.0" fill="rgb(158,158,158)" fill-opacity="0.19"/>
<line x1="616.5" y1="488.3" x2="616.5" y2="557.7" stroke="rgb(188,188,188)" stroke-width="1.2"/>
<line x1="616.5" y1="515" x2="616.5" y2="550" stroke="rgb(188,188,188)" stroke-width="2.6"/>
<line x1="597.5" y1="530.7" x2="635.5" y2="530.7" stroke="rgb(188,188,188)" stroke-width="3.0"/>
<circle cx="616.8" cy="537.6" r="8.8" fill="#fff" stroke="rgb(180,180,180)" stroke-width="1.0"/>
<path d="M686.4,492.4 L686.8,493.1 L687.2,493.7 L687.7,494.4 L688.1,495.1 L688.5,495.7 L688.9,496.4 L689.3,497.1 L689.7,497.7 L690.1,498.4 L690.5,499.1 L690.9,499.7 L691.3,500.4 L691.6,501.1 L692.0,501.7 L692.3,502.4 L692.6,503.1 L693.0,503.7 L693.3,504.4 L693.6,505.1 L693.9,505.7 L694.2,506.4 L694.5,507.1 L694.7,507.7 L695.0,508.4 L695.2,509.1 L695.4,509.7 L695.7,510.4 L695.9,511.1 L696.1,511.7 L696.4,512.4 L696.6,513.1 L696.8,513.7 L697.1,514.4 L697.3,515.1 L697.5,515.7 L697.7,516.4 L697.9,517.0 L698.1,517.7 L698.3,518.4 L698.5,519.0 L698.7,519.7 L698.8,520.4 L699.0,521.0 L699.1,521.7 L699.2,522.4 L699.3,523.0 L699.4,523.7 L699.4,524.4 L699.5,525.0 L699.5,525.7 L699.5,526.4 L699.5,527.0 L699.5,527.7 L699.5,528.4 L699.4,529.0 L699.4,529.7 L699.3,530.4 L699.3,531.0 L699.2,531.7 L699.2,532.4 L699.1,533.0 L699.0,533.7 L699.0,534.4 L698.9,535.0 L698.8,535.7 L698.7,536.4 L698.6,537.0 L698.5,537.7 L698.4,538.4 L698.3,539.0 L698.2,539.7 L698.1,540.4 L698.0,541.0 L697.9,541.7 L697.8,542.4 L697.7,543.0 L697.6,543.7 L697.4,544.4 L697.2,545.0 L697.1,545.7 L696.9,546.4 L696.6,547.0 L696.4,547.7 L696.2,548.4 L695.9,549.0 L695.7,549.7 L695.4,550.4 L695.2,551.0 L694.9,551.7 L694.6,552.4 L694.4,553.0 L694.1,553.7 L693.8,554.4 L693.5,555.0 L693.3,555.7 L693.0,556.4 L692.8,557.0 L692.5,557.7 L692.3,558.4 L692.0,559.0 L691.8,559.7 L691.6,560.4 L691.3,561.0 L691.1,561.7 L690.8,562.3 L690.6,563.0 L690.4,563.7 L690.1,564.3 L689.9,565.0 L689.7,565.7 L689.4,566.3 L689.2,567.0 L688.9,567.7 L688.7,568.3 L688.5,569.0 L688.2,569.7 L688.0,570.3 L687.8,571.0 L687.5,571.7 L687.3,572.3 L687.1,573.0 L686.8,573.7 L686.6,574.3 L686.4,575.0 L686.1,575.7 L685.9,576.3 L685.7,577.0 L685.5,577.7 L685.2,578.3 L685.0,579.0 L684.8,579.7 L684.6,580.3 L684.4,581.0 L684.1,581.7 L683.9,582.3 L683.6,583.0 L683.3,583.7 L683.1,584.3 L682.8,585.0 L677.6,585.0 L677.3,584.3 L677.1,583.7 L676.8,583.0 L676.5,582.3 L676.3,581.7 L676.0,581.0 L675.8,580.3 L675.6,579.7 L675.4,579.0 L675.2,578.3 L674.9,577.7 L674.7,577.0 L674.5,576.3 L674.3,575.7 L674.0,575.0 L673.8,574.3 L673.6,573.7 L673.3,573.0 L673.1,572.3 L672.9,571.7 L672.6,571.0 L672.4,570.3 L672.2,569.7 L671.9,569.0 L671.7,568.3 L671.5,567.7 L671.2,567.0 L671.0,566.3 L670.7,565.7 L670.5,565.0 L670.3,564.3 L670.0,563.7 L669.8,563.0 L669.6,562.3 L669.3,561.7 L669.1,561.0 L668.8,560.4 L668.6,559.7 L668.4,559.0 L668.1,558.4 L667.9,557.7 L667.6,557.0 L667.4,556.4 L667.1,555.7 L666.9,555.0 L666.6,554.4 L666.3,553.7 L666.0,553.0 L665.8,552.4 L665.5,551.7 L665.2,551.0 L665.0,550.4 L664.7,549.7 L664.5,549.0 L664.2,548.4 L664.0,547.7 L663.8,547.0 L663.5,546.4 L663.3,545.7 L663.2,545.0 L663.0,544.4 L662.8,543.7 L662.7,543.0 L662.6,542.4 L662.5,541.7 L662.4,541.0 L662.3,540.4 L662.2,539.7 L662.1,539.0 L662.0,538.4 L661.9,537.7 L661.8,537.0 L661.7,536.4 L661.6,535.7 L661.5,535.0 L661.4,534.4 L661.4,533.7 L661.3,533.0 L661.2,532.4 L661.2,531.7 L661.1,531.0 L661.1,530.4 L661.0,529.7 L661.0,529.0 L660.9,528.4 L660.9,527.7 L660.9,527.0 L660.9,526.4 L660.9,525.7 L660.9,525.0 L661.0,524.4 L661.0,523.7 L661.1,523.0 L661.2,522.4 L661.3,521.7 L661.4,521.0 L661.6,520.4 L661.7,519.7 L661.9,519.0 L662.1,518.4 L662.3,517.7 L662.5,517.0 L662.7,516.4 L662.9,515.7 L663.1,515.1 L663.3,514.4 L663.6,513.7 L663.8,513.1 L664.0,512.4 L664.3,511.7 L664.5,511.1 L664.7,510.4 L665.0,509.7 L665.2,509.1 L665.4,508.4 L665.7,507.7 L665.9,507.1 L666.2,506.4 L666.5,505.7 L666.8,505.1 L667.1,504.4 L667.4,503.7 L667.8,503.1 L668.1,502.4 L668.4,501.7 L668.8,501.1 L669.1,500.4 L669.5,499.7 L669.9,499.1 L670.3,498.4 L670.7,497.7 L671.1,497.1 L671.5,496.4 L671.9,495.7 L672.3,495.1 L672.7,494.4 L673.2,493.7 L673.6,493.1 L674.1,492.4 Z" fill="rgb(239,239,239)" stroke="rgb(200,200,200)" stroke-width="1.0" stroke-linejoin="round"/>
<circle cx="674" cy="489.9" r="5.0" fill="rgb(180,180,180)" fill-opacity="0.17"/>
<circle cx="686" cy="491" r="5.0" fill="rgb(180,180,180)" fill-opacity="0.17"/>
<circle cx="695.3" cy="508" r="5.0" fill="rgb(180,180,180)" fill-opacity="0.17"/>
<circle cx="675.7" cy="513.7" r="5.0" fill="rgb(180,180,180)" fill-opacity="0.17"/>
<circle cx="688.8" cy="511.2" r="5.0" fill="rgb(180,180,180)" fill-opacity="0.17"/>
<circle cx="693.7" cy="526" r="5.0" fill="rgb(180,180,180)" fill-opacity="0.17"/>
<circle cx="669.1" cy="542.4" r="5.0" fill="rgb(180,180,180)" fill-opacity="0.17"/>
<circle cx="677.3" cy="550.6" r="5.0" fill="rgb(180,180,180)" fill-opacity="0.17"/>
<circle cx="688.8" cy="553.9" r="5.0" fill="rgb(180,180,180)" fill-opacity="0.17"/>
<circle cx="680.6" cy="583.4" r="5.0" fill="rgb(180,180,180)" fill-opacity="0.17"/>
<circle cx="672" cy="530" r="5.0" fill="rgb(180,180,180)" fill-opacity="0.17"/>
<line x1="680.2" y1="492.4" x2="680.2" y2="585" stroke="rgb(205,205,205)" stroke-width="1.2"/>
<line x1="680.2" y1="512" x2="680.2" y2="552" stroke="rgb(205,205,205)" stroke-width="2.6"/>
<line x1="661.2" y1="533.4" x2="699.2" y2="533.4" stroke="rgb(205,205,205)" stroke-width="3.0"/>
<circle cx="680.6" cy="528.4" r="8.8" fill="#fff" stroke="rgb(200,200,200)" stroke-width="1.0"/>
<polyline points="166.4,512.1 230.8,518.2 295.0,525.8 359.5,520.2 423.5,534.3 487.6,529.6 552.2,533.0 616.5,530.7 680.2,533.4" fill="none" stroke="#0c28f0" stroke-width="3.3" stroke-linejoin="round"/>
<line x1="102.1" y1="563.4" x2="741.5" y2="563.4" stroke="#b3b3b3" stroke-width="2.6" stroke-dasharray="2.6,3.06"/>
<text x="742.7" y="577.4" font-size="11.4" font-weight="bold" text-anchor="end" fill="#a8a8a8" >no modulation</text>
<line x1="167.90" y1="396.05" x2="167.90" y2="389.80" stroke="#000" stroke-width="2.6" stroke-linecap="butt"/>
<line x1="167.90" y1="396.05" x2="173.84" y2="394.12" stroke="#000" stroke-width="2.6" stroke-linecap="butt"/>
<line x1="167.90" y1="396.05" x2="171.57" y2="401.11" stroke="#000" stroke-width="2.6" stroke-linecap="butt"/>
<line x1="167.90" y1="396.05" x2="164.23" y2="401.11" stroke="#000" stroke-width="2.6" stroke-linecap="butt"/>
<line x1="167.90" y1="396.05" x2="161.96" y2="394.12" stroke="#000" stroke-width="2.6" stroke-linecap="butt"/>
<circle cx="167.90" cy="396.05" r="1.95" fill="#000"/>
<line x1="232.00" y1="415.25" x2="232.00" y2="409.00" stroke="#000" stroke-width="2.6" stroke-linecap="butt"/>
<line x1="232.00" y1="415.25" x2="237.94" y2="413.32" stroke="#000" stroke-width="2.6" stroke-linecap="butt"/>
<line x1="232.00" y1="415.25" x2="235.67" y2="420.31" stroke="#000" stroke-width="2.6" stroke-linecap="butt"/>
<line x1="232.00" y1="415.25" x2="228.33" y2="420.31" stroke="#000" stroke-width="2.6" stroke-linecap="butt"/>
<line x1="232.00" y1="415.25" x2="226.06" y2="413.32" stroke="#000" stroke-width="2.6" stroke-linecap="butt"/>
<circle cx="232.00" cy="415.25" r="1.95" fill="#000"/>
<line x1="297.05" y1="417.35" x2="297.05" y2="411.10" stroke="#000" stroke-width="2.6" stroke-linecap="butt"/>
<line x1="297.05" y1="417.35" x2="302.99" y2="415.42" stroke="#000" stroke-width="2.6" stroke-linecap="butt"/>
<line x1="297.05" y1="417.35" x2="300.72" y2="422.41" stroke="#000" stroke-width="2.6" stroke-linecap="butt"/>
<line x1="297.05" y1="417.35" x2="293.38" y2="422.41" stroke="#000" stroke-width="2.6" stroke-linecap="butt"/>
<line x1="297.05" y1="417.35" x2="291.11" y2="415.42" stroke="#000" stroke-width="2.6" stroke-linecap="butt"/>
<circle cx="297.05" cy="417.35" r="1.95" fill="#000"/>
<line x1="360.55" y1="395.25" x2="360.55" y2="389.00" stroke="#000" stroke-width="2.6" stroke-linecap="butt"/>
<line x1="360.55" y1="395.25" x2="366.49" y2="393.32" stroke="#000" stroke-width="2.6" stroke-linecap="butt"/>
<line x1="360.55" y1="395.25" x2="364.22" y2="400.31" stroke="#000" stroke-width="2.6" stroke-linecap="butt"/>
<line x1="360.55" y1="395.25" x2="356.88" y2="400.31" stroke="#000" stroke-width="2.6" stroke-linecap="butt"/>
<line x1="360.55" y1="395.25" x2="354.61" y2="393.32" stroke="#000" stroke-width="2.6" stroke-linecap="butt"/>
<circle cx="360.55" cy="395.25" r="1.95" fill="#000"/>
<line x1="424.60" y1="440.00" x2="424.60" y2="433.75" stroke="#000" stroke-width="2.6" stroke-linecap="butt"/>
<line x1="424.60" y1="440.00" x2="430.54" y2="438.07" stroke="#000" stroke-width="2.6" stroke-linecap="butt"/>
<line x1="424.60" y1="440.00" x2="428.27" y2="445.06" stroke="#000" stroke-width="2.6" stroke-linecap="butt"/>
<line x1="424.60" y1="440.00" x2="420.93" y2="445.06" stroke="#000" stroke-width="2.6" stroke-linecap="butt"/>
<line x1="424.60" y1="440.00" x2="418.66" y2="438.07" stroke="#000" stroke-width="2.6" stroke-linecap="butt"/>
<circle cx="424.60" cy="440.00" r="1.95" fill="#000"/>
<line x1="488.10" y1="440.15" x2="488.10" y2="433.90" stroke="#000" stroke-width="2.6" stroke-linecap="butt"/>
<line x1="488.10" y1="440.15" x2="494.04" y2="438.22" stroke="#000" stroke-width="2.6" stroke-linecap="butt"/>
<line x1="488.10" y1="440.15" x2="491.77" y2="445.21" stroke="#000" stroke-width="2.6" stroke-linecap="butt"/>
<line x1="488.10" y1="440.15" x2="484.43" y2="445.21" stroke="#000" stroke-width="2.6" stroke-linecap="butt"/>
<line x1="488.10" y1="440.15" x2="482.16" y2="438.22" stroke="#000" stroke-width="2.6" stroke-linecap="butt"/>
<circle cx="488.10" cy="440.15" r="1.95" fill="#000"/>
<line x1="553.20" y1="448.35" x2="553.20" y2="442.10" stroke="#000" stroke-width="2.6" stroke-linecap="butt"/>
<line x1="553.20" y1="448.35" x2="559.14" y2="446.42" stroke="#000" stroke-width="2.6" stroke-linecap="butt"/>
<line x1="553.20" y1="448.35" x2="556.87" y2="453.41" stroke="#000" stroke-width="2.6" stroke-linecap="butt"/>
<line x1="553.20" y1="448.35" x2="549.53" y2="453.41" stroke="#000" stroke-width="2.6" stroke-linecap="butt"/>
<line x1="553.20" y1="448.35" x2="547.26" y2="446.42" stroke="#000" stroke-width="2.6" stroke-linecap="butt"/>
<circle cx="553.20" cy="448.35" r="1.95" fill="#000"/>
<line x1="617.20" y1="471.20" x2="617.20" y2="464.95" stroke="#000" stroke-width="2.6" stroke-linecap="butt"/>
<line x1="617.20" y1="471.20" x2="623.14" y2="469.27" stroke="#000" stroke-width="2.6" stroke-linecap="butt"/>
<line x1="617.20" y1="471.20" x2="620.87" y2="476.26" stroke="#000" stroke-width="2.6" stroke-linecap="butt"/>
<line x1="617.20" y1="471.20" x2="613.53" y2="476.26" stroke="#000" stroke-width="2.6" stroke-linecap="butt"/>
<line x1="617.20" y1="471.20" x2="611.26" y2="469.27" stroke="#000" stroke-width="2.6" stroke-linecap="butt"/>
<circle cx="617.20" cy="471.20" r="1.95" fill="#000"/>
<line x1="680.95" y1="478.65" x2="680.95" y2="472.40" stroke="#000" stroke-width="2.6" stroke-linecap="butt"/>
<line x1="680.95" y1="478.65" x2="686.89" y2="476.72" stroke="#000" stroke-width="2.6" stroke-linecap="butt"/>
<line x1="680.95" y1="478.65" x2="684.62" y2="483.71" stroke="#000" stroke-width="2.6" stroke-linecap="butt"/>
<line x1="680.95" y1="478.65" x2="677.28" y2="483.71" stroke="#000" stroke-width="2.6" stroke-linecap="butt"/>
<line x1="680.95" y1="478.65" x2="675.01" y2="476.72" stroke="#000" stroke-width="2.6" stroke-linecap="butt"/>
<circle cx="680.95" cy="478.65" r="1.95" fill="#000"/>
<line x1="102.5" y1="404.1" x2="102.5" y2="616.2" stroke="#4a4a4a" stroke-width="1.1"/>
<line x1="102.0" y1="616.2" x2="745.1" y2="616.2" stroke="#3a3a3a" stroke-width="1.1"/>
<line x1="102.5" y1="615.8" x2="109.0" y2="615.8" stroke="#505050" stroke-width="1.1"/>
<text x="95.3" y="621.8" font-size="17.6" font-weight="normal" text-anchor="end" fill="#262626" stroke="#262626" stroke-width="0.3">0.5</text>
<line x1="102.5" y1="563.4" x2="109.0" y2="563.4" stroke="#505050" stroke-width="1.1"/>
<text x="95.3" y="569.4" font-size="17.6" font-weight="normal" text-anchor="end" fill="#262626" stroke="#262626" stroke-width="0.3">1</text>
<line x1="102.5" y1="510.4" x2="109.0" y2="510.4" stroke="#505050" stroke-width="1.1"/>
<text x="95.3" y="516.4" font-size="17.6" font-weight="normal" text-anchor="end" fill="#262626" stroke="#262626" stroke-width="0.3">1.5</text>
<line x1="102.5" y1="457.1" x2="109.0" y2="457.1" stroke="#505050" stroke-width="1.1"/>
<text x="95.3" y="463.1" font-size="17.6" font-weight="normal" text-anchor="end" fill="#262626" stroke="#262626" stroke-width="0.3">2</text>
<line x1="102.5" y1="404.1" x2="109.0" y2="404.1" stroke="#505050" stroke-width="1.1"/>
<text x="95.3" y="410.1" font-size="17.6" font-weight="normal" text-anchor="end" fill="#262626" stroke="#262626" stroke-width="0.3">2.5</text>
<line x1="166.4" y1="616.2" x2="166.4" y2="609.7" stroke="#505050" stroke-width="1.1"/>
<text x="168" y="641.7" font-size="15.6" font-weight="normal" text-anchor="middle" fill="#262626" stroke="#262626" stroke-width="0.3">50</text>
<line x1="230.7" y1="616.2" x2="230.7" y2="609.7" stroke="#505050" stroke-width="1.1"/>
<text x="233" y="641.7" font-size="15.6" font-weight="normal" text-anchor="middle" fill="#262626" stroke="#262626" stroke-width="0.3">100</text>
<line x1="295.0" y1="616.2" x2="295.0" y2="609.7" stroke="#505050" stroke-width="1.1"/>
<text x="298.8" y="641.7" font-size="15.6" font-weight="normal" text-anchor="middle" fill="#262626" stroke="#262626" stroke-width="0.3">150</text>
<line x1="359.29999999999995" y1="616.2" x2="359.29999999999995" y2="609.7" stroke="#505050" stroke-width="1.1"/>
<text x="362.5" y="641.7" font-size="15.6" font-weight="normal" text-anchor="middle" fill="#262626" stroke="#262626" stroke-width="0.3">200</text>
<line x1="423.6" y1="616.2" x2="423.6" y2="609.7" stroke="#505050" stroke-width="1.1"/>
<text x="424.15" y="641.7" font-size="15.6" font-weight="normal" text-anchor="middle" fill="#262626" stroke="#262626" stroke-width="0.3">250</text>
<line x1="487.9" y1="616.2" x2="487.9" y2="609.7" stroke="#505050" stroke-width="1.1"/>
<text x="488.85" y="641.7" font-size="15.6" font-weight="normal" text-anchor="middle" fill="#262626" stroke="#262626" stroke-width="0.3">300</text>
<line x1="552.1999999999999" y1="616.2" x2="552.1999999999999" y2="609.7" stroke="#505050" stroke-width="1.1"/>
<text x="550" y="641.7" font-size="15.6" font-weight="normal" text-anchor="middle" fill="#262626" stroke="#262626" stroke-width="0.3">350</text>
<line x1="616.5" y1="616.2" x2="616.5" y2="609.7" stroke="#505050" stroke-width="1.1"/>
<text x="619.1" y="641.7" font-size="15.6" font-weight="normal" text-anchor="middle" fill="#262626" stroke="#262626" stroke-width="0.3">400</text>
<line x1="680.8" y1="616.2" x2="680.8" y2="609.7" stroke="#505050" stroke-width="1.1"/>
<text x="685.5" y="641.7" font-size="15.6" font-weight="normal" text-anchor="middle" fill="#262626" stroke="#262626" stroke-width="0.3">450</text>
<text x="397" y="667.7" font-size="18.6" font-weight="bold" text-anchor="middle" fill="#000" ># of trials</text>
<text transform="translate(27,512.5) rotate(-90)" x="0" y="0" font-size="18.6" font-weight="bold" text-anchor="middle" fill="#000">predicted MEP amplitude</text>
<text transform="translate(49,509.4) rotate(-90)" x="0" y="0" font-size="18.6" font-weight="bold" text-anchor="middle" fill="#000">modulation (high / low)</text>
<text x="1.9" y="371.1" font-size="24.5" font-weight="bold" text-anchor="start" fill="#000" >b)</text>
</svg>
</body></html>
